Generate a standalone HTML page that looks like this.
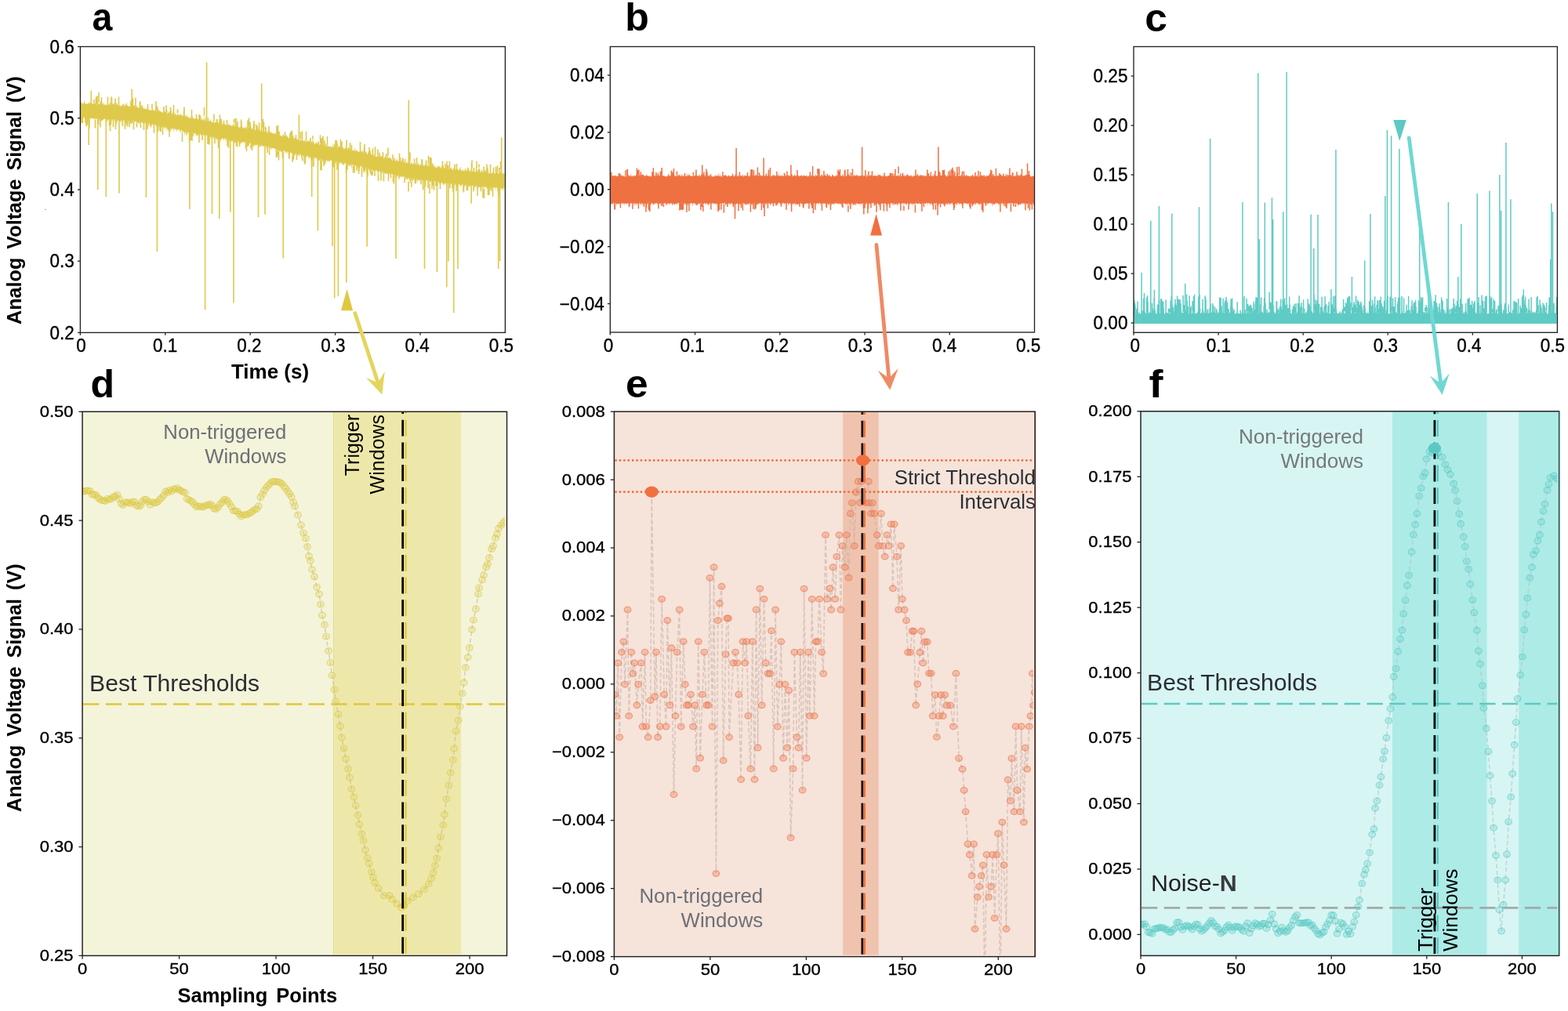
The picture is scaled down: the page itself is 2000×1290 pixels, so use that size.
<!DOCTYPE html><html><head><meta charset="utf-8"><title>Figure</title><style>html,body{margin:0;padding:0;background:#fff;overflow:hidden;}svg{display:block;}text{font-family:"Liberation Sans",Arial,Helvetica,sans-serif;fill:#000;}.tk{stroke:#000;stroke-width:0.35px;}</style></head><body>
<svg width="2000" height="1290" viewBox="0 0 2000 1290">
<rect x="0" y="0" width="2000" height="1290" fill="#ffffff"/>
<defs>
<clipPath id="cA"><rect x="102.4" y="59.5" width="542.0" height="364.9"/></clipPath>
<clipPath id="cB"><rect x="778.3" y="59.5" width="541.2" height="364.5"/></clipPath>
<clipPath id="cC"><rect x="1446.0" y="59.5" width="540.4" height="364.8"/></clipPath>
<clipPath id="cD"><rect x="105.1" y="525.3" width="541.4" height="694.1"/></clipPath>
<clipPath id="cE"><rect x="783.4" y="525.2" width="536.9" height="695.4"/></clipPath>
<clipPath id="cF"><rect x="1455.0" y="524.8" width="533.6" height="694.6"/></clipPath>
</defs>
<polygon points="103.0,132.9 103.5,129.3 104.0,129.7 104.5,131.7 105.0,132.3 105.5,131.7 106.0,131.6 106.5,133.1 107.0,131.2 107.5,128.1 108.0,128.9 108.5,133.1 109.0,131.5 109.5,133.0 110.0,132.4 110.5,132.2 111.0,131.2 111.5,133.0 112.0,133.1 112.5,131.7 113.0,131.2 113.5,129.4 114.0,132.6 114.5,131.8 115.0,128.4 115.5,131.5 116.0,132.5 116.5,130.5 117.0,129.7 117.5,133.8 118.0,131.4 118.5,133.3 119.0,131.9 119.5,132.9 120.0,132.0 120.5,133.2 121.0,132.6 121.5,131.2 122.0,133.6 122.5,131.9 123.0,133.2 123.5,133.6 124.0,131.2 124.5,130.7 125.0,132.5 125.5,132.0 126.0,129.5 126.5,134.1 127.0,133.0 127.5,132.4 128.0,130.6 128.5,132.2 129.0,132.8 129.5,133.5 130.0,132.0 130.5,130.9 131.0,133.0 131.5,133.0 132.0,129.8 132.5,133.8 133.0,134.1 133.5,132.7 134.0,133.6 134.5,134.8 135.0,134.0 135.5,132.5 136.0,133.3 136.5,134.7 137.0,133.7 137.5,133.6 138.0,132.1 138.5,133.4 139.0,134.7 139.5,133.4 140.0,131.7 140.5,130.2 141.0,130.9 141.5,132.8 142.0,134.0 142.5,135.1 143.0,132.6 143.5,131.9 144.0,131.9 144.5,133.9 145.0,131.9 145.5,131.1 146.0,134.7 146.5,131.9 147.0,135.0 147.5,131.4 148.0,130.0 148.5,130.7 149.0,134.1 149.5,133.8 150.0,131.4 150.5,134.7 151.0,133.8 151.5,135.1 152.0,135.9 152.5,135.4 153.0,133.9 153.5,134.9 154.0,135.2 154.5,135.8 155.0,135.5 155.5,132.5 156.0,134.8 156.5,132.8 157.0,135.7 157.5,132.2 158.0,132.6 158.5,134.8 159.0,130.4 159.5,136.2 160.0,135.1 160.5,132.4 161.0,132.8 161.5,129.3 162.0,134.2 162.5,134.7 163.0,134.9 163.5,134.3 164.0,135.9 164.5,135.7 165.0,136.2 165.5,133.7 166.0,136.7 166.5,134.2 167.0,135.6 167.5,135.9 168.0,130.9 168.5,132.9 169.0,134.7 169.5,135.3 170.0,135.4 170.5,135.6 171.0,133.5 171.5,135.0 172.0,134.5 172.5,137.2 173.0,135.6 173.5,135.6 174.0,136.4 174.5,134.7 175.0,136.5 175.5,137.8 176.0,137.5 176.5,137.3 177.0,133.0 177.5,138.3 178.0,137.9 178.5,135.6 179.0,137.2 179.5,137.1 180.0,136.9 180.5,133.4 181.0,137.0 181.5,134.1 182.0,133.4 182.5,137.2 183.0,138.5 183.5,138.4 184.0,138.2 184.5,138.3 185.0,139.4 185.5,139.6 186.0,135.9 186.5,139.8 187.0,138.2 187.5,140.1 188.0,139.2 188.5,138.9 189.0,138.4 189.5,140.0 190.0,140.0 190.5,140.8 191.0,139.9 191.5,140.8 192.0,139.9 192.5,140.3 193.0,141.5 193.5,140.0 194.0,138.0 194.5,139.3 195.0,139.8 195.5,140.0 196.0,141.6 196.5,140.6 197.0,141.5 197.5,140.8 198.0,139.5 198.5,140.2 199.0,139.0 199.5,142.7 200.0,139.6 200.5,143.0 201.0,138.7 201.5,138.2 202.0,139.0 202.5,142.1 203.0,142.0 203.5,139.5 204.0,142.8 204.5,141.0 205.0,142.6 205.5,143.3 206.0,141.4 206.5,143.7 207.0,143.3 207.5,144.0 208.0,142.7 208.5,141.9 209.0,142.5 209.5,143.4 210.0,141.8 210.5,143.9 211.0,140.3 211.5,142.5 212.0,143.8 212.5,143.4 213.0,144.2 213.5,145.2 214.0,145.4 214.5,139.3 215.0,145.3 215.5,143.1 216.0,144.1 216.5,142.0 217.0,142.0 217.5,143.7 218.0,144.1 218.5,141.9 219.0,146.6 219.5,143.7 220.0,146.1 220.5,141.6 221.0,146.6 221.5,145.9 222.0,146.0 222.5,146.5 223.0,145.8 223.5,145.1 224.0,143.5 224.5,147.1 225.0,147.2 225.5,146.9 226.0,145.2 226.5,143.3 227.0,147.0 227.5,146.4 228.0,145.8 228.5,146.5 229.0,145.7 229.5,147.6 230.0,146.7 230.5,143.2 231.0,146.7 231.5,147.4 232.0,147.5 232.5,145.8 233.0,148.4 233.5,147.9 234.0,145.3 234.5,146.2 235.0,148.4 235.5,149.8 236.0,146.6 236.5,146.7 237.0,149.2 237.5,147.0 238.0,148.7 238.5,149.3 239.0,145.3 239.5,148.8 240.0,150.0 240.5,149.1 241.0,150.5 241.5,151.0 242.0,149.9 242.5,150.7 243.0,148.1 243.5,151.1 244.0,150.8 244.5,150.2 245.0,148.8 245.5,149.9 246.0,147.7 246.5,151.1 247.0,151.4 247.5,151.3 248.0,151.0 248.5,151.7 249.0,150.7 249.5,151.9 250.0,148.3 250.5,149.1 251.0,151.5 251.5,148.6 252.0,152.5 252.5,152.2 253.0,152.9 253.5,150.3 254.0,152.4 254.5,143.5 255.0,150.2 255.5,152.9 256.0,153.1 256.5,153.5 257.0,149.1 257.5,151.0 258.0,153.1 258.5,154.3 259.0,150.0 259.5,152.7 260.0,154.3 260.5,146.7 261.0,152.8 261.5,152.5 262.0,155.0 262.5,155.1 263.0,153.0 263.5,155.1 264.0,153.4 264.5,155.0 265.0,148.3 265.5,152.3 266.0,148.1 266.5,155.6 267.0,153.7 267.5,154.5 268.0,155.8 268.5,151.0 269.0,153.9 269.5,154.1 270.0,156.2 270.5,156.7 271.0,156.0 271.5,153.4 272.0,155.6 272.5,156.2 273.0,153.8 273.5,156.9 274.0,157.3 274.5,155.4 275.0,156.1 275.5,156.0 276.0,150.1 276.5,155.2 277.0,156.5 277.5,157.6 278.0,155.4 278.5,157.2 279.0,157.5 279.5,151.7 280.0,158.1 280.5,157.3 281.0,154.4 281.5,153.9 282.0,155.1 282.5,156.0 283.0,153.2 283.5,157.8 284.0,159.4 284.5,156.9 285.0,159.3 285.5,159.2 286.0,155.7 286.5,158.7 287.0,158.8 287.5,159.2 288.0,159.0 288.5,160.0 289.0,159.5 289.5,160.5 290.0,158.5 290.5,159.3 291.0,159.3 291.5,159.2 292.0,156.1 292.5,160.8 293.0,158.4 293.5,160.1 294.0,159.8 294.5,159.3 295.0,161.2 295.5,160.9 296.0,160.0 296.5,158.2 297.0,160.2 297.5,161.7 298.0,157.6 298.5,155.5 299.0,161.0 299.5,160.8 300.0,161.2 300.5,161.1 301.0,161.6 301.5,158.3 302.0,161.8 302.5,161.7 303.0,161.9 303.5,161.0 304.0,161.6 304.5,162.7 305.0,161.1 305.5,163.3 306.0,162.9 306.5,161.5 307.0,163.6 307.5,162.3 308.0,159.8 308.5,161.2 309.0,160.5 309.5,162.5 310.0,163.9 310.5,163.2 311.0,163.6 311.5,161.9 312.0,164.3 312.5,160.5 313.0,164.7 313.5,160.9 314.0,164.5 314.5,161.7 315.0,161.6 315.5,164.9 316.0,165.1 316.5,160.8 317.0,163.4 317.5,159.6 318.0,161.6 318.5,160.7 319.0,164.0 319.5,164.6 320.0,165.6 320.5,162.1 321.0,162.6 321.5,165.0 322.0,164.3 322.5,165.7 323.0,162.4 323.5,165.7 324.0,164.2 324.5,162.1 325.0,165.8 325.5,166.7 326.0,164.2 326.5,163.5 327.0,166.1 327.5,165.4 328.0,166.3 328.5,166.6 329.0,166.8 329.5,164.8 330.0,163.2 330.5,167.2 331.0,167.5 331.5,166.6 332.0,163.0 332.5,168.3 333.0,165.5 333.5,161.8 334.0,166.6 334.5,168.3 335.0,168.2 335.5,161.8 336.0,167.0 336.5,164.5 337.0,167.1 337.5,167.3 338.0,167.3 338.5,165.1 339.0,166.9 339.5,165.8 340.0,169.1 340.5,169.6 341.0,167.7 341.5,165.8 342.0,169.9 342.5,167.4 343.0,167.0 343.5,167.8 344.0,169.5 344.5,165.0 345.0,170.6 345.5,168.3 346.0,170.3 346.5,168.0 347.0,168.5 347.5,169.5 348.0,170.7 348.5,170.2 349.0,171.0 349.5,168.7 350.0,171.6 350.5,171.2 351.0,168.9 351.5,169.3 352.0,170.6 352.5,171.9 353.0,172.3 353.5,170.2 354.0,170.3 354.5,171.0 355.0,172.4 355.5,172.7 356.0,171.6 356.5,171.7 357.0,171.7 357.5,173.6 358.0,171.3 358.5,173.5 359.0,174.1 359.5,173.2 360.0,174.6 360.5,172.6 361.0,171.4 361.5,171.1 362.0,173.0 362.5,174.8 363.0,171.6 363.5,173.9 364.0,172.1 364.5,172.8 365.0,173.6 365.5,171.7 366.0,174.0 366.5,175.0 367.0,173.8 367.5,173.4 368.0,176.2 368.5,176.7 369.0,175.6 369.5,174.4 370.0,174.6 370.5,174.8 371.0,176.0 371.5,176.6 372.0,176.1 372.5,174.8 373.0,174.1 373.5,176.5 374.0,177.8 374.5,174.5 375.0,176.9 375.5,175.7 376.0,175.6 376.5,175.8 377.0,178.8 377.5,178.4 378.0,176.1 378.5,178.2 379.0,178.5 379.5,175.8 380.0,178.6 380.5,178.1 381.0,179.9 381.5,178.4 382.0,178.8 382.5,179.8 383.0,178.9 383.5,176.1 384.0,178.3 384.5,180.3 385.0,178.3 385.5,177.3 386.0,177.8 386.5,178.7 387.0,180.9 387.5,178.7 388.0,181.0 388.5,177.0 389.0,181.5 389.5,178.5 390.0,181.3 390.5,179.1 391.0,181.7 391.5,179.8 392.0,180.5 392.5,179.5 393.0,179.2 393.5,181.4 394.0,177.5 394.5,181.1 395.0,179.1 395.5,181.3 396.0,180.8 396.5,178.6 397.0,183.0 397.5,179.2 398.0,182.6 398.5,179.0 399.0,176.7 399.5,183.1 400.0,177.9 400.5,182.7 401.0,182.1 401.5,184.2 402.0,183.7 402.5,183.0 403.0,180.2 403.5,181.4 404.0,183.4 404.5,184.1 405.0,181.2 405.5,180.7 406.0,179.9 406.5,182.7 407.0,180.6 407.5,185.4 408.0,185.2 408.5,181.5 409.0,185.2 409.5,185.0 410.0,181.8 410.5,182.5 411.0,183.7 411.5,182.4 412.0,182.0 412.5,183.3 413.0,183.9 413.5,186.2 414.0,183.7 414.5,186.3 415.0,183.3 415.5,182.4 416.0,184.2 416.5,186.8 417.0,186.7 417.5,184.0 418.0,183.4 418.5,187.4 419.0,187.0 419.5,186.2 420.0,186.4 420.5,186.6 421.0,187.3 421.5,187.0 422.0,186.8 422.5,187.9 423.0,186.5 423.5,188.3 424.0,187.4 424.5,182.2 425.0,187.3 425.5,187.9 426.0,184.7 426.5,183.1 427.0,184.1 427.5,185.7 428.0,188.8 428.5,182.4 429.0,188.2 429.5,186.0 430.0,188.9 430.5,182.7 431.0,183.2 431.5,186.9 432.0,189.3 432.5,186.3 433.0,186.9 433.5,185.8 434.0,187.0 434.5,186.2 435.0,188.2 435.5,187.4 436.0,188.2 436.5,187.6 437.0,188.3 437.5,187.5 438.0,188.6 438.5,190.7 439.0,189.9 439.5,188.7 440.0,190.6 440.5,186.0 441.0,190.7 441.5,190.4 442.0,189.7 442.5,188.2 443.0,187.0 443.5,191.0 444.0,188.8 444.5,188.2 445.0,187.5 445.5,191.7 446.0,189.8 446.5,192.3 447.0,190.5 447.5,191.7 448.0,188.3 448.5,191.6 449.0,192.4 449.5,191.9 450.0,192.8 450.5,190.8 451.0,190.8 451.5,192.3 452.0,193.2 452.5,186.9 453.0,192.6 453.5,193.4 454.0,188.3 454.5,194.1 455.0,191.2 455.5,192.5 456.0,192.0 456.5,193.2 457.0,193.8 457.5,194.5 458.0,192.9 458.5,193.6 459.0,193.6 459.5,192.1 460.0,193.5 460.5,194.0 461.0,190.0 461.5,194.3 462.0,191.8 462.5,192.4 463.0,195.8 463.5,192.4 464.0,195.2 464.5,194.7 465.0,194.0 465.5,196.7 466.0,193.6 466.5,193.2 467.0,194.3 467.5,193.4 468.0,197.0 468.5,196.0 469.0,196.9 469.5,192.6 470.0,195.2 470.5,193.1 471.0,198.0 471.5,198.0 472.0,198.0 472.5,197.2 473.0,194.7 473.5,196.5 474.0,196.4 474.5,198.1 475.0,197.6 475.5,197.3 476.0,197.4 476.5,198.6 477.0,197.9 477.5,197.2 478.0,198.7 478.5,197.4 479.0,199.9 479.5,199.7 480.0,199.6 480.5,199.9 481.0,200.1 481.5,195.7 482.0,196.5 482.5,198.9 483.0,199.7 483.5,197.6 484.0,200.9 484.5,201.5 485.0,200.1 485.5,197.5 486.0,201.5 486.5,198.8 487.0,199.7 487.5,198.6 488.0,199.3 488.5,200.6 489.0,201.3 489.5,202.9 490.0,201.1 490.5,201.0 491.0,200.4 491.5,198.1 492.0,200.1 492.5,200.6 493.0,199.8 493.5,203.0 494.0,202.1 494.5,198.6 495.0,197.3 495.5,202.0 496.0,201.0 496.5,201.2 497.0,201.5 497.5,201.7 498.0,200.9 498.5,202.3 499.0,202.1 499.5,204.5 500.0,203.2 500.5,205.5 501.0,202.4 501.5,202.0 502.0,204.9 502.5,202.3 503.0,200.2 503.5,201.3 504.0,203.8 504.5,206.3 505.0,204.9 505.5,201.0 506.0,206.2 506.5,203.4 507.0,203.5 507.5,205.4 508.0,206.5 508.5,206.0 509.0,205.8 509.5,207.1 510.0,205.4 510.5,206.2 511.0,207.8 511.5,204.9 512.0,205.7 512.5,200.6 513.0,207.1 513.5,202.5 514.0,207.3 514.5,208.1 515.0,206.2 515.5,207.4 516.0,207.6 516.5,207.5 517.0,208.8 517.5,208.5 518.0,207.3 518.5,206.1 519.0,208.9 519.5,206.6 520.0,207.6 520.5,208.1 521.0,208.2 521.5,202.4 522.0,209.0 522.5,206.9 523.0,204.4 523.5,209.8 524.0,209.3 524.5,207.1 525.0,205.4 525.5,209.3 526.0,209.3 526.5,210.1 527.0,207.1 527.5,207.4 528.0,209.9 528.5,205.8 529.0,210.3 529.5,206.0 530.0,208.0 530.5,210.9 531.0,208.4 531.5,208.1 532.0,207.0 532.5,210.5 533.0,209.7 533.5,207.2 534.0,208.8 534.5,210.8 535.0,211.3 535.5,211.5 536.0,208.5 536.5,210.0 537.0,210.4 537.5,211.7 538.0,211.3 538.5,211.4 539.0,206.1 539.5,210.4 540.0,211.5 540.5,211.6 541.0,210.7 541.5,211.2 542.0,211.4 542.5,209.9 543.0,208.5 543.5,212.7 544.0,209.4 544.5,212.2 545.0,209.7 545.5,210.4 546.0,213.0 546.5,209.3 547.0,211.6 547.5,212.5 548.0,209.5 548.5,210.9 549.0,207.8 549.5,212.5 550.0,213.0 550.5,210.3 551.0,207.8 551.5,210.2 552.0,207.0 552.5,209.7 553.0,211.8 553.5,213.1 554.0,207.5 554.5,214.1 555.0,213.1 555.5,214.1 556.0,210.8 556.5,213.3 557.0,214.4 557.5,213.8 558.0,213.8 558.5,212.0 559.0,211.3 559.5,212.3 560.0,212.6 560.5,210.8 561.0,214.2 561.5,213.1 562.0,215.3 562.5,213.7 563.0,209.5 563.5,212.6 564.0,215.5 564.5,214.0 565.0,211.8 565.5,210.0 566.0,213.6 566.5,215.5 567.0,214.4 567.5,214.0 568.0,213.9 568.5,213.6 569.0,214.3 569.5,213.9 570.0,216.3 570.5,216.1 571.0,212.8 571.5,214.3 572.0,216.6 572.5,215.6 573.0,213.0 573.5,214.9 574.0,214.7 574.5,213.8 575.0,215.2 575.5,213.9 576.0,216.4 576.5,214.6 577.0,215.5 577.5,217.5 578.0,216.6 578.5,213.7 579.0,214.2 579.5,215.4 580.0,217.5 580.5,215.4 581.0,216.6 581.5,217.7 582.0,214.3 582.5,216.8 583.0,216.2 583.5,214.7 584.0,217.7 584.5,216.7 585.0,214.2 585.5,218.4 586.0,215.9 586.5,215.9 587.0,213.3 587.5,212.6 588.0,218.3 588.5,218.0 589.0,215.6 589.5,218.5 590.0,217.4 590.5,215.1 591.0,218.4 591.5,217.9 592.0,217.6 592.5,218.5 593.0,215.3 593.5,214.0 594.0,216.4 594.5,217.1 595.0,218.1 595.5,218.2 596.0,213.7 596.5,211.9 597.0,217.7 597.5,218.6 598.0,217.9 598.5,218.6 599.0,219.2 599.5,216.4 600.0,217.3 600.5,219.3 601.0,219.6 601.5,219.6 602.0,213.5 602.5,219.2 603.0,219.6 603.5,217.2 604.0,219.1 604.5,218.6 605.0,218.5 605.5,219.7 606.0,219.1 606.5,220.1 607.0,215.0 607.5,211.2 608.0,213.9 608.5,218.1 609.0,220.3 609.5,215.7 610.0,217.0 610.5,216.8 611.0,212.8 611.5,219.8 612.0,218.3 612.5,220.4 613.0,218.7 613.5,220.5 614.0,214.2 614.5,218.1 615.0,217.2 615.5,220.3 616.0,217.1 616.5,221.0 617.0,218.2 617.5,219.7 618.0,217.9 618.5,217.4 619.0,216.9 619.5,217.1 620.0,220.2 620.5,218.2 621.0,218.2 621.5,220.9 622.0,220.0 622.5,220.2 623.0,217.7 623.5,221.2 624.0,221.7 624.5,221.5 625.0,221.8 625.5,221.3 626.0,220.3 626.5,221.6 627.0,221.4 627.5,220.1 628.0,221.0 628.5,221.8 629.0,216.3 629.5,220.9 630.0,221.5 630.5,219.7 631.0,221.9 631.5,222.1 632.0,221.8 632.5,222.5 633.0,221.3 633.5,217.5 634.0,217.5 634.5,218.2 635.0,221.7 635.5,220.9 636.0,221.7 636.5,221.2 637.0,220.7 637.5,219.4 638.0,222.1 638.5,214.9 639.0,220.2 639.5,222.4 640.0,222.1 640.5,221.6 641.0,222.4 641.5,219.2 642.0,221.3 642.5,221.3 643.0,221.4 643.5,221.9 643.5,240.6 643.0,239.5 642.5,240.2 642.0,246.1 641.5,239.4 641.0,240.3 640.5,243.3 640.0,241.3 639.5,239.7 639.0,242.9 638.5,240.0 638.0,239.7 637.5,240.3 637.0,240.8 636.5,243.7 636.0,239.4 635.5,239.3 635.0,245.5 634.5,243.8 634.0,239.7 633.5,239.2 633.0,239.3 632.5,239.6 632.0,244.5 631.5,239.0 631.0,239.7 630.5,238.8 630.0,239.2 629.5,239.5 629.0,240.7 628.5,239.4 628.0,239.1 627.5,238.8 627.0,238.6 626.5,238.5 626.0,241.2 625.5,242.1 625.0,239.3 624.5,239.3 624.0,239.2 623.5,239.6 623.0,241.6 622.5,239.8 622.0,240.0 621.5,242.4 621.0,238.1 620.5,240.6 620.0,238.7 619.5,239.7 619.0,237.5 618.5,238.8 618.0,238.2 617.5,241.7 617.0,237.4 616.5,237.8 616.0,242.6 615.5,241.3 615.0,240.1 614.5,237.4 614.0,237.7 613.5,237.6 613.0,240.3 612.5,238.3 612.0,239.3 611.5,237.8 611.0,238.8 610.5,239.4 610.0,240.8 609.5,237.1 609.0,238.5 608.5,238.0 608.0,240.4 607.5,236.9 607.0,236.4 606.5,239.0 606.0,238.8 605.5,237.5 605.0,241.1 604.5,240.4 604.0,239.1 603.5,236.3 603.0,238.6 602.5,236.8 602.0,236.4 601.5,237.2 601.0,237.0 600.5,237.6 600.0,238.2 599.5,236.2 599.0,238.2 598.5,238.8 598.0,239.5 597.5,236.1 597.0,239.3 596.5,235.7 596.0,237.4 595.5,239.2 595.0,243.0 594.5,235.4 594.0,237.3 593.5,235.7 593.0,237.9 592.5,237.2 592.0,239.6 591.5,236.5 591.0,235.1 590.5,236.0 590.0,235.1 589.5,235.2 589.0,235.7 588.5,237.8 588.0,237.4 587.5,238.2 587.0,236.8 586.5,235.3 586.0,235.2 585.5,235.6 585.0,235.7 584.5,235.7 584.0,237.4 583.5,234.9 583.0,235.2 582.5,239.3 582.0,236.5 581.5,235.0 581.0,236.0 580.5,235.4 580.0,234.2 579.5,241.4 579.0,236.8 578.5,241.7 578.0,238.5 577.5,234.1 577.0,234.0 576.5,236.8 576.0,234.7 575.5,233.4 575.0,235.3 574.5,233.7 574.0,235.2 573.5,235.2 573.0,234.5 572.5,233.8 572.0,234.0 571.5,233.6 571.0,235.7 570.5,234.2 570.0,233.5 569.5,236.2 569.0,232.7 568.5,236.0 568.0,232.6 567.5,235.4 567.0,236.4 566.5,233.2 566.0,237.0 565.5,235.8 565.0,234.8 564.5,233.7 564.0,233.5 563.5,232.1 563.0,235.3 562.5,234.3 562.0,232.3 561.5,233.3 561.0,235.7 560.5,234.4 560.0,233.0 559.5,232.7 559.0,231.6 558.5,231.4 558.0,233.1 557.5,235.6 557.0,233.2 556.5,231.7 556.0,230.9 555.5,231.0 555.0,231.9 554.5,230.8 554.0,232.1 553.5,233.4 553.0,231.2 552.5,230.1 552.0,237.9 551.5,232.1 551.0,232.2 550.5,230.7 550.0,230.0 549.5,233.0 549.0,234.0 548.5,230.2 548.0,235.6 547.5,233.9 547.0,229.4 546.5,229.9 546.0,230.0 545.5,229.5 545.0,231.2 544.5,229.9 544.0,231.5 543.5,229.2 543.0,230.4 542.5,230.4 542.0,236.5 541.5,231.5 541.0,232.9 540.5,231.1 540.0,229.7 539.5,231.4 539.0,232.2 538.5,229.4 538.0,229.3 537.5,230.0 537.0,229.4 536.5,230.5 536.0,228.4 535.5,230.9 535.0,228.2 534.5,232.9 534.0,229.0 533.5,230.1 533.0,230.0 532.5,232.9 532.0,229.4 531.5,227.4 531.0,230.1 530.5,228.5 530.0,227.2 529.5,227.0 529.0,227.9 528.5,228.0 528.0,231.0 527.5,229.6 527.0,226.9 526.5,232.8 526.0,230.4 525.5,230.3 525.0,233.5 524.5,229.4 524.0,226.7 523.5,229.5 523.0,231.6 522.5,230.1 522.0,227.5 521.5,227.3 521.0,233.0 520.5,225.9 520.0,227.4 519.5,228.9 519.0,229.0 518.5,228.2 518.0,229.9 517.5,225.1 517.0,229.6 516.5,228.2 516.0,228.7 515.5,225.1 515.0,226.1 514.5,225.2 514.0,225.7 513.5,224.7 513.0,227.4 512.5,224.6 512.0,227.5 511.5,224.7 511.0,225.0 510.5,226.7 510.0,224.4 509.5,228.2 509.0,228.9 508.5,229.6 508.0,223.6 507.5,223.6 507.0,228.2 506.5,224.1 506.0,226.7 505.5,224.9 505.0,223.0 504.5,225.7 504.0,229.8 503.5,222.6 503.0,223.5 502.5,223.1 502.0,223.9 501.5,225.2 501.0,223.0 500.5,222.6 500.0,221.8 499.5,221.5 499.0,222.9 498.5,221.5 498.0,223.9 497.5,221.8 497.0,222.5 496.5,220.8 496.0,224.0 495.5,223.6 495.0,220.8 494.5,223.9 494.0,221.2 493.5,221.8 493.0,221.9 492.5,221.9 492.0,220.8 491.5,222.3 491.0,220.2 490.5,221.8 490.0,219.8 489.5,220.5 489.0,219.8 488.5,219.3 488.0,221.4 487.5,218.4 487.0,221.9 486.5,219.1 486.0,218.7 485.5,221.7 485.0,217.8 484.5,219.3 484.0,221.4 483.5,217.5 483.0,219.5 482.5,222.4 482.0,220.8 481.5,217.0 481.0,222.3 480.5,216.8 480.0,218.2 479.5,217.5 479.0,216.8 478.5,219.8 478.0,216.3 477.5,217.3 477.0,216.7 476.5,219.0 476.0,217.7 475.5,218.3 475.0,219.5 474.5,216.0 474.0,216.6 473.5,218.9 473.0,215.7 472.5,215.6 472.0,215.2 471.5,220.7 471.0,217.7 470.5,214.4 470.0,217.7 469.5,214.6 469.0,214.4 468.5,218.0 468.0,217.0 467.5,221.4 467.0,215.6 466.5,213.3 466.0,215.9 465.5,214.2 465.0,214.9 464.5,212.9 464.0,214.4 463.5,217.0 463.0,213.1 462.5,213.5 462.0,215.3 461.5,214.8 461.0,212.6 460.5,211.8 460.0,211.6 459.5,214.0 459.0,213.1 458.5,215.5 458.0,212.2 457.5,213.0 457.0,212.9 456.5,213.5 456.0,214.8 455.5,214.6 455.0,211.6 454.5,210.3 454.0,211.4 453.5,211.8 453.0,210.7 452.5,211.5 452.0,211.3 451.5,209.7 451.0,210.1 450.5,213.5 450.0,210.6 449.5,209.1 449.0,215.8 448.5,214.4 448.0,211.1 447.5,209.1 447.0,211.4 446.5,213.6 446.0,211.4 445.5,211.8 445.0,210.4 444.5,210.4 444.0,210.2 443.5,210.5 443.0,208.2 442.5,211.1 442.0,212.1 441.5,213.2 441.0,209.6 440.5,208.2 440.0,207.8 439.5,207.9 439.0,212.2 438.5,209.8 438.0,210.2 437.5,211.0 437.0,208.2 436.5,207.4 436.0,210.9 435.5,208.6 435.0,207.6 434.5,207.0 434.0,209.4 433.5,207.0 433.0,207.6 432.5,209.8 432.0,209.1 431.5,206.9 431.0,206.5 430.5,206.9 430.0,208.4 429.5,206.5 429.0,205.8 428.5,211.1 428.0,208.4 427.5,205.5 427.0,207.6 426.5,205.5 426.0,207.6 425.5,205.4 425.0,205.3 424.5,208.1 424.0,213.0 423.5,207.2 423.0,204.5 422.5,205.3 422.0,204.5 421.5,204.0 421.0,205.7 420.5,206.1 420.0,206.5 419.5,204.6 419.0,205.9 418.5,206.3 418.0,204.9 417.5,204.5 417.0,206.7 416.5,203.7 416.0,208.9 415.5,206.1 415.0,203.6 414.5,203.1 414.0,203.8 413.5,205.3 413.0,206.0 412.5,203.7 412.0,206.2 411.5,204.9 411.0,207.0 410.5,202.9 410.0,206.5 409.5,202.2 409.0,205.3 408.5,205.2 408.0,203.2 407.5,204.5 407.0,206.2 406.5,204.5 406.0,204.0 405.5,203.3 405.0,201.4 404.5,201.4 404.0,205.7 403.5,201.5 403.0,201.5 402.5,200.9 402.0,202.4 401.5,202.5 401.0,200.8 400.5,201.2 400.0,201.5 399.5,201.8 399.0,204.4 398.5,201.3 398.0,202.3 397.5,203.6 397.0,203.5 396.5,205.5 396.0,201.1 395.5,200.1 395.0,200.0 394.5,201.8 394.0,203.5 393.5,201.7 393.0,199.1 392.5,199.3 392.0,198.9 391.5,200.1 391.0,199.6 390.5,200.3 390.0,201.8 389.5,198.3 389.0,202.8 388.5,199.3 388.0,199.1 387.5,197.7 387.0,201.5 386.5,198.6 386.0,201.3 385.5,198.4 385.0,199.8 384.5,204.8 384.0,199.6 383.5,196.8 383.0,197.0 382.5,196.5 382.0,197.6 381.5,200.6 381.0,199.5 380.5,197.5 380.0,196.9 379.5,198.9 379.0,198.3 378.5,195.7 378.0,195.7 377.5,195.6 377.0,196.9 376.5,196.5 376.0,197.5 375.5,195.4 375.0,196.4 374.5,195.3 374.0,198.0 373.5,196.8 373.0,199.7 372.5,198.1 372.0,193.9 371.5,195.9 371.0,195.0 370.5,193.8 370.0,195.9 369.5,196.0 369.0,194.5 368.5,196.3 368.0,193.3 367.5,193.7 367.0,197.0 366.5,193.4 366.0,193.1 365.5,195.3 365.0,195.9 364.5,194.6 364.0,193.4 363.5,193.2 363.0,192.5 362.5,192.1 362.0,191.4 361.5,196.0 361.0,192.9 360.5,193.8 360.0,194.1 359.5,192.2 359.0,195.2 358.5,193.3 358.0,194.1 357.5,190.9 357.0,195.1 356.5,191.9 356.0,192.9 355.5,194.4 355.0,194.7 354.5,192.6 354.0,190.4 353.5,192.8 353.0,190.5 352.5,192.3 352.0,189.9 351.5,190.3 351.0,192.5 350.5,189.6 350.0,189.5 349.5,189.0 349.0,189.2 348.5,189.3 348.0,188.5 347.5,189.5 347.0,188.5 346.5,191.6 346.0,187.4 345.5,192.2 345.0,187.7 344.5,189.4 344.0,186.7 343.5,186.6 343.0,186.5 342.5,187.0 342.0,188.0 341.5,189.4 341.0,186.7 340.5,186.9 340.0,186.8 339.5,186.8 339.0,189.9 338.5,185.8 338.0,185.8 337.5,186.2 337.0,186.5 336.5,186.0 336.0,186.4 335.5,187.0 335.0,187.7 334.5,185.0 334.0,185.9 333.5,185.1 333.0,187.4 332.5,186.2 332.0,187.0 331.5,189.0 331.0,184.3 330.5,188.0 330.0,187.3 329.5,184.3 329.0,184.7 328.5,184.2 328.0,184.7 327.5,185.7 327.0,184.5 326.5,185.6 326.0,186.4 325.5,185.5 325.0,183.6 324.5,185.7 324.0,185.1 323.5,190.1 323.0,183.0 322.5,184.2 322.0,184.8 321.5,183.1 321.0,185.4 320.5,182.5 320.0,185.5 319.5,183.2 319.0,183.6 318.5,181.8 318.0,184.0 317.5,182.9 317.0,182.8 316.5,181.6 316.0,183.6 315.5,181.4 315.0,186.1 314.5,181.5 314.0,181.1 313.5,183.0 313.0,181.8 312.5,181.6 312.0,181.8 311.5,182.0 311.0,180.8 310.5,181.7 310.0,181.6 309.5,181.3 309.0,183.0 308.5,180.6 308.0,183.2 307.5,181.7 307.0,183.4 306.5,184.8 306.0,180.1 305.5,179.5 305.0,184.1 304.5,181.1 304.0,180.8 303.5,180.0 303.0,179.5 302.5,179.9 302.0,180.7 301.5,181.1 301.0,181.2 300.5,181.7 300.0,181.8 299.5,183.3 299.0,181.3 298.5,180.3 298.0,180.3 297.5,182.3 297.0,179.5 296.5,179.8 296.0,181.0 295.5,181.0 295.0,178.5 294.5,180.3 294.0,179.7 293.5,178.8 293.0,180.2 292.5,178.4 292.0,180.8 291.5,177.9 291.0,177.4 290.5,179.9 290.0,179.1 289.5,177.5 289.0,177.5 288.5,177.0 288.0,181.6 287.5,177.6 287.0,178.1 286.5,176.0 286.0,177.0 285.5,179.7 285.0,178.3 284.5,176.2 284.0,177.3 283.5,176.1 283.0,176.6 282.5,177.4 282.0,177.6 281.5,178.9 281.0,183.5 280.5,176.4 280.0,179.6 279.5,175.4 279.0,175.1 278.5,177.3 278.0,179.0 277.5,176.4 277.0,178.1 276.5,180.6 276.0,175.6 275.5,176.2 275.0,178.4 274.5,174.8 274.0,176.8 273.5,177.3 273.0,174.3 272.5,177.3 272.0,174.9 271.5,174.0 271.0,176.2 270.5,174.3 270.0,178.0 269.5,176.1 269.0,173.8 268.5,175.3 268.0,176.5 267.5,173.6 267.0,173.4 266.5,173.4 266.0,173.7 265.5,175.2 265.0,174.3 264.5,174.5 264.0,172.8 263.5,172.3 263.0,174.2 262.5,172.5 262.0,171.6 261.5,171.4 261.0,171.9 260.5,173.8 260.0,172.4 259.5,171.5 259.0,174.3 258.5,170.9 258.0,171.2 257.5,172.1 257.0,171.9 256.5,172.3 256.0,173.2 255.5,169.9 255.0,172.9 254.5,174.1 254.0,172.6 253.5,169.8 253.0,170.3 252.5,172.7 252.0,173.7 251.5,172.5 251.0,173.0 250.5,172.4 250.0,173.4 249.5,170.5 249.0,169.4 248.5,171.2 248.0,169.5 247.5,171.3 247.0,171.6 246.5,168.3 246.0,170.9 245.5,171.3 245.0,169.3 244.5,172.4 244.0,169.3 243.5,170.2 243.0,173.6 242.5,172.0 242.0,167.2 241.5,171.5 241.0,168.8 240.5,171.3 240.0,168.6 239.5,168.6 239.0,171.7 238.5,167.3 238.0,166.7 237.5,167.8 237.0,169.4 236.5,169.7 236.0,166.9 235.5,174.7 235.0,168.1 234.5,169.2 234.0,167.7 233.5,167.3 233.0,168.7 232.5,169.9 232.0,165.9 231.5,166.0 231.0,166.0 230.5,169.1 230.0,166.9 229.5,170.4 229.0,166.1 228.5,164.9 228.0,165.2 227.5,165.5 227.0,164.6 226.5,165.8 226.0,166.1 225.5,168.9 225.0,166.0 224.5,164.9 224.0,163.8 223.5,165.5 223.0,166.5 222.5,163.7 222.0,163.6 221.5,169.0 221.0,165.5 220.5,163.4 220.0,163.7 219.5,165.7 219.0,165.6 218.5,163.0 218.0,165.5 217.5,167.4 217.0,163.3 216.5,162.9 216.0,164.5 215.5,164.7 215.0,162.0 214.5,162.5 214.0,166.9 213.5,162.9 213.0,164.7 212.5,161.7 212.0,168.6 211.5,163.7 211.0,161.6 210.5,162.4 210.0,165.3 209.5,160.9 209.0,164.7 208.5,163.6 208.0,160.6 207.5,160.8 207.0,162.5 206.5,160.7 206.0,162.8 205.5,165.2 205.0,161.0 204.5,160.5 204.0,160.0 203.5,165.6 203.0,162.0 202.5,159.7 202.0,163.5 201.5,161.7 201.0,160.1 200.5,159.0 200.0,161.2 199.5,161.1 199.0,160.6 198.5,159.8 198.0,159.6 197.5,158.6 197.0,159.2 196.5,160.6 196.0,164.1 195.5,159.4 195.0,158.3 194.5,158.3 194.0,160.1 193.5,159.2 193.0,159.7 192.5,159.4 192.0,158.2 191.5,161.2 191.0,161.1 190.5,157.2 190.0,157.1 189.5,162.3 189.0,160.6 188.5,158.3 188.0,160.3 187.5,156.8 187.0,157.8 186.5,158.4 186.0,157.6 185.5,156.1 185.0,156.7 184.5,156.9 184.0,159.5 183.5,157.3 183.0,157.6 182.5,158.6 182.0,155.4 181.5,157.7 181.0,156.6 180.5,155.3 180.0,156.6 179.5,159.9 179.0,160.5 178.5,156.7 178.0,160.9 177.5,155.0 177.0,156.7 176.5,157.4 176.0,156.7 175.5,157.2 175.0,155.7 174.5,157.5 174.0,154.7 173.5,155.6 173.0,154.5 172.5,154.8 172.0,155.8 171.5,155.3 171.0,154.4 170.5,154.4 170.0,154.0 169.5,153.1 169.0,156.3 168.5,152.9 168.0,157.1 167.5,153.7 167.0,153.6 166.5,159.7 166.0,155.8 165.5,154.3 165.0,154.6 164.5,153.9 164.0,159.5 163.5,155.7 163.0,153.2 162.5,155.8 162.0,155.5 161.5,153.5 161.0,154.2 160.5,152.9 160.0,156.5 159.5,154.4 159.0,157.3 158.5,153.4 158.0,153.1 157.5,154.1 157.0,153.2 156.5,152.5 156.0,153.2 155.5,154.3 155.0,153.2 154.5,159.6 154.0,155.6 153.5,153.0 153.0,156.8 152.5,155.9 152.0,154.5 151.5,154.2 151.0,153.1 150.5,153.4 150.0,157.2 149.5,153.3 149.0,156.5 148.5,154.2 148.0,155.4 147.5,153.9 147.0,152.2 146.5,157.0 146.0,152.6 145.5,151.8 145.0,154.9 144.5,153.5 144.0,152.0 143.5,153.8 143.0,151.9 142.5,152.7 142.0,155.6 141.5,153.8 141.0,154.4 140.5,155.6 140.0,151.4 139.5,151.5 139.0,151.2 138.5,152.6 138.0,152.5 137.5,155.8 137.0,151.8 136.5,156.4 136.0,152.5 135.5,152.1 135.0,151.6 134.5,151.6 134.0,151.2 133.5,152.1 133.0,152.0 132.5,152.4 132.0,152.2 131.5,152.4 131.0,153.1 130.5,154.5 130.0,153.3 129.5,154.4 129.0,154.6 128.5,157.5 128.0,152.5 127.5,154.1 127.0,151.4 126.5,151.1 126.0,159.1 125.5,150.5 125.0,153.2 124.5,151.0 124.0,151.2 123.5,153.2 123.0,151.1 122.5,151.3 122.0,151.0 121.5,154.1 121.0,153.8 120.5,150.5 120.0,152.4 119.5,151.4 119.0,150.3 118.5,151.7 118.0,152.5 117.5,150.0 117.0,151.8 116.5,150.3 116.0,153.1 115.5,150.3 115.0,151.6 114.5,150.9 114.0,152.4 113.5,150.5 113.0,152.3 112.5,150.1 112.0,150.5 111.5,150.2 111.0,150.3 110.5,152.3 110.0,151.2 109.5,152.0 109.0,151.3 108.5,154.1 108.0,150.5 107.5,150.0 107.0,149.8 106.5,149.3 106.0,153.0 105.5,149.7 105.0,149.8 104.5,150.0 104.0,149.7 103.5,151.9 103.0,154.5" fill="#dfc94b" clip-path="url(#cA)"/>
<path d="M549.0 208.8V204.4M539.5 230.4V242.3M399.0 177.7V173.3M360.5 192.8V202.0M336.0 168.0V161.6M192.5 158.4V162.6M254.0 153.4V146.2M238.0 165.7V172.5M199.0 140.0V129.3M523.5 228.5V233.7M551.0 231.2V240.8M608.0 214.9V205.7M128.0 151.5V162.6M413.0 205.0V212.1M410.5 183.5V176.2M525.0 232.5V238.8M411.0 184.7V178.8M553.5 232.4V242.8M363.5 174.9V168.2M324.5 163.1V158.1M498.5 220.5V227.1M274.0 175.8V183.2M528.5 206.8V202.5M405.5 202.3V211.9M611.5 220.8V215.2M436.0 189.2V180.6M409.5 186.0V176.8M152.0 153.5V159.1M104.0 148.7V157.3M628.5 238.4V251.1M129.5 134.5V124.3M621.0 219.2V209.6M305.5 178.5V186.7M591.0 234.1V244.1M637.0 221.7V213.9M289.5 161.5V153.1M558.0 232.1V237.4M165.0 153.6V162.1M301.0 162.6V151.0M478.5 198.4V187.2M217.5 144.7V136.7M142.5 136.1V124.5M301.5 180.1V186.0M221.0 147.6V142.5M461.5 213.8V225.8M111.5 149.2V158.7M429.5 187.0V178.9M450.5 212.5V220.4M582.5 217.8V209.1M285.5 160.2V154.1M183.5 156.3V165.9M196.5 159.6V169.7M626.5 237.5V243.7M188.0 159.3V164.5M179.0 138.2V131.1M602.0 214.5V204.3M250.5 150.1V145.8M521.0 232.0V244.4M314.5 180.5V193.1M609.0 237.5V249.8M110.0 150.2V161.2M551.5 231.1V236.1M564.5 215.0V205.4M354.5 172.0V160.1M356.0 172.6V167.4M472.0 199.0V191.9M246.0 169.9V174.0M486.0 217.7V230.4M316.0 166.1V153.6M595.5 238.2V243.4M320.0 184.5V189.5M510.5 207.2V201.0M319.5 165.6V160.3M273.0 154.8V145.6M383.5 177.1V168.4M159.5 153.4V165.1M212.0 144.8V134.2M147.5 152.9V165.1M390.5 180.1V167.8M205.0 160.0V168.3M204.0 159.0V166.7M258.0 170.2V179.0M105.5 148.7V156.9M277.0 157.5V152.1M327.0 167.1V158.8M369.0 193.5V202.8M622.0 221.0V214.2M216.0 163.5V174.7M144.5 152.5V162.3M475.5 198.3V189.2M338.5 166.1V161.5M321.5 182.1V191.9M398.0 201.3V212.0M611.0 213.8V209.6M484.0 201.9V194.8M577.0 233.0V240.4M493.0 200.8V196.1M538.0 212.3V203.0M516.5 208.5V202.9M632.5 223.5V212.8M582.0 235.5V243.9M601.5 220.6V208.2M414.5 202.1V208.8M323.5 166.7V158.3M377.5 179.4V172.0M514.0 208.3V201.5M455.0 210.6V218.1M263.5 156.1V146.9M141.5 152.8V158.9M201.5 160.7V168.1M537.0 228.4V235.2M509.5 208.1V195.5M452.0 210.3V220.6M502.5 222.1V234.5M448.5 192.6V184.7M386.0 200.3V205.5M622.5 238.8V249.0M409.0 204.3V217.0M266.5 172.4V184.6M442.0 190.7V178.4M389.5 197.3V208.3M167.0 136.6V128.4M529.5 226.0V234.6M596.5 234.7V242.8M214.5 161.5V166.5M370.0 175.6V170.0M371.0 177.0V167.8M573.5 215.9V205.8M617.5 240.7V253.0M328.0 167.3V161.0M571.5 215.3V211.1M501.5 224.2V232.3M316.5 161.8V156.4M173.0 136.6V124.7M472.5 214.6V221.7M167.5 152.7V157.8M218.0 145.1V140.5M469.0 213.4V225.3M465.0 195.0V183.7M109.0 150.3V156.4M162.5 154.8V161.8M561.5 232.3V241.2M372.5 175.8V166.4M629.5 221.9V213.4M495.0 198.3V188.6M170.5 153.4V165.4M291.5 176.9V188.8M226.5 144.3V139.3M317.0 181.8V186.2M290.0 178.1V186.5M128.5 133.2V129.0M241.5 170.5V182.0M324.0 165.2V154.2M147.0 136.0V125.7M584.0 236.4V246.1M471.0 199.0V187.9M397.5 202.6V214.1M120.0 133.0V126.7M121.5 153.1V163.4M279.0 174.1V182.1M243.5 169.2V179.0M624.0 238.2V248.7M501.0 203.4V197.3M244.5 151.2V140.0M216.5 161.9V168.8M341.0 185.7V194.9M375.5 194.4V198.6M636.0 238.4V250.3M578.0 237.5V245.3M546.5 210.3V198.7M574.0 234.2V240.3M583.5 233.9V239.0M282.0 156.1V151.8M597.5 219.6V214.7M617.0 219.2V212.6M546.0 229.0V240.2M568.0 214.9V209.1M430.0 207.4V216.8M303.0 162.9V155.1M495.5 222.6V231.0M148.0 154.4V158.6M396.0 181.8V176.1M505.0 222.0V231.3M267.0 172.4V184.4M161.5 152.5V159.5M280.5 158.3V146.4M179.5 158.9V163.1M308.0 160.8V155.2M408.5 182.5V172.2M638.5 215.9V205.9M475.0 218.5V224.1M221.5 146.9V134.1M353.5 191.8V200.3M302.5 178.9V187.8M489.5 219.5V231.4M156.5 151.5V161.2M604.0 238.1V244.2M473.5 217.9V223.7M482.0 197.5V190.4M388.5 198.3V209.7M412.0 183.0V173.5M634.5 219.2V211.2M139.5 150.5V160.3M330.5 168.2V156.5M278.5 176.3V189.0M353.0 173.3V160.6M125.5 149.5V159.1M151.5 136.1V123.4M441.5 212.2V220.9M178.5 136.6V129.1M604.5 219.6V214.0M124.0 132.2V122.2M343.5 185.6V197.8M188.5 139.9V133.1M336.5 165.5V155.9M343.0 168.0V161.1M417.5 185.0V174.0M468.0 216.0V221.2M385.5 178.3V167.2M313.5 182.0V189.2M137.5 134.6V123.7M552.5 229.1V236.7M111.0 149.3V159.7M374.5 194.3V203.6M625.5 222.3V209.7M368.5 195.3V200.7M443.0 207.2V216.4M122.5 132.9V123.6M354.0 171.3V164.2M317.5 160.6V150.4M323.0 182.0V186.3M464.5 195.7V188.3M428.0 189.8V178.8M140.5 154.6V167.2M187.0 156.8V165.2M378.5 194.7V204.1M355.0 193.7V198.1M523.0 205.4V194.2M464.0 213.4V220.2M319.0 165.0V155.8M160.5 151.9V156.4M413.5 204.3V210.3M531.5 209.1V201.1M260.5 147.7V137.0M522.0 210.0V201.5M245.0 168.3V179.7M168.5 151.9V157.1M548.0 234.6V247.0M459.5 193.1V180.9M478.0 215.3V224.7M414.0 184.7V179.2M232.5 168.9V180.8M580.0 218.5V209.5M400.0 200.5V212.8M488.5 201.6V194.2M255.5 153.9V147.1M516.0 227.7V233.3M446.5 193.3V181.9M114.0 151.4V163.7M263.0 154.0V149.3M200.5 144.0V135.5M465.5 213.2V218.2M174.5 156.5V162.5M542.5 229.4V238.4M570.0 217.3V205.8M307.5 163.3V152.4M207.5 159.8V171.7M550.0 214.0V201.2M209.0 143.5V136.1M235.0 149.4V136.5M194.0 139.0V132.4M339.0 167.9V163.2M355.5 193.4V204.4M613.5 236.6V244.3M234.5 147.2V141.7M434.5 187.2V177.7M530.5 227.5V233.7M591.5 235.5V245.4M212.5 144.4V140.1M126.0 130.5V117.9M298.5 156.5V152.0M315.5 180.4V186.8M352.5 191.3V201.3M457.5 212.0V221.9M373.0 198.7V206.8M335.5 162.8V151.8M373.5 177.5V172.9M556.0 229.9V237.4M458.0 211.2V218.8M616.0 241.6V252.6M169.5 136.3V125.4M543.5 213.7V204.6M142.0 135.0V123.4M300.5 162.1V150.7M425.5 204.4V213.6M410.0 205.5V217.4M538.5 212.4V204.3M265.0 173.3V184.1M482.5 221.4V230.9M548.5 211.9V200.8M113.2 141.6V185.0M124.8 142.3V242.0M135.3 142.9V251.0M152.0 143.9V246.5M186.4 148.2V252.0M200.4 151.0V321.0M241.9 159.2V266.7M254.0 161.6V182.0M261.6 163.1V395.3M270.5 164.8V273.0M279.8 166.7V279.0M293.8 169.3V270.5M298.0 170.1V386.4M329.5 175.8V277.0M338.0 177.3V273.6M361.2 183.0V329.5M397.7 191.9V251.0M405.4 193.2V294.6M424.0 196.5V314.0M426.7 196.9V380.6M431.4 197.8V378.0M441.9 199.6V360.5M468.2 205.6V314.7M505.0 214.8V330.0M541.5 220.5V343.0M557.4 222.8V347.0M569.8 224.5V366.3M572.0 224.9V333.3M578.7 225.8V399.2M584.0 226.3V343.0M601.2 227.8V259.7M635.7 230.8V343.0M637.6 230.9V333.3M116.3 141.8V115.5M168.2 144.9V113.6M263.6 163.5V79.5M333.7 176.6V106.6M381.4 188.0V146.5M521.3 217.6V128.0M639.7 231.1V175.6" fill="none" stroke="#dfc94b" stroke-width="1.60" clip-path="url(#cA)"/>
<polygon points="778.9,222.5 779.4,224.3 779.9,224.6 780.4,225.2 780.9,224.3 781.4,223.9 781.9,224.0 782.4,225.2 782.9,224.3 783.4,224.5 783.9,222.9 784.4,224.2 784.9,224.9 785.4,223.5 785.9,224.5 786.4,224.8 786.9,225.1 787.4,225.2 787.9,223.7 788.4,224.6 788.9,225.2 789.4,225.4 789.9,225.5 790.4,223.6 790.9,224.4 791.4,224.1 791.9,223.7 792.4,223.0 792.9,225.0 793.4,222.7 793.9,224.9 794.4,224.9 794.9,223.1 795.4,225.2 795.9,224.6 796.4,225.4 796.9,224.7 797.4,225.0 797.9,223.4 798.4,225.4 798.9,225.3 799.4,225.5 799.9,224.4 800.4,225.1 800.9,225.0 801.4,222.5 801.9,223.6 802.4,225.3 802.9,223.8 803.4,224.7 803.9,224.9 804.4,224.0 804.9,221.3 805.4,225.0 805.9,225.3 806.4,224.8 806.9,225.4 807.4,224.8 807.9,223.6 808.4,223.7 808.9,225.3 809.4,223.2 809.9,224.6 810.4,225.0 810.9,224.3 811.4,222.1 811.9,223.1 812.4,224.2 812.9,225.3 813.4,222.2 813.9,224.2 814.4,223.6 814.9,224.6 815.4,222.7 815.9,224.5 816.4,221.9 816.9,225.1 817.4,224.2 817.9,222.7 818.4,223.8 818.9,223.0 819.4,222.0 819.9,223.6 820.4,223.3 820.9,222.5 821.4,224.1 821.9,224.7 822.4,225.1 822.9,224.2 823.4,224.7 823.9,223.5 824.4,221.8 824.9,224.4 825.4,223.9 825.9,224.5 826.4,223.8 826.9,225.0 827.4,224.7 827.9,225.1 828.4,225.2 828.9,222.9 829.4,225.0 829.9,225.4 830.4,225.0 830.9,224.6 831.4,224.6 831.9,224.3 832.4,224.3 832.9,224.8 833.4,224.0 833.9,224.1 834.4,223.9 834.9,223.8 835.4,225.4 835.9,223.7 836.4,221.0 836.9,224.1 837.4,224.1 837.9,224.3 838.4,224.7 838.9,221.4 839.4,225.3 839.9,223.8 840.4,224.6 840.9,222.6 841.4,223.9 841.9,225.2 842.4,225.3 842.9,223.5 843.4,224.2 843.9,223.9 844.4,225.3 844.9,225.2 845.4,223.2 845.9,224.4 846.4,224.2 846.9,224.9 847.4,223.8 847.9,225.1 848.4,225.2 848.9,225.5 849.4,224.7 849.9,224.8 850.4,225.3 850.9,225.3 851.4,223.1 851.9,225.3 852.4,221.5 852.9,221.4 853.4,224.8 853.9,225.0 854.4,222.9 854.9,224.4 855.4,223.6 855.9,224.8 856.4,224.8 856.9,223.5 857.4,224.7 857.9,225.0 858.4,225.4 858.9,223.8 859.4,223.8 859.9,222.9 860.4,224.8 860.9,225.0 861.4,224.2 861.9,224.9 862.4,224.4 862.9,223.7 863.4,222.2 863.9,224.7 864.4,224.2 864.9,222.8 865.4,222.0 865.9,224.7 866.4,223.4 866.9,223.6 867.4,222.5 867.9,224.7 868.4,225.0 868.9,224.8 869.4,223.4 869.9,221.3 870.4,224.8 870.9,224.9 871.4,225.5 871.9,222.6 872.4,224.5 872.9,225.2 873.4,223.9 873.9,224.9 874.4,224.9 874.9,224.9 875.4,224.5 875.9,221.1 876.4,224.5 876.9,224.4 877.4,224.4 877.9,220.4 878.4,223.6 878.9,224.4 879.4,221.4 879.9,224.2 880.4,224.3 880.9,224.6 881.4,225.0 881.9,224.4 882.4,225.2 882.9,224.8 883.4,224.4 883.9,224.1 884.4,222.4 884.9,223.9 885.4,224.3 885.9,225.2 886.4,223.8 886.9,223.7 887.4,221.7 887.9,225.0 888.4,223.0 888.9,224.1 889.4,223.7 889.9,224.8 890.4,225.2 890.9,224.3 891.4,223.9 891.9,222.3 892.4,223.3 892.9,225.3 893.4,225.2 893.9,224.2 894.4,222.2 894.9,222.3 895.4,224.4 895.9,225.2 896.4,223.4 896.9,224.1 897.4,224.6 897.9,225.2 898.4,222.3 898.9,225.1 899.4,225.4 899.9,223.2 900.4,221.6 900.9,222.1 901.4,224.4 901.9,224.8 902.4,222.6 902.9,223.5 903.4,224.7 903.9,225.1 904.4,224.1 904.9,222.9 905.4,225.4 905.9,225.1 906.4,224.5 906.9,220.4 907.4,225.3 907.9,224.8 908.4,225.5 908.9,225.2 909.4,224.9 909.9,225.3 910.4,225.4 910.9,225.3 911.4,224.7 911.9,224.6 912.4,223.7 912.9,222.5 913.4,225.1 913.9,224.7 914.4,223.2 914.9,224.7 915.4,223.1 915.9,225.3 916.4,223.9 916.9,220.1 917.4,224.9 917.9,225.3 918.4,224.4 918.9,221.8 919.4,225.5 919.9,225.3 920.4,224.3 920.9,225.4 921.4,225.4 921.9,224.1 922.4,224.5 922.9,224.1 923.4,224.6 923.9,223.0 924.4,223.8 924.9,224.2 925.4,222.6 925.9,224.3 926.4,225.0 926.9,223.0 927.4,224.9 927.9,225.5 928.4,225.1 928.9,223.4 929.4,224.2 929.9,222.7 930.4,224.9 930.9,224.9 931.4,224.7 931.9,225.0 932.4,224.3 932.9,223.8 933.4,224.9 933.9,223.7 934.4,220.2 934.9,222.2 935.4,222.9 935.9,225.4 936.4,225.2 936.9,224.7 937.4,224.8 937.9,222.0 938.4,221.9 938.9,222.6 939.4,225.4 939.9,224.2 940.4,224.7 940.9,225.3 941.4,223.2 941.9,224.1 942.4,225.0 942.9,225.5 943.4,225.4 943.9,224.6 944.4,224.2 944.9,224.4 945.4,223.2 945.9,225.1 946.4,225.2 946.9,223.7 947.4,222.2 947.9,223.4 948.4,225.4 948.9,225.2 949.4,224.0 949.9,224.0 950.4,222.8 950.9,223.9 951.4,225.1 951.9,224.2 952.4,224.0 952.9,224.6 953.4,225.1 953.9,224.9 954.4,223.7 954.9,225.3 955.4,225.2 955.9,224.2 956.4,225.4 956.9,221.8 957.4,223.8 957.9,223.2 958.4,223.0 958.9,223.4 959.4,224.0 959.9,225.0 960.4,223.9 960.9,223.3 961.4,225.1 961.9,223.7 962.4,224.9 962.9,222.9 963.4,225.3 963.9,221.4 964.4,223.0 964.9,223.4 965.4,223.7 965.9,224.2 966.4,222.7 966.9,223.5 967.4,225.0 967.9,224.9 968.4,224.1 968.9,222.9 969.4,225.3 969.9,221.9 970.4,223.5 970.9,224.0 971.4,225.2 971.9,224.1 972.4,224.2 972.9,224.4 973.4,221.5 973.9,225.4 974.4,224.5 974.9,225.4 975.4,223.2 975.9,224.5 976.4,223.8 976.9,224.5 977.4,223.7 977.9,225.0 978.4,225.0 978.9,224.2 979.4,224.1 979.9,222.8 980.4,225.1 980.9,225.0 981.4,225.0 981.9,223.5 982.4,223.4 982.9,224.4 983.4,224.7 983.9,225.0 984.4,224.3 984.9,225.0 985.4,222.3 985.9,225.3 986.4,221.9 986.9,224.7 987.4,223.1 987.9,224.5 988.4,223.4 988.9,223.4 989.4,225.1 989.9,224.9 990.4,221.9 990.9,223.0 991.4,223.5 991.9,224.6 992.4,223.2 992.9,225.1 993.4,220.3 993.9,225.1 994.4,224.5 994.9,224.6 995.4,224.7 995.9,224.1 996.4,223.8 996.9,223.3 997.4,224.7 997.9,224.3 998.4,224.7 998.9,223.8 999.4,224.8 999.9,225.2 1000.4,223.3 1000.9,224.7 1001.4,223.4 1001.9,222.0 1002.4,223.9 1002.9,224.9 1003.4,224.7 1003.9,223.8 1004.4,224.2 1004.9,221.7 1005.4,224.5 1005.9,223.8 1006.4,223.2 1006.9,225.2 1007.4,225.1 1007.9,222.8 1008.4,225.5 1008.9,223.8 1009.4,225.4 1009.9,224.7 1010.4,222.9 1010.9,224.3 1011.4,224.9 1011.9,225.2 1012.4,224.0 1012.9,224.6 1013.4,223.8 1013.9,222.1 1014.4,223.4 1014.9,224.6 1015.4,224.4 1015.9,225.4 1016.4,222.5 1016.9,223.7 1017.4,223.4 1017.9,224.0 1018.4,224.7 1018.9,223.3 1019.4,225.4 1019.9,224.9 1020.4,224.8 1020.9,224.4 1021.4,223.0 1021.9,224.5 1022.4,223.2 1022.9,224.2 1023.4,225.4 1023.9,224.8 1024.4,222.4 1024.9,224.9 1025.4,223.4 1025.9,224.7 1026.4,223.9 1026.9,224.0 1027.4,225.2 1027.9,224.2 1028.4,222.9 1028.9,224.5 1029.4,225.0 1029.9,225.0 1030.4,224.5 1030.9,225.4 1031.4,225.1 1031.9,224.7 1032.4,224.0 1032.9,222.7 1033.4,224.9 1033.9,225.1 1034.4,225.3 1034.9,223.7 1035.4,223.1 1035.9,224.6 1036.4,222.3 1036.9,224.1 1037.4,224.5 1037.9,225.0 1038.4,224.4 1038.9,224.5 1039.4,224.8 1039.9,225.0 1040.4,222.1 1040.9,222.9 1041.4,224.7 1041.9,224.6 1042.4,223.7 1042.9,220.4 1043.4,225.3 1043.9,224.0 1044.4,225.2 1044.9,224.3 1045.4,225.3 1045.9,223.6 1046.4,225.3 1046.9,225.4 1047.4,222.9 1047.9,223.3 1048.4,223.4 1048.9,221.5 1049.4,225.2 1049.9,225.0 1050.4,223.1 1050.9,224.4 1051.4,223.9 1051.9,223.3 1052.4,224.5 1052.9,222.0 1053.4,222.6 1053.9,225.3 1054.4,224.1 1054.9,225.2 1055.4,223.9 1055.9,223.6 1056.4,224.8 1056.9,224.0 1057.4,223.6 1057.9,223.0 1058.4,223.7 1058.9,225.3 1059.4,225.4 1059.9,224.8 1060.4,225.3 1060.9,225.1 1061.4,222.2 1061.9,224.6 1062.4,222.1 1062.9,224.1 1063.4,225.4 1063.9,224.7 1064.4,224.8 1064.9,225.0 1065.4,225.3 1065.9,224.7 1066.4,222.3 1066.9,224.3 1067.4,224.2 1067.9,224.5 1068.4,224.2 1068.9,224.5 1069.4,224.4 1069.9,223.9 1070.4,222.9 1070.9,224.7 1071.4,222.4 1071.9,220.9 1072.4,225.1 1072.9,223.7 1073.4,225.2 1073.9,224.1 1074.4,223.9 1074.9,221.8 1075.4,223.1 1075.9,225.4 1076.4,224.5 1076.9,225.5 1077.4,225.2 1077.9,225.0 1078.4,222.5 1078.9,224.9 1079.4,224.9 1079.9,224.9 1080.4,223.9 1080.9,221.6 1081.4,224.4 1081.9,224.1 1082.4,221.3 1082.9,224.2 1083.4,222.6 1083.9,224.4 1084.4,224.8 1084.9,224.6 1085.4,223.4 1085.9,225.1 1086.4,225.3 1086.9,223.6 1087.4,223.3 1087.9,223.5 1088.4,224.7 1088.9,224.0 1089.4,222.6 1089.9,225.3 1090.4,223.1 1090.9,223.8 1091.4,224.3 1091.9,225.1 1092.4,222.9 1092.9,223.1 1093.4,225.1 1093.9,222.6 1094.4,223.5 1094.9,224.7 1095.4,225.3 1095.9,224.2 1096.4,224.0 1096.9,225.0 1097.4,224.6 1097.9,223.0 1098.4,223.9 1098.9,224.2 1099.4,225.4 1099.9,225.1 1100.4,223.5 1100.9,224.9 1101.4,223.0 1101.9,224.9 1102.4,223.9 1102.9,224.1 1103.4,222.9 1103.9,223.4 1104.4,225.2 1104.9,225.5 1105.4,225.1 1105.9,222.0 1106.4,223.2 1106.9,224.5 1107.4,224.5 1107.9,223.7 1108.4,225.0 1108.9,225.1 1109.4,223.6 1109.9,224.2 1110.4,222.8 1110.9,225.0 1111.4,222.9 1111.9,223.8 1112.4,223.8 1112.9,225.0 1113.4,224.9 1113.9,223.6 1114.4,223.1 1114.9,224.7 1115.4,224.3 1115.9,224.6 1116.4,223.7 1116.9,224.0 1117.4,224.7 1117.9,223.7 1118.4,225.0 1118.9,223.8 1119.4,225.4 1119.9,220.8 1120.4,223.3 1120.9,223.4 1121.4,222.9 1121.9,223.9 1122.4,222.5 1122.9,222.9 1123.4,224.8 1123.9,223.8 1124.4,225.3 1124.9,225.1 1125.4,225.1 1125.9,222.6 1126.4,224.9 1126.9,225.2 1127.4,223.3 1127.9,224.6 1128.4,225.4 1128.9,225.2 1129.4,223.7 1129.9,224.1 1130.4,225.4 1130.9,225.0 1131.4,225.3 1131.9,224.1 1132.4,224.2 1132.9,225.2 1133.4,224.0 1133.9,223.9 1134.4,223.8 1134.9,223.6 1135.4,224.7 1135.9,224.9 1136.4,221.6 1136.9,225.5 1137.4,223.7 1137.9,224.2 1138.4,224.3 1138.9,223.6 1139.4,223.6 1139.9,223.9 1140.4,225.0 1140.9,224.3 1141.4,224.3 1141.9,224.6 1142.4,225.0 1142.9,225.3 1143.4,224.8 1143.9,224.0 1144.4,223.6 1144.9,224.2 1145.4,225.1 1145.9,220.3 1146.4,224.3 1146.9,224.2 1147.4,225.5 1147.9,224.8 1148.4,224.7 1148.9,224.7 1149.4,224.6 1149.9,225.3 1150.4,224.3 1150.9,221.5 1151.4,224.7 1151.9,224.9 1152.4,224.2 1152.9,223.2 1153.4,224.0 1153.9,223.3 1154.4,225.5 1154.9,225.1 1155.4,224.3 1155.9,224.3 1156.4,222.5 1156.9,222.7 1157.4,222.3 1157.9,224.1 1158.4,224.3 1158.9,221.8 1159.4,224.8 1159.9,225.2 1160.4,224.9 1160.9,223.2 1161.4,223.7 1161.9,225.1 1162.4,222.8 1162.9,225.3 1163.4,225.3 1163.9,225.2 1164.4,224.9 1164.9,225.4 1165.4,223.4 1165.9,223.7 1166.4,225.2 1166.9,223.8 1167.4,225.2 1167.9,224.6 1168.4,225.2 1168.9,222.3 1169.4,223.7 1169.9,224.8 1170.4,225.4 1170.9,224.9 1171.4,225.0 1171.9,223.4 1172.4,224.5 1172.9,225.1 1173.4,222.2 1173.9,223.3 1174.4,224.9 1174.9,222.8 1175.4,224.3 1175.9,222.7 1176.4,223.1 1176.9,224.7 1177.4,225.4 1177.9,223.4 1178.4,223.4 1178.9,224.2 1179.4,224.4 1179.9,224.3 1180.4,224.7 1180.9,225.1 1181.4,225.0 1181.9,223.3 1182.4,224.1 1182.9,223.6 1183.4,225.5 1183.9,223.4 1184.4,225.1 1184.9,225.1 1185.4,224.0 1185.9,225.3 1186.4,222.1 1186.9,223.7 1187.4,221.8 1187.9,225.1 1188.4,224.7 1188.9,224.7 1189.4,221.7 1189.9,224.4 1190.4,225.5 1190.9,224.8 1191.4,220.5 1191.9,224.1 1192.4,224.2 1192.9,225.0 1193.4,224.0 1193.9,223.2 1194.4,224.4 1194.9,225.4 1195.4,223.9 1195.9,224.2 1196.4,225.0 1196.9,224.0 1197.4,222.9 1197.9,223.2 1198.4,223.4 1198.9,225.4 1199.4,224.8 1199.9,223.7 1200.4,223.8 1200.9,223.9 1201.4,223.2 1201.9,224.7 1202.4,224.0 1202.9,222.5 1203.4,222.5 1203.9,224.1 1204.4,224.6 1204.9,224.6 1205.4,222.4 1205.9,223.0 1206.4,223.9 1206.9,225.3 1207.4,224.9 1207.9,225.4 1208.4,223.1 1208.9,223.8 1209.4,225.3 1209.9,222.5 1210.4,223.9 1210.9,222.3 1211.4,224.7 1211.9,224.7 1212.4,223.0 1212.9,224.3 1213.4,224.8 1213.9,224.6 1214.4,222.9 1214.9,222.8 1215.4,224.8 1215.9,224.2 1216.4,223.9 1216.9,224.0 1217.4,223.2 1217.9,224.6 1218.4,225.5 1218.9,224.9 1219.4,224.5 1219.9,223.7 1220.4,225.4 1220.9,224.8 1221.4,225.4 1221.9,224.4 1222.4,224.7 1222.9,224.8 1223.4,222.1 1223.9,224.3 1224.4,224.3 1224.9,224.3 1225.4,225.1 1225.9,222.6 1226.4,222.6 1226.9,224.4 1227.4,224.4 1227.9,225.2 1228.4,225.4 1228.9,222.8 1229.4,222.3 1229.9,225.1 1230.4,222.8 1230.9,222.8 1231.4,224.9 1231.9,224.6 1232.4,224.1 1232.9,223.0 1233.4,223.2 1233.9,224.2 1234.4,225.0 1234.9,224.9 1235.4,223.8 1235.9,224.8 1236.4,225.0 1236.9,224.9 1237.4,225.4 1237.9,224.9 1238.4,224.3 1238.9,223.8 1239.4,224.8 1239.9,223.5 1240.4,222.2 1240.9,223.2 1241.4,224.5 1241.9,225.5 1242.4,225.1 1242.9,223.0 1243.4,225.4 1243.9,224.9 1244.4,225.2 1244.9,224.6 1245.4,224.2 1245.9,225.1 1246.4,222.8 1246.9,225.5 1247.4,224.5 1247.9,223.2 1248.4,224.9 1248.9,225.4 1249.4,224.5 1249.9,223.8 1250.4,224.3 1250.9,223.8 1251.4,224.1 1251.9,224.5 1252.4,222.9 1252.9,223.2 1253.4,224.5 1253.9,225.3 1254.4,224.1 1254.9,222.8 1255.4,223.5 1255.9,224.1 1256.4,225.4 1256.9,225.3 1257.4,225.4 1257.9,225.1 1258.4,224.3 1258.9,223.1 1259.4,224.8 1259.9,224.5 1260.4,223.7 1260.9,224.6 1261.4,223.6 1261.9,223.1 1262.4,224.1 1262.9,223.6 1263.4,225.0 1263.9,223.8 1264.4,223.8 1264.9,224.6 1265.4,223.0 1265.9,224.3 1266.4,224.4 1266.9,225.2 1267.4,224.9 1267.9,224.9 1268.4,224.4 1268.9,223.4 1269.4,225.4 1269.9,224.9 1270.4,224.5 1270.9,224.9 1271.4,223.7 1271.9,224.2 1272.4,224.3 1272.9,225.0 1273.4,224.1 1273.9,223.6 1274.4,224.5 1274.9,224.4 1275.4,223.7 1275.9,220.5 1276.4,223.1 1276.9,223.2 1277.4,223.6 1277.9,223.4 1278.4,224.8 1278.9,224.7 1279.4,221.4 1279.9,224.7 1280.4,225.2 1280.9,224.8 1281.4,224.8 1281.9,225.0 1282.4,220.5 1282.9,225.2 1283.4,224.3 1283.9,225.4 1284.4,224.6 1284.9,225.5 1285.4,225.0 1285.9,222.4 1286.4,224.1 1286.9,222.5 1287.4,225.1 1287.9,223.9 1288.4,223.0 1288.9,224.0 1289.4,222.8 1289.9,223.9 1290.4,224.9 1290.9,224.5 1291.4,224.3 1291.9,224.6 1292.4,225.2 1292.9,224.2 1293.4,225.5 1293.9,224.6 1294.4,224.5 1294.9,223.4 1295.4,224.0 1295.9,225.4 1296.4,223.5 1296.9,223.7 1297.4,224.9 1297.9,222.3 1298.4,223.0 1298.9,223.8 1299.4,223.6 1299.9,225.3 1300.4,222.5 1300.9,224.8 1301.4,223.7 1301.9,221.7 1302.4,222.6 1302.9,223.4 1303.4,224.9 1303.9,223.2 1304.4,224.2 1304.9,224.9 1305.4,224.3 1305.9,224.6 1306.4,224.7 1306.9,222.5 1307.4,223.8 1307.9,224.8 1308.4,223.1 1308.9,222.8 1309.4,223.8 1309.9,221.8 1310.4,223.5 1310.9,222.9 1311.4,222.3 1311.9,222.9 1312.4,224.3 1312.9,223.5 1313.4,222.3 1313.9,224.0 1314.4,224.7 1314.9,225.4 1315.4,225.2 1315.9,225.3 1316.4,225.0 1316.9,223.6 1317.4,224.5 1317.9,225.5 1318.4,225.1 1318.9,224.5 1318.9,258.8 1318.4,263.3 1317.9,260.3 1317.4,258.7 1316.9,261.8 1316.4,259.0 1315.9,261.4 1315.4,260.9 1314.9,259.4 1314.4,261.6 1313.9,260.2 1313.4,259.6 1312.9,259.0 1312.4,260.8 1311.9,259.2 1311.4,260.9 1310.9,260.2 1310.4,259.6 1309.9,260.9 1309.4,259.2 1308.9,260.9 1308.4,259.5 1307.9,261.3 1307.4,259.0 1306.9,259.7 1306.4,261.0 1305.9,259.2 1305.4,260.0 1304.9,259.2 1304.4,259.3 1303.9,261.1 1303.4,258.9 1302.9,258.9 1302.4,261.0 1301.9,260.8 1301.4,261.2 1300.9,260.0 1300.4,260.7 1299.9,260.8 1299.4,261.4 1298.9,261.9 1298.4,263.1 1297.9,259.1 1297.4,260.9 1296.9,258.9 1296.4,260.5 1295.9,259.3 1295.4,261.4 1294.9,260.0 1294.4,258.9 1293.9,259.5 1293.4,259.8 1292.9,260.0 1292.4,259.9 1291.9,259.4 1291.4,259.4 1290.9,259.4 1290.4,258.9 1289.9,258.7 1289.4,260.7 1288.9,259.7 1288.4,259.2 1287.9,258.8 1287.4,259.9 1286.9,259.9 1286.4,258.9 1285.9,260.1 1285.4,258.7 1284.9,262.8 1284.4,259.3 1283.9,259.6 1283.4,262.0 1282.9,260.3 1282.4,260.6 1281.9,259.1 1281.4,259.0 1280.9,258.6 1280.4,263.8 1279.9,260.5 1279.4,259.8 1278.9,259.2 1278.4,258.8 1277.9,261.6 1277.4,259.3 1276.9,259.8 1276.4,259.4 1275.9,260.6 1275.4,260.3 1274.9,261.9 1274.4,259.2 1273.9,261.2 1273.4,261.1 1272.9,259.2 1272.4,259.0 1271.9,260.2 1271.4,259.0 1270.9,259.1 1270.4,259.8 1269.9,258.6 1269.4,260.5 1268.9,260.5 1268.4,260.9 1267.9,259.9 1267.4,260.7 1266.9,261.2 1266.4,258.9 1265.9,264.5 1265.4,259.9 1264.9,258.9 1264.4,259.4 1263.9,260.1 1263.4,259.3 1262.9,259.2 1262.4,259.6 1261.9,258.8 1261.4,259.5 1260.9,259.0 1260.4,261.2 1259.9,258.8 1259.4,261.3 1258.9,258.6 1258.4,260.4 1257.9,260.3 1257.4,259.3 1256.9,258.9 1256.4,260.6 1255.9,259.3 1255.4,258.8 1254.9,258.9 1254.4,258.8 1253.9,258.8 1253.4,260.1 1252.9,258.9 1252.4,260.1 1251.9,258.7 1251.4,260.6 1250.9,260.1 1250.4,259.8 1249.9,260.9 1249.4,260.9 1248.9,261.5 1248.4,258.7 1247.9,260.2 1247.4,261.0 1246.9,259.1 1246.4,259.0 1245.9,259.0 1245.4,259.1 1244.9,262.0 1244.4,260.8 1243.9,259.1 1243.4,259.1 1242.9,261.7 1242.4,259.9 1241.9,260.0 1241.4,260.7 1240.9,261.7 1240.4,258.8 1239.9,260.2 1239.4,260.6 1238.9,260.0 1238.4,259.6 1237.9,260.8 1237.4,259.1 1236.9,260.1 1236.4,259.3 1235.9,259.1 1235.4,261.1 1234.9,259.2 1234.4,260.7 1233.9,259.2 1233.4,260.1 1232.9,261.5 1232.4,259.6 1231.9,258.9 1231.4,259.6 1230.9,259.4 1230.4,259.4 1229.9,258.7 1229.4,259.5 1228.9,260.1 1228.4,261.3 1227.9,259.3 1227.4,260.0 1226.9,260.8 1226.4,260.9 1225.9,259.6 1225.4,259.9 1224.9,258.7 1224.4,261.0 1223.9,259.3 1223.4,261.2 1222.9,259.5 1222.4,258.8 1221.9,259.1 1221.4,259.0 1220.9,259.2 1220.4,259.0 1219.9,260.0 1219.4,258.7 1218.9,259.2 1218.4,261.1 1217.9,260.7 1217.4,260.2 1216.9,260.6 1216.4,258.7 1215.9,260.7 1215.4,261.9 1214.9,259.1 1214.4,258.9 1213.9,259.0 1213.4,260.2 1212.9,258.7 1212.4,260.0 1211.9,261.4 1211.4,261.4 1210.9,259.6 1210.4,259.0 1209.9,259.7 1209.4,261.6 1208.9,259.3 1208.4,261.4 1207.9,259.7 1207.4,258.8 1206.9,261.4 1206.4,259.2 1205.9,261.1 1205.4,261.2 1204.9,260.7 1204.4,260.0 1203.9,260.2 1203.4,262.1 1202.9,259.4 1202.4,259.9 1201.9,260.7 1201.4,259.3 1200.9,261.3 1200.4,259.9 1199.9,260.0 1199.4,261.8 1198.9,259.9 1198.4,259.1 1197.9,261.0 1197.4,259.7 1196.9,260.8 1196.4,259.4 1195.9,263.0 1195.4,259.5 1194.9,261.7 1194.4,258.7 1193.9,258.9 1193.4,262.1 1192.9,259.1 1192.4,260.5 1191.9,258.7 1191.4,260.3 1190.9,260.6 1190.4,260.6 1189.9,258.7 1189.4,261.0 1188.9,259.4 1188.4,261.0 1187.9,258.7 1187.4,259.7 1186.9,260.6 1186.4,261.9 1185.9,259.5 1185.4,258.7 1184.9,260.5 1184.4,258.8 1183.9,259.2 1183.4,258.7 1182.9,263.3 1182.4,258.8 1181.9,258.9 1181.4,259.1 1180.9,259.6 1180.4,260.1 1179.9,260.8 1179.4,259.3 1178.9,259.1 1178.4,261.6 1177.9,262.1 1177.4,260.2 1176.9,259.3 1176.4,258.6 1175.9,259.9 1175.4,260.3 1174.9,259.8 1174.4,260.7 1173.9,260.0 1173.4,259.9 1172.9,260.4 1172.4,258.8 1171.9,259.6 1171.4,259.6 1170.9,261.1 1170.4,259.2 1169.9,261.1 1169.4,259.4 1168.9,259.5 1168.4,259.1 1167.9,258.7 1167.4,262.5 1166.9,258.6 1166.4,261.1 1165.9,260.9 1165.4,260.0 1164.9,260.4 1164.4,258.9 1163.9,262.7 1163.4,259.7 1162.9,260.5 1162.4,259.8 1161.9,259.2 1161.4,260.0 1160.9,259.5 1160.4,260.9 1159.9,260.7 1159.4,259.3 1158.9,261.0 1158.4,259.9 1157.9,258.7 1157.4,259.4 1156.9,260.1 1156.4,260.6 1155.9,262.5 1155.4,260.7 1154.9,259.6 1154.4,258.9 1153.9,260.2 1153.4,258.9 1152.9,263.7 1152.4,258.7 1151.9,259.2 1151.4,259.5 1150.9,259.4 1150.4,259.6 1149.9,259.8 1149.4,260.0 1148.9,259.9 1148.4,259.4 1147.9,261.4 1147.4,259.9 1146.9,258.7 1146.4,259.4 1145.9,259.1 1145.4,260.9 1144.9,261.4 1144.4,262.9 1143.9,259.8 1143.4,259.4 1142.9,261.1 1142.4,259.9 1141.9,261.7 1141.4,261.2 1140.9,258.9 1140.4,259.6 1139.9,262.0 1139.4,260.6 1138.9,263.0 1138.4,259.0 1137.9,259.2 1137.4,259.5 1136.9,258.8 1136.4,259.7 1135.9,260.2 1135.4,259.6 1134.9,259.8 1134.4,262.1 1133.9,259.6 1133.4,260.8 1132.9,259.1 1132.4,261.9 1131.9,260.0 1131.4,260.7 1130.9,259.5 1130.4,263.2 1129.9,260.2 1129.4,260.3 1128.9,259.4 1128.4,259.3 1127.9,260.0 1127.4,261.9 1126.9,260.2 1126.4,261.1 1125.9,259.5 1125.4,259.9 1124.9,260.4 1124.4,258.7 1123.9,259.9 1123.4,260.8 1122.9,258.7 1122.4,261.0 1121.9,261.3 1121.4,260.7 1120.9,261.6 1120.4,260.2 1119.9,260.4 1119.4,258.8 1118.9,259.2 1118.4,260.8 1117.9,260.3 1117.4,258.7 1116.9,261.7 1116.4,261.0 1115.9,258.9 1115.4,260.4 1114.9,259.3 1114.4,259.8 1113.9,258.7 1113.4,258.6 1112.9,260.5 1112.4,259.4 1111.9,258.8 1111.4,259.5 1110.9,258.8 1110.4,261.8 1109.9,259.3 1109.4,260.9 1108.9,260.2 1108.4,259.5 1107.9,259.2 1107.4,259.4 1106.9,259.9 1106.4,258.7 1105.9,260.5 1105.4,258.9 1104.9,258.6 1104.4,262.5 1103.9,260.5 1103.4,258.9 1102.9,259.6 1102.4,258.9 1101.9,260.0 1101.4,261.5 1100.9,258.8 1100.4,259.5 1099.9,260.9 1099.4,259.9 1098.9,259.7 1098.4,259.6 1097.9,262.4 1097.4,259.4 1096.9,259.7 1096.4,260.6 1095.9,260.2 1095.4,260.6 1094.9,259.4 1094.4,260.3 1093.9,260.4 1093.4,259.0 1092.9,260.9 1092.4,259.2 1091.9,259.0 1091.4,262.7 1090.9,261.2 1090.4,260.4 1089.9,259.1 1089.4,260.6 1088.9,259.1 1088.4,261.8 1087.9,262.4 1087.4,260.5 1086.9,258.6 1086.4,260.2 1085.9,258.7 1085.4,261.1 1084.9,259.9 1084.4,259.4 1083.9,261.3 1083.4,261.5 1082.9,260.0 1082.4,258.7 1081.9,263.2 1081.4,258.7 1080.9,260.3 1080.4,260.9 1079.9,262.0 1079.4,258.8 1078.9,261.7 1078.4,260.2 1077.9,259.5 1077.4,260.4 1076.9,259.7 1076.4,259.0 1075.9,259.6 1075.4,259.3 1074.9,261.3 1074.4,260.2 1073.9,262.7 1073.4,261.6 1072.9,259.6 1072.4,260.7 1071.9,259.7 1071.4,260.9 1070.9,258.6 1070.4,260.0 1069.9,261.1 1069.4,260.4 1068.9,259.1 1068.4,260.2 1067.9,259.7 1067.4,260.6 1066.9,259.2 1066.4,258.8 1065.9,258.6 1065.4,259.5 1064.9,259.9 1064.4,260.7 1063.9,261.0 1063.4,259.1 1062.9,260.0 1062.4,260.9 1061.9,260.1 1061.4,260.0 1060.9,260.5 1060.4,259.5 1059.9,258.7 1059.4,260.5 1058.9,258.8 1058.4,260.2 1057.9,260.1 1057.4,261.5 1056.9,261.4 1056.4,260.7 1055.9,260.3 1055.4,258.9 1054.9,261.1 1054.4,260.2 1053.9,259.0 1053.4,258.8 1052.9,261.0 1052.4,260.0 1051.9,259.0 1051.4,259.4 1050.9,260.2 1050.4,260.5 1049.9,258.9 1049.4,259.2 1048.9,260.2 1048.4,260.8 1047.9,260.1 1047.4,259.8 1046.9,259.4 1046.4,261.7 1045.9,259.0 1045.4,258.6 1044.9,259.2 1044.4,259.5 1043.9,260.2 1043.4,260.5 1042.9,258.8 1042.4,258.9 1041.9,259.8 1041.4,260.7 1040.9,259.0 1040.4,260.5 1039.9,258.6 1039.4,259.2 1038.9,259.8 1038.4,258.8 1037.9,259.4 1037.4,258.9 1036.9,259.0 1036.4,258.6 1035.9,258.8 1035.4,259.5 1034.9,261.9 1034.4,262.7 1033.9,259.2 1033.4,258.9 1032.9,259.3 1032.4,260.2 1031.9,259.0 1031.4,260.0 1030.9,258.8 1030.4,260.7 1029.9,258.9 1029.4,260.6 1028.9,259.2 1028.4,259.6 1027.9,259.9 1027.4,260.3 1026.9,259.8 1026.4,260.1 1025.9,260.6 1025.4,262.3 1024.9,261.5 1024.4,260.3 1023.9,258.7 1023.4,260.0 1022.9,259.2 1022.4,259.9 1021.9,259.7 1021.4,259.3 1020.9,258.9 1020.4,259.7 1019.9,259.6 1019.4,260.9 1018.9,259.4 1018.4,260.5 1017.9,261.0 1017.4,260.5 1016.9,262.1 1016.4,261.1 1015.9,260.4 1015.4,260.4 1014.9,258.6 1014.4,263.7 1013.9,258.7 1013.4,260.1 1012.9,260.5 1012.4,260.6 1011.9,259.3 1011.4,259.6 1010.9,262.0 1010.4,260.3 1009.9,260.2 1009.4,259.9 1008.9,259.9 1008.4,260.3 1007.9,259.1 1007.4,258.9 1006.9,259.5 1006.4,260.0 1005.9,259.9 1005.4,262.4 1004.9,259.4 1004.4,258.8 1003.9,258.9 1003.4,259.9 1002.9,259.1 1002.4,259.3 1001.9,259.4 1001.4,259.6 1000.9,259.4 1000.4,261.0 999.9,259.0 999.4,259.5 998.9,259.7 998.4,258.6 997.9,258.6 997.4,260.6 996.9,261.4 996.4,258.8 995.9,260.5 995.4,260.7 994.9,260.4 994.4,258.7 993.9,258.8 993.4,258.7 992.9,258.7 992.4,260.0 991.9,260.1 991.4,262.2 990.9,261.0 990.4,261.6 989.9,258.7 989.4,261.1 988.9,259.1 988.4,259.3 987.9,259.8 987.4,259.8 986.9,259.1 986.4,258.8 985.9,258.8 985.4,259.4 984.9,260.5 984.4,259.0 983.9,258.7 983.4,262.0 982.9,260.7 982.4,261.2 981.9,259.7 981.4,259.6 980.9,260.2 980.4,258.8 979.9,259.7 979.4,259.9 978.9,259.3 978.4,259.1 977.9,259.8 977.4,262.4 976.9,259.0 976.4,259.9 975.9,260.8 975.4,259.3 974.9,259.2 974.4,260.1 973.9,261.6 973.4,260.1 972.9,261.2 972.4,258.8 971.9,262.2 971.4,258.9 970.9,259.4 970.4,259.0 969.9,259.5 969.4,259.2 968.9,260.0 968.4,259.1 967.9,259.2 967.4,261.3 966.9,259.5 966.4,260.5 965.9,261.2 965.4,261.5 964.9,259.9 964.4,264.8 963.9,261.1 963.4,261.5 962.9,260.9 962.4,258.8 961.9,259.7 961.4,261.3 960.9,259.8 960.4,260.2 959.9,259.0 959.4,262.1 958.9,260.9 958.4,261.2 957.9,259.8 957.4,260.4 956.9,259.7 956.4,258.7 955.9,259.8 955.4,259.6 954.9,261.7 954.4,260.1 953.9,261.6 953.4,259.6 952.9,259.3 952.4,261.9 951.9,259.6 951.4,261.8 950.9,258.6 950.4,259.4 949.9,260.3 949.4,259.8 948.9,258.8 948.4,259.2 947.9,258.9 947.4,260.8 946.9,260.0 946.4,259.9 945.9,260.8 945.4,259.7 944.9,258.7 944.4,262.1 943.9,260.6 943.4,260.8 942.9,260.0 942.4,260.7 941.9,259.5 941.4,258.9 940.9,259.1 940.4,260.2 939.9,259.8 939.4,260.7 938.9,259.1 938.4,261.7 937.9,259.1 937.4,261.6 936.9,261.8 936.4,260.5 935.9,261.1 935.4,260.6 934.9,259.4 934.4,261.4 933.9,259.7 933.4,259.7 932.9,258.9 932.4,258.6 931.9,261.2 931.4,260.3 930.9,261.6 930.4,259.6 929.9,259.0 929.4,259.8 928.9,261.2 928.4,259.2 927.9,259.9 927.4,261.1 926.9,260.3 926.4,259.9 925.9,262.5 925.4,262.6 924.9,259.6 924.4,258.8 923.9,258.7 923.4,261.6 922.9,258.8 922.4,259.9 921.9,259.3 921.4,258.7 920.9,261.4 920.4,259.4 919.9,261.4 919.4,259.4 918.9,258.8 918.4,260.7 917.9,260.7 917.4,260.2 916.9,260.9 916.4,259.7 915.9,260.2 915.4,260.2 914.9,261.0 914.4,260.5 913.9,258.7 913.4,261.3 912.9,260.8 912.4,259.1 911.9,260.0 911.4,260.1 910.9,260.8 910.4,259.2 909.9,259.6 909.4,258.7 908.9,261.2 908.4,258.8 907.9,259.4 907.4,259.7 906.9,260.6 906.4,259.7 905.9,259.2 905.4,260.2 904.9,259.6 904.4,260.4 903.9,260.7 903.4,261.6 902.9,262.6 902.4,260.1 901.9,259.3 901.4,259.3 900.9,261.4 900.4,259.0 899.9,261.3 899.4,258.9 898.9,259.6 898.4,259.1 897.9,260.1 897.4,260.2 896.9,263.0 896.4,258.9 895.9,259.7 895.4,261.2 894.9,259.5 894.4,259.3 893.9,260.5 893.4,258.7 892.9,260.9 892.4,259.8 891.9,259.4 891.4,260.2 890.9,258.8 890.4,260.5 889.9,260.1 889.4,259.7 888.9,263.2 888.4,259.7 887.9,261.3 887.4,262.3 886.9,259.8 886.4,258.8 885.9,260.7 885.4,259.6 884.9,259.5 884.4,258.9 883.9,259.2 883.4,263.9 882.9,259.6 882.4,259.6 881.9,259.4 881.4,258.8 880.9,259.3 880.4,260.3 879.9,259.0 879.4,260.5 878.9,259.7 878.4,260.5 877.9,258.8 877.4,259.7 876.9,259.3 876.4,259.4 875.9,259.1 875.4,258.8 874.9,260.3 874.4,260.8 873.9,261.1 873.4,259.8 872.9,258.8 872.4,260.5 871.9,261.3 871.4,261.0 870.9,260.0 870.4,260.6 869.9,260.6 869.4,258.7 868.9,260.0 868.4,259.1 867.9,259.9 867.4,260.5 866.9,260.8 866.4,259.5 865.9,259.2 865.4,259.7 864.9,258.8 864.4,258.8 863.9,260.1 863.4,261.7 862.9,259.9 862.4,259.2 861.9,260.5 861.4,260.0 860.9,260.7 860.4,261.5 859.9,259.6 859.4,261.7 858.9,258.7 858.4,260.5 857.9,262.7 857.4,260.9 856.9,260.8 856.4,259.2 855.9,258.6 855.4,259.4 854.9,260.0 854.4,259.9 853.9,259.8 853.4,261.3 852.9,259.9 852.4,258.9 851.9,259.3 851.4,259.6 850.9,260.3 850.4,259.4 849.9,259.9 849.4,258.7 848.9,261.4 848.4,259.5 847.9,259.1 847.4,259.3 846.9,259.1 846.4,261.7 845.9,261.3 845.4,260.2 844.9,258.6 844.4,259.8 843.9,258.9 843.4,262.7 842.9,261.1 842.4,259.0 841.9,260.1 841.4,259.1 840.9,261.7 840.4,258.9 839.9,260.8 839.4,261.3 838.9,260.9 838.4,259.8 837.9,258.9 837.4,258.9 836.9,259.1 836.4,261.4 835.9,259.1 835.4,259.1 834.9,260.3 834.4,261.8 833.9,259.1 833.4,262.3 832.9,259.8 832.4,260.5 831.9,259.9 831.4,258.6 830.9,258.9 830.4,262.3 829.9,261.0 829.4,260.8 828.9,260.1 828.4,258.7 827.9,258.9 827.4,259.5 826.9,258.9 826.4,259.6 825.9,258.8 825.4,260.9 824.9,260.2 824.4,259.1 823.9,262.2 823.4,260.3 822.9,261.2 822.4,259.4 821.9,259.5 821.4,260.2 820.9,259.2 820.4,260.4 819.9,262.8 819.4,259.0 818.9,260.0 818.4,258.9 817.9,263.7 817.4,259.2 816.9,261.0 816.4,260.0 815.9,258.6 815.4,260.1 814.9,258.7 814.4,259.3 813.9,258.9 813.4,260.1 812.9,260.2 812.4,260.3 811.9,261.2 811.4,259.3 810.9,258.7 810.4,262.2 809.9,258.9 809.4,260.0 808.9,263.1 808.4,259.3 807.9,259.1 807.4,258.9 806.9,258.9 806.4,260.5 805.9,258.9 805.4,260.0 804.9,259.5 804.4,259.2 803.9,259.0 803.4,260.5 802.9,259.3 802.4,259.3 801.9,260.7 801.4,259.5 800.9,258.9 800.4,259.3 799.9,259.7 799.4,261.0 798.9,259.5 798.4,260.5 797.9,258.9 797.4,260.0 796.9,258.8 796.4,262.6 795.9,259.1 795.4,259.6 794.9,262.1 794.4,258.7 793.9,259.7 793.4,259.2 792.9,259.7 792.4,259.7 791.9,259.8 791.4,259.1 790.9,259.0 790.4,260.3 789.9,258.9 789.4,261.2 788.9,260.1 788.4,259.7 787.9,260.9 787.4,259.4 786.9,260.3 786.4,260.2 785.9,263.5 785.4,259.2 784.9,258.6 784.4,262.5 783.9,258.6 783.4,259.4 782.9,260.0 782.4,258.6 781.9,259.4 781.4,260.3 780.9,260.9 780.4,260.4 779.9,259.1 779.4,261.3 778.9,259.1" fill="#ef7141" clip-path="url(#cB)"/>
<path d="M1127.4 260.9V269.4M957.9 224.2V216.2M1016.9 224.7V216.9M1182.9 224.6V216.6M900.9 223.1V215.6M821.4 259.2V264.0M1085.4 224.4V220.3M1122.9 257.7V268.3M1199.4 260.8V264.5M784.4 261.5V267.2M799.9 225.4V216.4M1283.9 258.6V265.8M878.9 258.7V269.2M1043.9 225.0V215.2M1167.4 261.5V271.2M1039.9 257.6V267.8M921.9 225.1V219.2M1187.4 222.8V219.4M843.9 224.9V217.8M1178.4 260.6V264.2M1292.9 259.0V263.2M1227.4 225.4V218.6M979.4 258.9V265.8M917.4 259.2V268.3M1313.4 258.6V268.5M842.4 226.3V218.7M950.9 257.6V261.3M833.4 225.0V214.2M1223.4 223.1V212.8M1151.4 225.7V220.8M1284.4 225.6V222.6M989.9 257.7V262.6M1122.4 260.0V263.8M919.9 260.4V267.4M1081.4 225.4V216.1M1087.4 224.3V215.6M1024.4 259.3V264.2M1215.9 225.2V217.3M906.4 225.5V222.4M1059.4 259.5V268.1M1071.4 223.4V215.9M797.9 224.4V217.3M1220.4 258.0V261.3M884.4 223.4V219.7M1148.9 258.9V268.8M1115.4 259.4V262.6M802.9 258.3V262.2M1198.9 226.4V221.0M1031.9 258.0V266.5M824.4 258.1V264.9M1221.4 226.4V220.5M1003.9 224.8V218.6M1081.9 262.2V270.5M1217.4 259.2V265.2M1213.9 225.6V215.7M1198.4 224.4V218.8M1145.9 221.3V212.6M973.9 260.6V265.3M846.4 260.7V263.9M844.4 258.8V263.0M1312.4 225.3V217.9M1167.9 225.6V216.4M1229.4 223.3V218.6M1250.4 225.3V219.2M941.9 258.5V269.2M1257.4 258.3V262.8M990.9 224.0V218.7M1002.9 258.1V267.8M1023.9 257.7V261.0M960.9 258.8V266.8M1103.9 224.4V217.1M1296.9 224.7V219.3M1311.4 259.9V265.8M1170.4 226.4V222.2M791.4 258.1V265.2M1190.4 259.6V267.3M1009.9 225.7V222.4M1202.9 223.5V217.5M1243.9 225.9V220.1M850.4 258.4V261.5M1077.4 226.2V217.5M1236.9 259.1V264.2M856.9 224.5V218.8M1019.9 258.6V263.8M1134.9 258.8V265.3M1035.9 257.8V265.7M1247.9 224.2V218.1M887.9 226.0V216.6M1279.9 225.7V221.7M856.4 225.8V217.5M889.4 258.7V261.7M806.9 257.9V266.8M1282.9 259.3V264.0M817.4 225.2V219.2M1270.4 225.5V214.8M1101.4 260.5V266.0M896.9 262.0V269.8M968.4 225.1V220.3M800.4 226.1V215.7M1196.4 258.4V262.9M1054.4 259.2V265.3M871.4 260.0V267.4M1107.9 224.7V218.5M945.4 258.7V265.2M895.4 260.2V264.0M873.4 224.9V221.1M1074.9 260.3V265.1M823.9 261.2V270.6M897.4 225.6V222.1M893.9 259.5V268.1M1053.9 258.0V263.8M961.4 226.1V217.0M915.9 259.2V269.9M1055.4 224.9V221.8M966.4 223.7V213.6M1000.4 224.3V220.7M1202.4 225.0V216.9M1068.9 225.5V216.6M895.9 258.7V263.5M1152.9 262.7V268.8M1280.9 257.6V262.6M1274.9 225.4V221.0M1217.9 225.6V219.3M962.9 259.9V267.6M813.4 223.2V217.1M1209.9 223.5V218.8M802.4 258.3V264.0M1263.9 224.8V216.4M1136.9 226.5V220.7M1009.4 258.9V262.9M906.9 259.6V267.4M790.9 225.4V221.5M1184.4 226.1V221.2M1148.4 225.7V221.6M1287.9 224.9V214.6M1264.9 225.6V218.0M1141.9 225.6V215.8M1193.4 261.1V267.7M982.4 224.4V213.9M971.4 257.9V268.0M1042.9 221.4V215.3M858.4 226.4V221.0M839.4 226.3V220.7M812.4 225.2V214.5M814.4 258.3V266.2M957.4 259.4V270.4M959.4 225.0V215.9M857.4 225.7V219.3M1141.4 225.3V221.7M1252.4 259.1V268.0M1266.9 226.2V222.2M996.4 257.8V263.7M1102.4 257.9V265.8M1084.9 258.9V266.7M1059.9 257.7V262.6M1307.9 260.3V268.3M1275.9 259.6V270.5M1070.4 223.9V218.8M1316.4 258.0V267.3M901.9 225.8V219.0M1175.9 258.9V269.7M935.4 259.6V264.3M1112.4 224.8V218.3M1044.9 225.3V215.4M836.9 225.1V219.8M868.4 258.1V267.4M1289.4 259.7V270.1M1048.4 259.8V268.8M1295.4 260.4V264.1M1088.9 258.1V261.2M1192.9 226.0V217.9M1252.9 257.9V267.5M927.9 258.9V264.1M1204.4 225.6V216.4M1214.9 223.8V213.7M831.9 225.3V219.3M789.4 226.4V221.1M828.9 259.1V270.0M1135.4 225.7V220.8M980.4 226.1V216.4M814.9 225.6V216.5M1291.4 225.3V220.3M1074.4 259.2V263.9M1237.9 259.8V266.4M947.4 259.8V268.6M1110.9 257.8V265.2M866.9 259.8V268.5M1203.4 223.5V220.1M859.4 224.8V214.9M876.9 258.3V261.5M1033.4 225.9V219.3M1138.9 224.6V221.3M1131.4 259.7V269.4M986.4 257.8V263.2M923.4 260.6V271.4M963.9 260.1V265.9M943.4 226.4V219.4M1102.9 258.6V265.6M977.4 224.7V221.2M863.4 223.2V218.5M897.9 226.2V219.4M1262.9 224.6V220.9M1024.9 260.5V265.4M1227.9 258.3V265.8M1240.4 257.8V262.9M783.9 257.6V267.4M953.4 226.1V220.3M1050.9 225.4V217.9M779.9 225.6V219.8M1211.9 225.7V217.3M869.9 259.6V268.1M1158.9 260.0V267.4M1127.9 225.6V220.6M839.9 259.8V266.3M1291.9 225.6V220.5M1077.9 226.0V216.6M1107.4 258.4V266.7M1189.9 257.7V262.1M1303.4 225.9V215.4M1204.9 259.7V263.3M939.1 241.8V189.0M974.1 241.8V201.6M1099.6 241.8V187.6M1196.8 241.8V187.6M895.7 241.8V210.6M1008.9 241.8V210.6M1036.6 241.8V212.0M844.2 241.8V214.0M1310.5 241.8V208.4M1220.8 241.8V212.8M937.5 241.8V279.2M975.0 241.8V275.9M1101.8 241.8V273.6M1106.9 241.8V272.2M1196.0 241.8V274.5M827.4 241.8V268.0M876.0 241.8V270.8M1037.4 241.8V272.2M1009.6 241.8V270.0M1253.9 241.8V270.8M1216.6 241.8V268.0M1118.0 241.8V270.8" fill="none" stroke="#ef7141" stroke-width="1.50" clip-path="url(#cB)"/>
<polygon points="1446.6,400.3 1447.1,399.0 1447.6,398.2 1448.1,395.9 1448.6,399.8 1449.1,397.0 1449.6,399.0 1450.1,400.5 1450.6,400.3 1451.1,400.1 1451.6,399.1 1452.1,398.7 1452.6,400.4 1453.1,396.6 1453.6,398.7 1454.1,400.5 1454.6,400.6 1455.1,399.7 1455.6,400.4 1456.1,400.8 1456.6,396.5 1457.1,400.4 1457.6,399.9 1458.1,400.5 1458.6,399.4 1459.1,399.2 1459.6,396.6 1460.1,398.3 1460.6,397.3 1461.1,400.0 1461.6,400.6 1462.1,399.6 1462.6,399.6 1463.1,398.2 1463.6,395.5 1464.1,398.5 1464.6,400.5 1465.1,399.3 1465.6,399.0 1466.1,398.2 1466.6,398.9 1467.1,397.9 1467.6,398.6 1468.1,397.9 1468.6,399.4 1469.1,399.0 1469.6,398.5 1470.1,400.7 1470.6,400.3 1471.1,400.6 1471.6,398.0 1472.1,400.5 1472.6,399.1 1473.1,400.7 1473.6,394.7 1474.1,400.7 1474.6,399.9 1475.1,398.8 1475.6,400.4 1476.1,399.5 1476.6,399.9 1477.1,400.1 1477.6,398.7 1478.1,400.1 1478.6,400.2 1479.1,400.5 1479.6,399.5 1480.1,400.5 1480.6,399.8 1481.1,396.7 1481.6,400.2 1482.1,399.0 1482.6,399.4 1483.1,398.6 1483.6,398.9 1484.1,400.0 1484.6,400.1 1485.1,399.8 1485.6,400.7 1486.1,400.6 1486.6,398.6 1487.1,398.7 1487.6,397.7 1488.1,398.6 1488.6,399.0 1489.1,399.4 1489.6,399.2 1490.1,398.3 1490.6,397.5 1491.1,400.6 1491.6,397.6 1492.1,400.2 1492.6,400.3 1493.1,400.2 1493.6,400.5 1494.1,398.2 1494.6,400.1 1495.1,399.9 1495.6,399.5 1496.1,400.7 1496.6,398.9 1497.1,396.3 1497.6,397.7 1498.1,398.2 1498.6,399.7 1499.1,400.7 1499.6,399.9 1500.1,400.6 1500.6,398.9 1501.1,400.6 1501.6,396.3 1502.1,395.4 1502.6,400.2 1503.1,399.5 1503.6,396.8 1504.1,400.4 1504.6,399.3 1505.1,400.0 1505.6,396.9 1506.1,399.0 1506.6,399.5 1507.1,394.9 1507.6,399.4 1508.1,399.3 1508.6,399.6 1509.1,396.8 1509.6,399.4 1510.1,397.5 1510.6,399.4 1511.1,399.0 1511.6,400.5 1512.1,397.3 1512.6,394.5 1513.1,398.1 1513.6,396.6 1514.1,398.5 1514.6,400.3 1515.1,400.0 1515.6,396.7 1516.1,399.8 1516.6,400.4 1517.1,398.7 1517.6,397.8 1518.1,398.6 1518.6,400.1 1519.1,398.9 1519.6,400.6 1520.1,400.3 1520.6,399.7 1521.1,395.4 1521.6,397.4 1522.1,400.4 1522.6,398.6 1523.1,398.6 1523.6,397.2 1524.1,398.7 1524.6,400.5 1525.1,399.0 1525.6,399.3 1526.1,400.2 1526.6,400.4 1527.1,398.4 1527.6,397.0 1528.1,398.5 1528.6,400.2 1529.1,399.6 1529.6,400.0 1530.1,395.7 1530.6,396.8 1531.1,398.2 1531.6,399.8 1532.1,400.2 1532.6,397.7 1533.1,400.3 1533.6,398.8 1534.1,397.6 1534.6,399.4 1535.1,396.4 1535.6,398.0 1536.1,400.3 1536.6,400.3 1537.1,399.2 1537.6,400.2 1538.1,398.9 1538.6,398.6 1539.1,400.3 1539.6,399.6 1540.1,399.4 1540.6,398.7 1541.1,400.2 1541.6,399.5 1542.1,399.5 1542.6,399.3 1543.1,398.4 1543.6,399.6 1544.1,400.2 1544.6,397.2 1545.1,398.4 1545.6,398.5 1546.1,400.8 1546.6,400.0 1547.1,400.7 1547.6,398.7 1548.1,398.6 1548.6,397.8 1549.1,398.6 1549.6,400.3 1550.1,400.3 1550.6,399.6 1551.1,397.1 1551.6,399.0 1552.1,400.7 1552.6,399.3 1553.1,398.1 1553.6,400.1 1554.1,398.3 1554.6,398.4 1555.1,398.6 1555.6,399.3 1556.1,399.8 1556.6,397.8 1557.1,399.3 1557.6,397.3 1558.1,400.0 1558.6,399.6 1559.1,397.4 1559.6,398.7 1560.1,400.8 1560.6,399.5 1561.1,398.5 1561.6,400.4 1562.1,397.9 1562.6,399.7 1563.1,400.0 1563.6,399.1 1564.1,398.5 1564.6,400.0 1565.1,397.2 1565.6,399.9 1566.1,398.4 1566.6,400.6 1567.1,400.4 1567.6,399.4 1568.1,399.3 1568.6,399.5 1569.1,397.7 1569.6,399.2 1570.1,398.3 1570.6,399.4 1571.1,398.0 1571.6,400.6 1572.1,399.8 1572.6,398.8 1573.1,400.6 1573.6,398.7 1574.1,399.3 1574.6,399.3 1575.1,400.8 1575.6,400.2 1576.1,399.4 1576.6,400.0 1577.1,397.9 1577.6,400.1 1578.1,398.6 1578.6,399.9 1579.1,400.1 1579.6,398.9 1580.1,399.7 1580.6,400.5 1581.1,400.2 1581.6,399.5 1582.1,398.9 1582.6,399.7 1583.1,399.8 1583.6,400.3 1584.1,396.6 1584.6,397.1 1585.1,393.8 1585.6,400.2 1586.1,400.3 1586.6,399.6 1587.1,399.6 1587.6,400.0 1588.1,399.3 1588.6,400.6 1589.1,400.6 1589.6,398.8 1590.1,397.8 1590.6,398.7 1591.1,399.8 1591.6,396.1 1592.1,395.5 1592.6,398.2 1593.1,398.2 1593.6,399.4 1594.1,400.0 1594.6,397.3 1595.1,399.8 1595.6,398.7 1596.1,399.8 1596.6,397.0 1597.1,397.3 1597.6,396.5 1598.1,397.5 1598.6,397.4 1599.1,399.0 1599.6,398.9 1600.1,400.4 1600.6,399.3 1601.1,397.5 1601.6,399.4 1602.1,400.0 1602.6,398.0 1603.1,400.8 1603.6,398.6 1604.1,399.7 1604.6,399.2 1605.1,400.7 1605.6,400.6 1606.1,400.2 1606.6,399.1 1607.1,397.8 1607.6,398.2 1608.1,397.2 1608.6,399.7 1609.1,399.3 1609.6,397.8 1610.1,399.1 1610.6,397.0 1611.1,399.7 1611.6,399.4 1612.1,398.6 1612.6,398.8 1613.1,399.2 1613.6,399.9 1614.1,400.2 1614.6,398.8 1615.1,399.9 1615.6,396.8 1616.1,398.5 1616.6,399.3 1617.1,399.7 1617.6,397.7 1618.1,399.5 1618.6,399.1 1619.1,393.8 1619.6,399.1 1620.1,397.2 1620.6,400.4 1621.1,400.6 1621.6,398.9 1622.1,395.5 1622.6,398.3 1623.1,400.6 1623.6,399.8 1624.1,399.3 1624.6,399.2 1625.1,397.3 1625.6,397.4 1626.1,399.4 1626.6,400.3 1627.1,398.9 1627.6,397.2 1628.1,398.8 1628.6,399.6 1629.1,398.9 1629.6,399.8 1630.1,400.4 1630.6,398.6 1631.1,400.4 1631.6,399.7 1632.1,398.8 1632.6,396.9 1633.1,400.5 1633.6,398.3 1634.1,395.5 1634.6,399.4 1635.1,399.6 1635.6,400.5 1636.1,400.4 1636.6,400.6 1637.1,400.2 1637.6,397.5 1638.1,399.2 1638.6,400.6 1639.1,400.5 1639.6,400.4 1640.1,399.8 1640.6,396.8 1641.1,398.7 1641.6,399.3 1642.1,400.5 1642.6,400.4 1643.1,396.4 1643.6,400.0 1644.1,400.3 1644.6,397.4 1645.1,396.8 1645.6,400.6 1646.1,400.6 1646.6,399.4 1647.1,400.6 1647.6,400.0 1648.1,398.1 1648.6,399.0 1649.1,399.9 1649.6,399.6 1650.1,399.5 1650.6,400.0 1651.1,398.6 1651.6,399.6 1652.1,399.5 1652.6,400.7 1653.1,398.8 1653.6,399.7 1654.1,400.0 1654.6,397.3 1655.1,399.8 1655.6,399.3 1656.1,396.8 1656.6,397.9 1657.1,397.6 1657.6,398.4 1658.1,399.5 1658.6,397.5 1659.1,397.1 1659.6,398.0 1660.1,396.3 1660.6,400.4 1661.1,400.5 1661.6,399.7 1662.1,399.3 1662.6,399.2 1663.1,399.3 1663.6,399.3 1664.1,399.0 1664.6,400.5 1665.1,400.0 1665.6,397.3 1666.1,398.7 1666.6,398.3 1667.1,399.7 1667.6,399.2 1668.1,399.1 1668.6,399.5 1669.1,399.3 1669.6,397.6 1670.1,399.3 1670.6,398.5 1671.1,397.4 1671.6,398.8 1672.1,398.3 1672.6,397.6 1673.1,397.4 1673.6,396.8 1674.1,397.7 1674.6,399.9 1675.1,400.2 1675.6,399.0 1676.1,394.3 1676.6,399.4 1677.1,400.0 1677.6,399.8 1678.1,398.9 1678.6,395.6 1679.1,400.7 1679.6,400.8 1680.1,399.5 1680.6,398.3 1681.1,399.1 1681.6,399.1 1682.1,399.2 1682.6,399.1 1683.1,399.1 1683.6,400.4 1684.1,400.4 1684.6,400.5 1685.1,397.3 1685.6,400.1 1686.1,398.2 1686.6,398.8 1687.1,398.0 1687.6,397.6 1688.1,395.8 1688.6,400.3 1689.1,399.5 1689.6,398.7 1690.1,395.8 1690.6,399.9 1691.1,398.5 1691.6,400.2 1692.1,400.2 1692.6,397.3 1693.1,400.1 1693.6,398.0 1694.1,399.7 1694.6,396.8 1695.1,397.0 1695.6,400.7 1696.1,398.2 1696.6,400.2 1697.1,400.3 1697.6,398.8 1698.1,400.5 1698.6,399.7 1699.1,400.3 1699.6,398.5 1700.1,400.4 1700.6,397.9 1701.1,400.5 1701.6,398.8 1702.1,400.1 1702.6,396.9 1703.1,398.0 1703.6,399.3 1704.1,398.6 1704.6,400.4 1705.1,394.3 1705.6,400.0 1706.1,400.4 1706.6,398.9 1707.1,400.4 1707.6,399.3 1708.1,396.8 1708.6,400.7 1709.1,397.4 1709.6,395.6 1710.1,400.5 1710.6,398.8 1711.1,398.3 1711.6,400.6 1712.1,399.4 1712.6,399.3 1713.1,400.5 1713.6,400.6 1714.1,399.4 1714.6,400.5 1715.1,396.3 1715.6,400.4 1716.1,399.7 1716.6,398.5 1717.1,398.7 1717.6,399.4 1718.1,397.3 1718.6,398.0 1719.1,399.9 1719.6,399.4 1720.1,400.0 1720.6,399.0 1721.1,397.9 1721.6,399.2 1722.1,395.1 1722.6,394.9 1723.1,399.1 1723.6,400.5 1724.1,400.2 1724.6,397.8 1725.1,400.7 1725.6,399.1 1726.1,400.7 1726.6,400.2 1727.1,396.2 1727.6,399.0 1728.1,400.0 1728.6,400.0 1729.1,397.2 1729.6,398.4 1730.1,397.5 1730.6,398.7 1731.1,400.1 1731.6,399.5 1732.1,399.7 1732.6,400.5 1733.1,398.5 1733.6,400.2 1734.1,399.7 1734.6,400.7 1735.1,400.4 1735.6,399.9 1736.1,400.6 1736.6,397.8 1737.1,398.1 1737.6,399.7 1738.1,399.7 1738.6,399.8 1739.1,398.9 1739.6,399.3 1740.1,399.2 1740.6,399.0 1741.1,399.5 1741.6,400.4 1742.1,399.1 1742.6,398.6 1743.1,398.8 1743.6,400.1 1744.1,400.1 1744.6,396.5 1745.1,399.1 1745.6,400.4 1746.1,398.5 1746.6,398.1 1747.1,400.4 1747.6,398.4 1748.1,399.7 1748.6,398.6 1749.1,399.1 1749.6,399.3 1750.1,398.5 1750.6,398.9 1751.1,398.5 1751.6,398.5 1752.1,400.1 1752.6,396.0 1753.1,397.1 1753.6,398.5 1754.1,399.3 1754.6,399.3 1755.1,399.8 1755.6,397.8 1756.1,398.0 1756.6,399.2 1757.1,398.0 1757.6,400.0 1758.1,397.8 1758.6,400.6 1759.1,399.4 1759.6,398.2 1760.1,396.5 1760.6,399.2 1761.1,398.4 1761.6,399.2 1762.1,399.2 1762.6,400.6 1763.1,400.7 1763.6,400.0 1764.1,399.1 1764.6,400.6 1765.1,397.0 1765.6,400.6 1766.1,398.3 1766.6,400.3 1767.1,400.3 1767.6,400.6 1768.1,398.5 1768.6,400.7 1769.1,399.7 1769.6,397.1 1770.1,399.2 1770.6,400.5 1771.1,400.8 1771.6,399.9 1772.1,400.6 1772.6,398.7 1773.1,396.9 1773.6,398.1 1774.1,395.8 1774.6,398.7 1775.1,400.7 1775.6,399.4 1776.1,396.1 1776.6,399.3 1777.1,398.2 1777.6,399.3 1778.1,399.8 1778.6,397.4 1779.1,398.8 1779.6,396.8 1780.1,398.1 1780.6,397.5 1781.1,398.4 1781.6,399.8 1782.1,398.4 1782.6,397.2 1783.1,399.0 1783.6,397.1 1784.1,395.1 1784.6,399.3 1785.1,398.9 1785.6,399.2 1786.1,400.5 1786.6,400.1 1787.1,399.7 1787.6,398.7 1788.1,399.5 1788.6,397.5 1789.1,395.5 1789.6,399.6 1790.1,399.5 1790.6,397.0 1791.1,398.9 1791.6,399.9 1792.1,399.2 1792.6,396.1 1793.1,399.9 1793.6,399.1 1794.1,399.7 1794.6,398.9 1795.1,396.4 1795.6,398.9 1796.1,399.5 1796.6,398.4 1797.1,397.1 1797.6,400.0 1798.1,400.2 1798.6,398.3 1799.1,399.3 1799.6,399.9 1800.1,398.5 1800.6,399.7 1801.1,398.7 1801.6,399.4 1802.1,400.6 1802.6,397.9 1803.1,397.7 1803.6,400.0 1804.1,398.0 1804.6,398.4 1805.1,397.3 1805.6,399.9 1806.1,399.3 1806.6,396.5 1807.1,399.2 1807.6,400.0 1808.1,400.1 1808.6,395.5 1809.1,400.1 1809.6,399.6 1810.1,398.6 1810.6,400.2 1811.1,397.5 1811.6,397.5 1812.1,400.6 1812.6,399.6 1813.1,397.3 1813.6,399.7 1814.1,397.9 1814.6,399.3 1815.1,398.3 1815.6,398.0 1816.1,399.3 1816.6,397.2 1817.1,399.3 1817.6,396.1 1818.1,400.8 1818.6,398.7 1819.1,396.4 1819.6,400.0 1820.1,399.4 1820.6,398.0 1821.1,400.7 1821.6,399.1 1822.1,399.4 1822.6,398.1 1823.1,400.8 1823.6,397.7 1824.1,400.7 1824.6,397.1 1825.1,400.3 1825.6,400.2 1826.1,400.2 1826.6,400.5 1827.1,399.5 1827.6,400.5 1828.1,399.2 1828.6,398.7 1829.1,397.2 1829.6,398.6 1830.1,400.4 1830.6,399.7 1831.1,397.5 1831.6,399.3 1832.1,399.5 1832.6,396.3 1833.1,397.2 1833.6,399.8 1834.1,397.9 1834.6,399.8 1835.1,396.0 1835.6,398.3 1836.1,398.3 1836.6,399.1 1837.1,398.3 1837.6,398.3 1838.1,400.2 1838.6,396.5 1839.1,399.8 1839.6,396.0 1840.1,399.8 1840.6,396.6 1841.1,399.7 1841.6,398.9 1842.1,399.7 1842.6,400.5 1843.1,395.0 1843.6,397.0 1844.1,400.4 1844.6,399.8 1845.1,396.9 1845.6,399.0 1846.1,399.8 1846.6,399.1 1847.1,396.4 1847.6,399.3 1848.1,399.9 1848.6,398.9 1849.1,398.0 1849.6,400.2 1850.1,400.5 1850.6,398.9 1851.1,400.4 1851.6,396.5 1852.1,399.3 1852.6,400.0 1853.1,399.6 1853.6,399.5 1854.1,400.1 1854.6,400.0 1855.1,398.9 1855.6,397.8 1856.1,397.2 1856.6,400.5 1857.1,397.9 1857.6,398.8 1858.1,399.2 1858.6,397.0 1859.1,399.9 1859.6,395.8 1860.1,397.7 1860.6,400.8 1861.1,399.2 1861.6,399.6 1862.1,400.3 1862.6,398.5 1863.1,399.0 1863.6,400.1 1864.1,399.1 1864.6,396.3 1865.1,397.9 1865.6,400.3 1866.1,399.9 1866.6,396.6 1867.1,398.7 1867.6,400.6 1868.1,398.5 1868.6,400.8 1869.1,398.9 1869.6,399.5 1870.1,397.3 1870.6,397.4 1871.1,400.7 1871.6,399.1 1872.1,398.3 1872.6,400.6 1873.1,400.6 1873.6,400.3 1874.1,400.4 1874.6,399.7 1875.1,399.7 1875.6,399.7 1876.1,400.3 1876.6,398.1 1877.1,400.3 1877.6,399.7 1878.1,399.2 1878.6,400.5 1879.1,399.3 1879.6,398.9 1880.1,399.1 1880.6,397.6 1881.1,398.3 1881.6,397.6 1882.1,398.1 1882.6,400.0 1883.1,400.3 1883.6,400.3 1884.1,399.5 1884.6,400.4 1885.1,398.6 1885.6,398.6 1886.1,398.8 1886.6,399.6 1887.1,400.7 1887.6,400.0 1888.1,400.6 1888.6,400.3 1889.1,398.2 1889.6,399.8 1890.1,398.5 1890.6,398.3 1891.1,397.8 1891.6,398.1 1892.1,398.8 1892.6,400.4 1893.1,398.7 1893.6,396.9 1894.1,399.2 1894.6,395.5 1895.1,400.3 1895.6,400.0 1896.1,398.0 1896.6,400.6 1897.1,400.6 1897.6,399.4 1898.1,400.6 1898.6,400.1 1899.1,399.6 1899.6,400.6 1900.1,398.1 1900.6,399.4 1901.1,399.4 1901.6,398.1 1902.1,396.3 1902.6,397.1 1903.1,399.7 1903.6,399.9 1904.1,400.2 1904.6,399.8 1905.1,398.9 1905.6,398.5 1906.1,400.6 1906.6,399.0 1907.1,398.1 1907.6,399.2 1908.1,400.1 1908.6,400.4 1909.1,400.4 1909.6,398.7 1910.1,400.7 1910.6,400.8 1911.1,396.7 1911.6,400.5 1912.1,400.2 1912.6,400.3 1913.1,398.0 1913.6,399.7 1914.1,399.7 1914.6,398.4 1915.1,398.3 1915.6,397.7 1916.1,398.9 1916.6,399.8 1917.1,399.5 1917.6,399.9 1918.1,397.3 1918.6,400.3 1919.1,398.4 1919.6,400.4 1920.1,395.5 1920.6,398.6 1921.1,400.0 1921.6,400.2 1922.1,400.8 1922.6,400.1 1923.1,398.3 1923.6,400.7 1924.1,397.3 1924.6,398.9 1925.1,397.2 1925.6,398.3 1926.1,399.0 1926.6,399.1 1927.1,399.6 1927.6,398.5 1928.1,400.6 1928.6,399.2 1929.1,398.3 1929.6,398.5 1930.1,399.8 1930.6,399.8 1931.1,398.1 1931.6,400.2 1932.1,398.9 1932.6,397.0 1933.1,400.4 1933.6,398.4 1934.1,400.7 1934.6,398.7 1935.1,399.8 1935.6,399.8 1936.1,398.9 1936.6,398.9 1937.1,400.7 1937.6,399.7 1938.1,399.7 1938.6,397.8 1939.1,399.0 1939.6,399.5 1940.1,400.0 1940.6,397.4 1941.1,398.7 1941.6,400.3 1942.1,396.1 1942.6,397.2 1943.1,396.8 1943.6,399.2 1944.1,398.8 1944.6,396.9 1945.1,399.6 1945.6,398.7 1946.1,397.6 1946.6,400.5 1947.1,397.4 1947.6,396.6 1948.1,396.1 1948.6,399.9 1949.1,398.6 1949.6,400.1 1950.1,400.3 1950.6,400.4 1951.1,398.8 1951.6,400.2 1952.1,398.4 1952.6,399.9 1953.1,398.3 1953.6,400.7 1954.1,399.3 1954.6,396.9 1955.1,397.9 1955.6,400.7 1956.1,397.0 1956.6,397.9 1957.1,397.9 1957.6,399.5 1958.1,397.6 1958.6,399.0 1959.1,400.3 1959.6,399.8 1960.1,400.3 1960.6,400.5 1961.1,397.6 1961.6,400.1 1962.1,399.8 1962.6,400.6 1963.1,400.2 1963.6,399.0 1964.1,400.8 1964.6,397.7 1965.1,398.9 1965.6,398.3 1966.1,400.0 1966.6,398.6 1967.1,399.3 1967.6,399.4 1968.1,398.1 1968.6,399.7 1969.1,398.7 1969.6,400.4 1970.1,399.8 1970.6,400.4 1971.1,399.2 1971.6,398.4 1972.1,395.6 1972.6,394.9 1973.1,399.9 1973.6,400.6 1974.1,400.3 1974.6,400.2 1975.1,397.5 1975.6,400.7 1976.1,400.0 1976.6,400.5 1977.1,400.7 1977.6,399.7 1978.1,395.7 1978.6,398.1 1979.1,400.0 1979.6,398.0 1980.1,400.5 1980.6,397.3 1981.1,400.7 1981.6,399.0 1982.1,397.9 1982.6,399.6 1983.1,399.3 1983.6,399.4 1984.1,399.3 1984.6,399.7 1985.1,400.7 1985.6,397.2 1985.6,412.9 1985.1,412.9 1984.6,412.9 1984.1,412.9 1983.6,412.9 1983.1,412.9 1982.6,412.9 1982.1,412.9 1981.6,412.9 1981.1,412.9 1980.6,412.9 1980.1,412.9 1979.6,412.9 1979.1,412.9 1978.6,412.9 1978.1,412.9 1977.6,412.9 1977.1,412.9 1976.6,412.9 1976.1,412.9 1975.6,412.9 1975.1,412.9 1974.6,412.9 1974.1,412.9 1973.6,412.9 1973.1,412.9 1972.6,412.9 1972.1,412.9 1971.6,412.9 1971.1,412.9 1970.6,412.9 1970.1,412.9 1969.6,412.9 1969.1,412.9 1968.6,412.9 1968.1,412.9 1967.6,412.9 1967.1,412.9 1966.6,412.9 1966.1,412.9 1965.6,412.9 1965.1,412.9 1964.6,412.9 1964.1,412.9 1963.6,412.9 1963.1,412.9 1962.6,412.9 1962.1,412.9 1961.6,412.9 1961.1,412.9 1960.6,412.9 1960.1,412.9 1959.6,412.9 1959.1,412.9 1958.6,412.9 1958.1,412.9 1957.6,412.9 1957.1,412.9 1956.6,412.9 1956.1,412.9 1955.6,412.9 1955.1,412.9 1954.6,412.9 1954.1,412.9 1953.6,412.9 1953.1,412.9 1952.6,412.9 1952.1,412.9 1951.6,412.9 1951.1,412.9 1950.6,412.9 1950.1,412.9 1949.6,412.9 1949.1,412.9 1948.6,412.9 1948.1,412.9 1947.6,412.9 1947.1,412.9 1946.6,412.9 1946.1,412.9 1945.6,412.9 1945.1,412.9 1944.6,412.9 1944.1,412.9 1943.6,412.9 1943.1,412.9 1942.6,412.9 1942.1,412.9 1941.6,412.9 1941.1,412.9 1940.6,412.9 1940.1,412.9 1939.6,412.9 1939.1,412.9 1938.6,412.9 1938.1,412.9 1937.6,412.9 1937.1,412.9 1936.6,412.9 1936.1,412.9 1935.6,412.9 1935.1,412.9 1934.6,412.9 1934.1,412.9 1933.6,412.9 1933.1,412.9 1932.6,412.9 1932.1,412.9 1931.6,412.9 1931.1,412.9 1930.6,412.9 1930.1,412.9 1929.6,412.9 1929.1,412.9 1928.6,412.9 1928.1,412.9 1927.6,412.9 1927.1,412.9 1926.6,412.9 1926.1,412.9 1925.6,412.9 1925.1,412.9 1924.6,412.9 1924.1,412.9 1923.6,412.9 1923.1,412.9 1922.6,412.9 1922.1,412.9 1921.6,412.9 1921.1,412.9 1920.6,412.9 1920.1,412.9 1919.6,412.9 1919.1,412.9 1918.6,412.9 1918.1,412.9 1917.6,412.9 1917.1,412.9 1916.6,412.9 1916.1,412.9 1915.6,412.9 1915.1,412.9 1914.6,412.9 1914.1,412.9 1913.6,412.9 1913.1,412.9 1912.6,412.9 1912.1,412.9 1911.6,412.9 1911.1,412.9 1910.6,412.9 1910.1,412.9 1909.6,412.9 1909.1,412.9 1908.6,412.9 1908.1,412.9 1907.6,412.9 1907.1,412.9 1906.6,412.9 1906.1,412.9 1905.6,412.9 1905.1,412.9 1904.6,412.9 1904.1,412.9 1903.6,412.9 1903.1,412.9 1902.6,412.9 1902.1,412.9 1901.6,412.9 1901.1,412.9 1900.6,412.9 1900.1,412.9 1899.6,412.9 1899.1,412.9 1898.6,412.9 1898.1,412.9 1897.6,412.9 1897.1,412.9 1896.6,412.9 1896.1,412.9 1895.6,412.9 1895.1,412.9 1894.6,412.9 1894.1,412.9 1893.6,412.9 1893.1,412.9 1892.6,412.9 1892.1,412.9 1891.6,412.9 1891.1,412.9 1890.6,412.9 1890.1,412.9 1889.6,412.9 1889.1,412.9 1888.6,412.9 1888.1,412.9 1887.6,412.9 1887.1,412.9 1886.6,412.9 1886.1,412.9 1885.6,412.9 1885.1,412.9 1884.6,412.9 1884.1,412.9 1883.6,412.9 1883.1,412.9 1882.6,412.9 1882.1,412.9 1881.6,412.9 1881.1,412.9 1880.6,412.9 1880.1,412.9 1879.6,412.9 1879.1,412.9 1878.6,412.9 1878.1,412.9 1877.6,412.9 1877.1,412.9 1876.6,412.9 1876.1,412.9 1875.6,412.9 1875.1,412.9 1874.6,412.9 1874.1,412.9 1873.6,412.9 1873.1,412.9 1872.6,412.9 1872.1,412.9 1871.6,412.9 1871.1,412.9 1870.6,412.9 1870.1,412.9 1869.6,412.9 1869.1,412.9 1868.6,412.9 1868.1,412.9 1867.6,412.9 1867.1,412.9 1866.6,412.9 1866.1,412.9 1865.6,412.9 1865.1,412.9 1864.6,412.9 1864.1,412.9 1863.6,412.9 1863.1,412.9 1862.6,412.9 1862.1,412.9 1861.6,412.9 1861.1,412.9 1860.6,412.9 1860.1,412.9 1859.6,412.9 1859.1,412.9 1858.6,412.9 1858.1,412.9 1857.6,412.9 1857.1,412.9 1856.6,412.9 1856.1,412.9 1855.6,412.9 1855.1,412.9 1854.6,412.9 1854.1,412.9 1853.6,412.9 1853.1,412.9 1852.6,412.9 1852.1,412.9 1851.6,412.9 1851.1,412.9 1850.6,412.9 1850.1,412.9 1849.6,412.9 1849.1,412.9 1848.6,412.9 1848.1,412.9 1847.6,412.9 1847.1,412.9 1846.6,412.9 1846.1,412.9 1845.6,412.9 1845.1,412.9 1844.6,412.9 1844.1,412.9 1843.6,412.9 1843.1,412.9 1842.6,412.9 1842.1,412.9 1841.6,412.9 1841.1,412.9 1840.6,412.9 1840.1,412.9 1839.6,412.9 1839.1,412.9 1838.6,412.9 1838.1,412.9 1837.6,412.9 1837.1,412.9 1836.6,412.9 1836.1,412.9 1835.6,412.9 1835.1,412.9 1834.6,412.9 1834.1,412.9 1833.6,412.9 1833.1,412.9 1832.6,412.9 1832.1,412.9 1831.6,412.9 1831.1,412.9 1830.6,412.9 1830.1,412.9 1829.6,412.9 1829.1,412.9 1828.6,412.9 1828.1,412.9 1827.6,412.9 1827.1,412.9 1826.6,412.9 1826.1,412.9 1825.6,412.9 1825.1,412.9 1824.6,412.9 1824.1,412.9 1823.6,412.9 1823.1,412.9 1822.6,412.9 1822.1,412.9 1821.6,412.9 1821.1,412.9 1820.6,412.9 1820.1,412.9 1819.6,412.9 1819.1,412.9 1818.6,412.9 1818.1,412.9 1817.6,412.9 1817.1,412.9 1816.6,412.9 1816.1,412.9 1815.6,412.9 1815.1,412.9 1814.6,412.9 1814.1,412.9 1813.6,412.9 1813.1,412.9 1812.6,412.9 1812.1,412.9 1811.6,412.9 1811.1,412.9 1810.6,412.9 1810.1,412.9 1809.6,412.9 1809.1,412.9 1808.6,412.9 1808.1,412.9 1807.6,412.9 1807.1,412.9 1806.6,412.9 1806.1,412.9 1805.6,412.9 1805.1,412.9 1804.6,412.9 1804.1,412.9 1803.6,412.9 1803.1,412.9 1802.6,412.9 1802.1,412.9 1801.6,412.9 1801.1,412.9 1800.6,412.9 1800.1,412.9 1799.6,412.9 1799.1,412.9 1798.6,412.9 1798.1,412.9 1797.6,412.9 1797.1,412.9 1796.6,412.9 1796.1,412.9 1795.6,412.9 1795.1,412.9 1794.6,412.9 1794.1,412.9 1793.6,412.9 1793.1,412.9 1792.6,412.9 1792.1,412.9 1791.6,412.9 1791.1,412.9 1790.6,412.9 1790.1,412.9 1789.6,412.9 1789.1,412.9 1788.6,412.9 1788.1,412.9 1787.6,412.9 1787.1,412.9 1786.6,412.9 1786.1,412.9 1785.6,412.9 1785.1,412.9 1784.6,412.9 1784.1,412.9 1783.6,412.9 1783.1,412.9 1782.6,412.9 1782.1,412.9 1781.6,412.9 1781.1,412.9 1780.6,412.9 1780.1,412.9 1779.6,412.9 1779.1,412.9 1778.6,412.9 1778.1,412.9 1777.6,412.9 1777.1,412.9 1776.6,412.9 1776.1,412.9 1775.6,412.9 1775.1,412.9 1774.6,412.9 1774.1,412.9 1773.6,412.9 1773.1,412.9 1772.6,412.9 1772.1,412.9 1771.6,412.9 1771.1,412.9 1770.6,412.9 1770.1,412.9 1769.6,412.9 1769.1,412.9 1768.6,412.9 1768.1,412.9 1767.6,412.9 1767.1,412.9 1766.6,412.9 1766.1,412.9 1765.6,412.9 1765.1,412.9 1764.6,412.9 1764.1,412.9 1763.6,412.9 1763.1,412.9 1762.6,412.9 1762.1,412.9 1761.6,412.9 1761.1,412.9 1760.6,412.9 1760.1,412.9 1759.6,412.9 1759.1,412.9 1758.6,412.9 1758.1,412.9 1757.6,412.9 1757.1,412.9 1756.6,412.9 1756.1,412.9 1755.6,412.9 1755.1,412.9 1754.6,412.9 1754.1,412.9 1753.6,412.9 1753.1,412.9 1752.6,412.9 1752.1,412.9 1751.6,412.9 1751.1,412.9 1750.6,412.9 1750.1,412.9 1749.6,412.9 1749.1,412.9 1748.6,412.9 1748.1,412.9 1747.6,412.9 1747.1,412.9 1746.6,412.9 1746.1,412.9 1745.6,412.9 1745.1,412.9 1744.6,412.9 1744.1,412.9 1743.6,412.9 1743.1,412.9 1742.6,412.9 1742.1,412.9 1741.6,412.9 1741.1,412.9 1740.6,412.9 1740.1,412.9 1739.6,412.9 1739.1,412.9 1738.6,412.9 1738.1,412.9 1737.6,412.9 1737.1,412.9 1736.6,412.9 1736.1,412.9 1735.6,412.9 1735.1,412.9 1734.6,412.9 1734.1,412.9 1733.6,412.9 1733.1,412.9 1732.6,412.9 1732.1,412.9 1731.6,412.9 1731.1,412.9 1730.6,412.9 1730.1,412.9 1729.6,412.9 1729.1,412.9 1728.6,412.9 1728.1,412.9 1727.6,412.9 1727.1,412.9 1726.6,412.9 1726.1,412.9 1725.6,412.9 1725.1,412.9 1724.6,412.9 1724.1,412.9 1723.6,412.9 1723.1,412.9 1722.6,412.9 1722.1,412.9 1721.6,412.9 1721.1,412.9 1720.6,412.9 1720.1,412.9 1719.6,412.9 1719.1,412.9 1718.6,412.9 1718.1,412.9 1717.6,412.9 1717.1,412.9 1716.6,412.9 1716.1,412.9 1715.6,412.9 1715.1,412.9 1714.6,412.9 1714.1,412.9 1713.6,412.9 1713.1,412.9 1712.6,412.9 1712.1,412.9 1711.6,412.9 1711.1,412.9 1710.6,412.9 1710.1,412.9 1709.6,412.9 1709.1,412.9 1708.6,412.9 1708.1,412.9 1707.6,412.9 1707.1,412.9 1706.6,412.9 1706.1,412.9 1705.6,412.9 1705.1,412.9 1704.6,412.9 1704.1,412.9 1703.6,412.9 1703.1,412.9 1702.6,412.9 1702.1,412.9 1701.6,412.9 1701.1,412.9 1700.6,412.9 1700.1,412.9 1699.6,412.9 1699.1,412.9 1698.6,412.9 1698.1,412.9 1697.6,412.9 1697.1,412.9 1696.6,412.9 1696.1,412.9 1695.6,412.9 1695.1,412.9 1694.6,412.9 1694.1,412.9 1693.6,412.9 1693.1,412.9 1692.6,412.9 1692.1,412.9 1691.6,412.9 1691.1,412.9 1690.6,412.9 1690.1,412.9 1689.6,412.9 1689.1,412.9 1688.6,412.9 1688.1,412.9 1687.6,412.9 1687.1,412.9 1686.6,412.9 1686.1,412.9 1685.6,412.9 1685.1,412.9 1684.6,412.9 1684.1,412.9 1683.6,412.9 1683.1,412.9 1682.6,412.9 1682.1,412.9 1681.6,412.9 1681.1,412.9 1680.6,412.9 1680.1,412.9 1679.6,412.9 1679.1,412.9 1678.6,412.9 1678.1,412.9 1677.6,412.9 1677.1,412.9 1676.6,412.9 1676.1,412.9 1675.6,412.9 1675.1,412.9 1674.6,412.9 1674.1,412.9 1673.6,412.9 1673.1,412.9 1672.6,412.9 1672.1,412.9 1671.6,412.9 1671.1,412.9 1670.6,412.9 1670.1,412.9 1669.6,412.9 1669.1,412.9 1668.6,412.9 1668.1,412.9 1667.6,412.9 1667.1,412.9 1666.6,412.9 1666.1,412.9 1665.6,412.9 1665.1,412.9 1664.6,412.9 1664.1,412.9 1663.6,412.9 1663.1,412.9 1662.6,412.9 1662.1,412.9 1661.6,412.9 1661.1,412.9 1660.6,412.9 1660.1,412.9 1659.6,412.9 1659.1,412.9 1658.6,412.9 1658.1,412.9 1657.6,412.9 1657.1,412.9 1656.6,412.9 1656.1,412.9 1655.6,412.9 1655.1,412.9 1654.6,412.9 1654.1,412.9 1653.6,412.9 1653.1,412.9 1652.6,412.9 1652.1,412.9 1651.6,412.9 1651.1,412.9 1650.6,412.9 1650.1,412.9 1649.6,412.9 1649.1,412.9 1648.6,412.9 1648.1,412.9 1647.6,412.9 1647.1,412.9 1646.6,412.9 1646.1,412.9 1645.6,412.9 1645.1,412.9 1644.6,412.9 1644.1,412.9 1643.6,412.9 1643.1,412.9 1642.6,412.9 1642.1,412.9 1641.6,412.9 1641.1,412.9 1640.6,412.9 1640.1,412.9 1639.6,412.9 1639.1,412.9 1638.6,412.9 1638.1,412.9 1637.6,412.9 1637.1,412.9 1636.6,412.9 1636.1,412.9 1635.6,412.9 1635.1,412.9 1634.6,412.9 1634.1,412.9 1633.6,412.9 1633.1,412.9 1632.6,412.9 1632.1,412.9 1631.6,412.9 1631.1,412.9 1630.6,412.9 1630.1,412.9 1629.6,412.9 1629.1,412.9 1628.6,412.9 1628.1,412.9 1627.6,412.9 1627.1,412.9 1626.6,412.9 1626.1,412.9 1625.6,412.9 1625.1,412.9 1624.6,412.9 1624.1,412.9 1623.6,412.9 1623.1,412.9 1622.6,412.9 1622.1,412.9 1621.6,412.9 1621.1,412.9 1620.6,412.9 1620.1,412.9 1619.6,412.9 1619.1,412.9 1618.6,412.9 1618.1,412.9 1617.6,412.9 1617.1,412.9 1616.6,412.9 1616.1,412.9 1615.6,412.9 1615.1,412.9 1614.6,412.9 1614.1,412.9 1613.6,412.9 1613.1,412.9 1612.6,412.9 1612.1,412.9 1611.6,412.9 1611.1,412.9 1610.6,412.9 1610.1,412.9 1609.6,412.9 1609.1,412.9 1608.6,412.9 1608.1,412.9 1607.6,412.9 1607.1,412.9 1606.6,412.9 1606.1,412.9 1605.6,412.9 1605.1,412.9 1604.6,412.9 1604.1,412.9 1603.6,412.9 1603.1,412.9 1602.6,412.9 1602.1,412.9 1601.6,412.9 1601.1,412.9 1600.6,412.9 1600.1,412.9 1599.6,412.9 1599.1,412.9 1598.6,412.9 1598.1,412.9 1597.6,412.9 1597.1,412.9 1596.6,412.9 1596.1,412.9 1595.6,412.9 1595.1,412.9 1594.6,412.9 1594.1,412.9 1593.6,412.9 1593.1,412.9 1592.6,412.9 1592.1,412.9 1591.6,412.9 1591.1,412.9 1590.6,412.9 1590.1,412.9 1589.6,412.9 1589.1,412.9 1588.6,412.9 1588.1,412.9 1587.6,412.9 1587.1,412.9 1586.6,412.9 1586.1,412.9 1585.6,412.9 1585.1,412.9 1584.6,412.9 1584.1,412.9 1583.6,412.9 1583.1,412.9 1582.6,412.9 1582.1,412.9 1581.6,412.9 1581.1,412.9 1580.6,412.9 1580.1,412.9 1579.6,412.9 1579.1,412.9 1578.6,412.9 1578.1,412.9 1577.6,412.9 1577.1,412.9 1576.6,412.9 1576.1,412.9 1575.6,412.9 1575.1,412.9 1574.6,412.9 1574.1,412.9 1573.6,412.9 1573.1,412.9 1572.6,412.9 1572.1,412.9 1571.6,412.9 1571.1,412.9 1570.6,412.9 1570.1,412.9 1569.6,412.9 1569.1,412.9 1568.6,412.9 1568.1,412.9 1567.6,412.9 1567.1,412.9 1566.6,412.9 1566.1,412.9 1565.6,412.9 1565.1,412.9 1564.6,412.9 1564.1,412.9 1563.6,412.9 1563.1,412.9 1562.6,412.9 1562.1,412.9 1561.6,412.9 1561.1,412.9 1560.6,412.9 1560.1,412.9 1559.6,412.9 1559.1,412.9 1558.6,412.9 1558.1,412.9 1557.6,412.9 1557.1,412.9 1556.6,412.9 1556.1,412.9 1555.6,412.9 1555.1,412.9 1554.6,412.9 1554.1,412.9 1553.6,412.9 1553.1,412.9 1552.6,412.9 1552.1,412.9 1551.6,412.9 1551.1,412.9 1550.6,412.9 1550.1,412.9 1549.6,412.9 1549.1,412.9 1548.6,412.9 1548.1,412.9 1547.6,412.9 1547.1,412.9 1546.6,412.9 1546.1,412.9 1545.6,412.9 1545.1,412.9 1544.6,412.9 1544.1,412.9 1543.6,412.9 1543.1,412.9 1542.6,412.9 1542.1,412.9 1541.6,412.9 1541.1,412.9 1540.6,412.9 1540.1,412.9 1539.6,412.9 1539.1,412.9 1538.6,412.9 1538.1,412.9 1537.6,412.9 1537.1,412.9 1536.6,412.9 1536.1,412.9 1535.6,412.9 1535.1,412.9 1534.6,412.9 1534.1,412.9 1533.6,412.9 1533.1,412.9 1532.6,412.9 1532.1,412.9 1531.6,412.9 1531.1,412.9 1530.6,412.9 1530.1,412.9 1529.6,412.9 1529.1,412.9 1528.6,412.9 1528.1,412.9 1527.6,412.9 1527.1,412.9 1526.6,412.9 1526.1,412.9 1525.6,412.9 1525.1,412.9 1524.6,412.9 1524.1,412.9 1523.6,412.9 1523.1,412.9 1522.6,412.9 1522.1,412.9 1521.6,412.9 1521.1,412.9 1520.6,412.9 1520.1,412.9 1519.6,412.9 1519.1,412.9 1518.6,412.9 1518.1,412.9 1517.6,412.9 1517.1,412.9 1516.6,412.9 1516.1,412.9 1515.6,412.9 1515.1,412.9 1514.6,412.9 1514.1,412.9 1513.6,412.9 1513.1,412.9 1512.6,412.9 1512.1,412.9 1511.6,412.9 1511.1,412.9 1510.6,412.9 1510.1,412.9 1509.6,412.9 1509.1,412.9 1508.6,412.9 1508.1,412.9 1507.6,412.9 1507.1,412.9 1506.6,412.9 1506.1,412.9 1505.6,412.9 1505.1,412.9 1504.6,412.9 1504.1,412.9 1503.6,412.9 1503.1,412.9 1502.6,412.9 1502.1,412.9 1501.6,412.9 1501.1,412.9 1500.6,412.9 1500.1,412.9 1499.6,412.9 1499.1,412.9 1498.6,412.9 1498.1,412.9 1497.6,412.9 1497.1,412.9 1496.6,412.9 1496.1,412.9 1495.6,412.9 1495.1,412.9 1494.6,412.9 1494.1,412.9 1493.6,412.9 1493.1,412.9 1492.6,412.9 1492.1,412.9 1491.6,412.9 1491.1,412.9 1490.6,412.9 1490.1,412.9 1489.6,412.9 1489.1,412.9 1488.6,412.9 1488.1,412.9 1487.6,412.9 1487.1,412.9 1486.6,412.9 1486.1,412.9 1485.6,412.9 1485.1,412.9 1484.6,412.9 1484.1,412.9 1483.6,412.9 1483.1,412.9 1482.6,412.9 1482.1,412.9 1481.6,412.9 1481.1,412.9 1480.6,412.9 1480.1,412.9 1479.6,412.9 1479.1,412.9 1478.6,412.9 1478.1,412.9 1477.6,412.9 1477.1,412.9 1476.6,412.9 1476.1,412.9 1475.6,412.9 1475.1,412.9 1474.6,412.9 1474.1,412.9 1473.6,412.9 1473.1,412.9 1472.6,412.9 1472.1,412.9 1471.6,412.9 1471.1,412.9 1470.6,412.9 1470.1,412.9 1469.6,412.9 1469.1,412.9 1468.6,412.9 1468.1,412.9 1467.6,412.9 1467.1,412.9 1466.6,412.9 1466.1,412.9 1465.6,412.9 1465.1,412.9 1464.6,412.9 1464.1,412.9 1463.6,412.9 1463.1,412.9 1462.6,412.9 1462.1,412.9 1461.6,412.9 1461.1,412.9 1460.6,412.9 1460.1,412.9 1459.6,412.9 1459.1,412.9 1458.6,412.9 1458.1,412.9 1457.6,412.9 1457.1,412.9 1456.6,412.9 1456.1,412.9 1455.6,412.9 1455.1,412.9 1454.6,412.9 1454.1,412.9 1453.6,412.9 1453.1,412.9 1452.6,412.9 1452.1,412.9 1451.6,412.9 1451.1,412.9 1450.6,412.9 1450.1,412.9 1449.6,412.9 1449.1,412.9 1448.6,412.9 1448.1,412.9 1447.6,412.9 1447.1,412.9 1446.6,412.9" fill="#5ecbc4" clip-path="url(#cC)"/>
<path d="M1462.6 400.6V379.8M1528.6 401.2V378.6M1981.6 400.0V392.0M1942.1 397.1V376.8M1749.1 400.1V390.2M1481.6 401.2V381.2M1840.1 400.8V384.0M1939.6 400.5V392.8M1649.6 400.6V390.5M1776.1 397.1V391.3M1478.1 401.1V382.9M1936.6 399.9V381.1M1735.6 400.9V384.8M1620.6 401.4V385.4M1601.6 400.4V383.7M1694.1 400.7V390.1M1830.6 400.7V383.8M1976.1 401.0V379.2M1603.1 401.8V384.0M1483.6 399.9V384.6M1495.1 400.9V389.2M1560.1 401.8V380.7M1502.6 401.2V394.7M1729.6 399.4V377.5M1853.6 400.5V396.4M1763.1 401.7V392.8M1686.6 399.8V392.9M1748.1 400.7V380.4M1602.1 401.0V379.1M1667.6 400.2V396.0M1671.6 399.8V395.3M1447.6 399.2V386.7M1832.6 397.3V386.4M1473.1 401.7V395.1M1700.1 401.4V388.7M1951.1 399.8V395.4M1570.1 399.3V381.5M1895.6 401.0V378.4M1695.1 398.0V385.1M1565.1 398.2V391.5M1540.6 399.7V394.3M1689.1 400.5V390.2M1900.6 400.4V377.9M1753.6 399.5V378.2M1902.6 398.1V379.3M1817.6 397.1V392.4M1909.1 401.4V394.4M1504.1 401.4V385.0M1881.1 399.3V384.2M1801.1 399.7V383.3M1503.1 400.5V381.5M1717.6 400.4V388.0M1682.6 400.1V387.8M1812.6 400.6V379.0M1573.1 401.6V396.8M1487.1 399.7V382.6M1732.1 400.7V389.4M1660.1 397.3V386.3M1839.1 400.8V382.8M1628.1 399.8V384.4M1612.6 399.8V379.7M1823.6 398.7V387.2M1730.1 398.5V392.5M1774.6 399.7V383.1M1680.6 399.3V389.6M1763.6 401.0V390.7M1968.1 399.1V386.4M1978.6 399.1V391.1M1668.1 400.1V381.5M1945.6 399.7V378.5M1608.6 400.7V379.6M1874.1 401.4V379.7M1501.6 397.3V377.6M1962.1 400.8V388.9M1969.6 401.4V388.8M1769.1 400.7V382.1M1853.1 400.6V393.0M1865.1 398.9V387.7M1886.1 399.8V379.1M1779.1 399.8V395.1M1777.6 400.3V391.1M1537.1 400.2V377.3M1713.1 401.5V395.2M1762.1 400.2V387.0M1552.1 401.7V396.1M1978.1 396.7V392.1M1841.6 399.9V395.0M1690.1 396.8V378.3M1518.6 401.1V393.0M1827.1 400.5V395.3M1493.1 401.2V383.4M1599.6 399.9V388.2M1482.6 400.4V393.9M1521.6 398.4V389.9M1720.1 401.0V378.3M1761.1 399.4V378.4M1504.6 400.3V392.6M1463.6 396.5V377.1M1725.1 401.7V391.9M1939.1 400.0V389.7M1616.1 399.5V394.6M1757.1 399.0V383.1M1747.1 401.4V388.5M1509.1 397.8V376.7M1764.1 400.1V393.6M1612.1 399.6V390.4M1860.1 398.7V387.4M1662.6 400.2V382.2M1741.1 400.5V392.7M1819.6 401.0V396.3M1985.6 398.2V378.9M1719.1 400.9V389.8M1519.1 399.9V390.5M1901.6 399.1V380.9M1961.1 398.6V377.7M1953.6 401.7V397.6M1950.1 401.3V381.5M1702.6 397.9V377.4M1727.6 400.0V389.1M1716.6 399.5V385.8M1644.6 398.4V378.5M1630.6 399.6V393.7M1472.6 400.1V387.9M1788.1 400.5V377.7M1591.6 397.1V388.0M1753.1 398.1V387.3M1894.1 400.2V384.5M1631.1 401.4V396.3M1459.6 397.6V379.8M1660.6 401.4V391.7M1555.6 400.3V379.4M1879.6 399.9V387.2M1551.6 400.0V394.0M1765.6 401.6V383.7M1564.6 401.0V382.2M1734.1 400.7V388.8M1597.1 398.3V393.3M1756.1 399.0V388.8M1614.1 401.2V387.1M1637.6 398.5V384.4M1684.6 401.5V391.6M1904.1 401.2V394.3M1449.6 400.0V395.9M1805.1 398.3V385.3M1770.1 400.2V377.9M1945.1 400.6V383.5M1757.6 401.0V384.1M1783.1 400.0V384.5M1681.1 400.1V384.0M1596.1 400.8V391.5M1546.6 401.0V387.1M1451.1 401.1V384.4M1921.1 401.0V391.7M1634.1 396.5V391.5M1544.1 401.2V388.1M1569.6 400.2V390.7M1499.1 401.7V382.1M1868.6 401.8V397.4M1476.6 400.9V388.6M1794.1 400.7V388.8M1908.6 401.4V395.3M1655.6 400.3V386.7M1906.6 400.0V384.1M1985.1 401.7V391.0M1873.6 401.3V381.7M1825.1 401.3V386.8M1621.6 399.9V386.7M1653.1 399.8V387.0M1814.1 398.9V381.4M1874.6 400.7V390.7M1736.1 401.6V386.3M1677.6 400.8V388.5M1651.6 400.6V392.2M1480.6 400.8V381.2M1464.1 399.5V385.0M1737.6 400.7V395.3M1822.1 400.4V377.4M1876.1 401.3V396.7M1934.6 399.7V386.2M1859.1 400.9V395.0M1949.6 401.1V395.5M1857.1 398.9V390.0M1633.1 401.5V394.6M1976.6 401.5V382.5M1754.1 400.3V392.4M1588.1 400.3V395.0M1676.1 395.3V376.1M1831.1 398.5V376.2M1970.1 400.8V390.7M1890.1 399.5V376.6M1846.1 400.8V392.5M1811.6 398.5V385.3M1686.1 399.2V378.7M1679.6 401.8V387.4M1585.1 394.8V379.8M1562.1 398.9V386.4M1733.1 399.5V384.8M1849.1 399.0V394.7M1490.6 398.5V393.2M1960.1 401.3V379.2M1944.1 399.8V388.0M1852.6 401.0V392.7M1814.6 400.3V379.2M1806.1 400.3V391.5M1851.1 401.4V394.0M1739.6 400.3V389.5M1632.6 397.9V391.1M1905.1 399.9V382.0M1450.1 401.5V393.5M1820.1 400.4V392.0M1587.1 400.6V377.7M1678.1 399.9V382.3M1641.6 400.3V388.2M1446.6 401.3V383.0M1599.1 400.0V385.1M1538.1 399.9V382.6M1663.6 400.3V393.7M1773.1 397.9V378.7M1747.6 399.4V395.4M1829.6 399.6V391.8M1934.1 401.7V395.7M1701.1 401.5V392.2M1919.6 401.4V387.1M1877.1 401.3V388.7M1917.6 400.9V395.4M1855.1 399.9V387.5M1785.6 400.2V379.6M1700.6 398.9V378.0M1642.1 401.5V393.1M1893.1 399.7V393.6M1915.1 399.3V388.4M1737.1 399.1V391.2M1940.6 398.4V393.7M1505.1 401.0V381.9M1804.1 399.0V389.1M1534.1 398.6V381.7M1540.1 400.4V395.2M1712.1 400.4V396.3M1604.1 400.7V387.5M1645.6 401.6V395.3M1862.6 399.5V381.6M1691.1 399.5V393.8M1530.6 397.8V393.5M1565.6 400.9V386.1M1729.1 398.2V388.4M1798.1 401.2V395.6M1494.1 399.2V377.4M1595.1 400.8V396.7M1896.1 399.0V377.4M1856.1 398.2V393.7M1727.1 397.2V385.0M1835.6 399.3V391.5M1965.6 399.3V390.5M1511.6 401.5V384.0M1537.6 401.2V379.0M1924.1 398.3V388.5M1567.1 401.4V394.1M1570.6 400.4V390.3M1506.1 400.0V387.2M1680.1 400.5V383.1M1624.1 400.3V390.0M1726.6 401.2V387.6M1800.1 399.5V390.4M1778.6 398.4V392.0M1790.6 398.0V380.3M1658.6 398.5V391.5M1691.6 401.2V388.2M1796.6 399.4V377.7M1819.1 397.4V389.0M1595.6 399.7V389.2M1670.1 400.3V388.7M1828.6 399.7V395.3M1901.1 400.4V394.6M1782.6 398.2V387.4M1718.6 399.0V380.3M1515.1 401.0V390.7M1704.1 399.6V392.2M1885.1 399.6V386.4M1833.1 398.2V391.3M1931.1 399.1V383.8M1564.1 399.5V378.7M1578.1 399.6V385.3M1906.1 401.6V385.0M1982.1 398.9V386.7M1594.6 398.3V389.1M1557.1 400.3V379.7M1491.6 398.6V394.3M1946.1 398.6V389.9M1547.6 399.7V389.5M1919.1 399.4V389.8M1530.1 396.7V375.5M1878.6 401.5V392.9M1582.1 399.9V395.4M1838.6 397.5V379.5M1510.6 400.4V389.2M1803.1 398.7V388.2M1514.1 399.5V383.6M1884.6 401.4V389.6M1633.6 399.3V381.4M1496.6 399.9V391.8M1809.6 400.6V383.2M1522.6 399.6V378.1M1593.1 399.2V390.9M1911.6 401.5V390.5M1638.6 401.6V380.6M1758.1 398.8V394.7M1941.6 401.3V379.1M1717.1 399.7V390.1M1558.1 401.0V390.5M1829.1 398.2V384.2M1746.6 399.1V384.2M1698.1 401.5V388.2M1496.1 401.7V395.2M1872.1 399.3V381.1M1824.1 401.7V391.4M1858.6 398.0V383.4M1574.1 400.3V394.8M1980.6 398.3V392.1M1964.6 398.7V388.3M1590.1 398.8V380.8M1635.1 400.6V394.8M1933.6 399.4V385.0M1645.1 397.8V388.8M1657.1 398.6V377.3M1471.1 401.6V396.5M1805.6 400.9V382.9M1875.6 400.7V389.0M1863.6 401.1V385.2M1699.1 401.3V388.4M1877.6 400.7V383.7M1498.6 400.7V388.5M1470.1 401.7V393.3M1966.1 401.0V393.6M1523.6 398.2V375.8M1503.6 397.8V382.9M1521.1 396.4V384.1M1750.6 399.9V382.8M1543.1 399.4V393.4M1638.1 400.2V388.6M1517.6 398.8V393.9M1953.1 399.3V379.1M1845.6 400.0V380.9M1894.6 396.5V378.2M1547.1 401.7V390.9M1484.1 401.0V393.0M1482.1 400.0V384.1M1913.6 400.7V386.8M1802.1 401.6V395.6M1608.1 398.2V388.4M1628.6 400.6V384.3M1970.6 401.4V392.5M1619.1 394.8V372.4M1964.1 401.8V382.4M1929.6 399.5V395.3M1517.1 399.7V377.3M1640.1 400.8V388.9M1651.1 399.6V388.1M1648.6 400.0V394.3M1448.1 396.9V389.9M1803.6 401.0V385.9M1833.6 400.8V392.0M1947.6 397.6V393.1M1501.1 401.6V389.9M1972.6 395.9V385.7M1671.1 398.4V391.1M1911.1 397.7V389.9M1712.6 400.3V394.2M1873.1 401.6V395.3M1751.1 399.5V388.8M1838.1 401.2V395.1M1776.6 400.3V380.4M1977.6 400.7V394.4M1697.6 399.8V380.7M1483.1 399.6V390.0M1600.6 400.3V395.1M1759.6 399.2V383.1M1469.6 399.5V386.8M1458.6 400.4V380.7M1513.6 397.6V375.4M1713.6 401.6V382.1M1715.1 397.3V391.5M1932.1 399.9V385.5M1722.6 395.9V386.3M1891.6 399.1V383.8M1779.6 397.8V378.9M1731.6 400.5V382.5M1533.6 399.8V394.1M1562.6 400.7V383.5M1571.6 401.6V380.4M1669.6 398.6V387.2M1880.6 398.6V385.5M1892.1 399.8V394.8M1592.1 396.5V389.5M1888.1 401.6V389.5M1836.1 399.3V387.2M1478.6 401.2V383.1M1499.6 400.9V387.3M1959.6 400.8V396.1M1457.6 400.9V396.5M1869.6 400.5V386.8M1831.6 400.3V390.6M1643.6 401.0V393.3M1500.6 399.9V392.3M1572.1 400.8V392.6M1629.1 399.9V395.2M1795.6 399.9V395.9M1783.6 398.1V379.8M1603.6 399.6V379.7M1861.6 400.6V391.7M1549.6 401.3V391.4M1975.6 401.7V389.5M1854.1 401.1V381.1M1472.1 401.5V380.3M1768.6 401.7V395.5M1721.6 400.2V378.0M1656.1 397.8V393.4M1636.1 401.4V382.3M1657.6 399.4V387.5M1931.6 401.2V390.8M1885.6 399.6V385.9M1456.1 412.3V347.7M1467.8 412.3V281.7M1478.4 412.3V263.1M1494.8 412.3V272.6M1511.7 412.3V361.8M1529.5 412.3V264.2M1543.6 412.3V176.8M1584.9 412.3V257.9M1604.7 412.3V93.3M1606.4 412.3V305.3M1613.3 412.3V258.5M1622.4 412.3V252.2M1623.6 412.3V280.0M1636.8 412.3V270.3M1641.1 412.3V91.8M1672.1 412.3V273.4M1675.8 412.3V317.0M1681.0 412.3V274.0M1703.9 412.3V191.1M1472.4 412.3V369.8M1459.5 412.3V374.0M1697.9 412.3V369.0M1740.7 412.3V332.5M1747.9 412.3V273.1M1766.8 412.3V249.9M1769.4 412.3V166.1M1774.6 412.3V173.3M1784.9 412.3V189.7M1810.7 412.3V268.0M1847.4 412.3V257.9M1863.8 412.3V286.0M1884.2 412.3V247.0M1899.9 412.3V243.6M1912.8 412.3V222.9M1914.6 412.3V268.8M1920.9 412.3V181.9M1926.9 412.3V254.2M1978.8 412.3V259.4M1980.5 412.3V270.3M1977.7 412.3V331.0M1724.4 412.3V353.2M1859.8 412.3V353.2M1943.3 412.3V369.2" fill="none" stroke="#5ecbc4" stroke-width="1.50" clip-path="url(#cC)"/>
<rect x="105.10" y="525.30" width="541.40" height="694.10" fill="#f4f4da"/>
<rect x="425.00" y="525.30" width="163.10" height="694.10" fill="#ede8aa"/>
<line x1="425.4" y1="525.3" x2="425.4" y2="1219.4" stroke="#e6de8a" stroke-width="1"/>
<rect x="783.40" y="525.20" width="536.90" height="695.40" fill="#f6e3da"/>
<rect x="1075.10" y="525.20" width="45.60" height="695.40" fill="#f0c3ae"/>
<rect x="1455.00" y="524.80" width="533.60" height="694.60" fill="#d7f5f3"/>
<rect x="1776.00" y="524.80" width="120.60" height="694.60" fill="#adebe7"/>
<rect x="1937.20" y="524.80" width="51.40" height="694.60" fill="#adebe7"/>
<line x1="106.10" y1="898.50" x2="645.70" y2="898.50" stroke="#e0c63a" stroke-width="2.60" stroke-dasharray="20.3 8.45" stroke-dashoffset="0.00"/>
<g clip-path="url(#cD)">
<path d="M105.1 627.0L107.6 627.0L110.0 626.0L112.5 626.0L115.0 626.7L117.4 631.0L119.9 631.0L122.4 631.6L124.9 634.9L127.3 637.0L129.8 638.4L132.3 639.0L134.7 639.4L137.2 636.1L139.7 637.4L142.1 636.4L144.6 633.9L147.1 633.3L149.6 631.5L152.0 636.8L154.5 642.7L157.0 644.6L159.4 641.4L161.9 640.6L164.4 641.4L166.8 642.6L169.3 640.0L171.8 640.4L174.3 644.9L176.7 646.4L179.2 645.1L181.7 639.9L184.1 637.4L186.6 637.4L189.1 640.2L191.5 644.1L194.0 640.6L196.5 641.6L199.0 641.7L201.4 640.1L203.9 637.2L206.4 634.9L208.8 631.9L211.3 626.8L213.8 628.5L216.2 625.5L218.7 627.0L221.2 623.9L223.7 624.4L226.1 622.6L228.6 625.1L231.1 626.3L233.5 627.6L236.0 628.7L238.5 636.7L240.9 637.6L243.4 639.1L245.9 641.0L248.4 644.0L250.8 646.8L253.3 646.1L255.8 646.0L258.2 647.2L260.7 646.2L263.2 644.4L265.6 644.6L268.1 643.2L270.6 645.0L273.1 649.1L275.5 649.5L278.0 647.6L280.5 643.5L282.9 641.3L285.4 637.6L287.9 637.4L290.3 639.5L292.8 642.9L295.3 646.6L297.8 651.6L300.2 651.9L302.7 652.5L305.2 655.8L307.6 658.8L310.1 656.9L312.6 656.7L315.0 656.9L317.5 655.2L320.0 654.1L322.5 652.1L324.9 650.1L327.4 649.5L329.9 645.5L332.3 634.5L334.8 630.4L337.3 625.8L339.7 621.9L342.2 619.3L344.7 616.8L347.1 614.4L349.6 614.3L352.1 614.7L354.6 615.0L357.0 615.4L359.5 617.3L362.0 620.3L364.4 623.2L366.9 626.6L369.4 630.2L371.8 633.8L374.3 641.0L376.0 646.0L380.0 657.0L384.0 670.0L387.0 680.0L390.0 687.0L392.0 697.5L394.0 709.5L396.0 715.6L398.0 726.7L401.0 735.8L404.0 749.0L407.0 758.0L409.0 771.0L411.0 785.0L414.0 797.0L416.0 812.0L419.0 830.5L421.4 845.6L423.4 861.8L426.5 880.0L428.1 895.0L431.6 911.4L434.0 926.5L435.8 941.0L438.6 955.0L441.0 968.4L444.0 981.0L446.0 992.0L448.4 1006.7L451.4 1017.0L453.7 1027.7L456.5 1040.0L458.4 1051.6L461.4 1064.0L463.5 1072.6L466.0 1084.7L468.8 1095.0L470.7 1102.0L474.0 1112.6L475.8 1119.5L478.0 1126.5L482.8 1133.5L489.8 1142.8L496.7 1142.8L500.0 1147.4L506.0 1153.3L511.9 1158.0L515.3 1155.6L520.0 1149.8L527.0 1145.0L534.0 1140.5L541.0 1134.6L546.7 1127.7L550.2 1120.7L552.6 1113.7L555.0 1104.4L557.2 1095.0L559.5 1082.3L561.9 1068.0L565.3 1052.6L567.0 1039.3L569.3 1019.5L572.3 1002.0L574.7 985.8L577.7 969.5L579.3 955.0L581.6 933.0L584.7 919.0L587.0 901.4L589.8 884.7L591.8 871.0L593.8 851.7L596.8 838.6L598.8 826.5L601.9 803.3L603.9 791.2L606.9 777.0L610.0 758.0L611.0 750.0L615.0 740.0L617.0 733.8L620.0 723.7L622.0 719.6L624.0 711.6L627.0 700.5L629.0 696.5L632.0 686.4L634.0 681.3L636.0 674.3L639.0 670.2L642.0 667.0L645.0 664.0" fill="none" stroke="#b8b8a8" stroke-opacity="0.55" stroke-width="1.6" stroke-dasharray="5.5 3"/>
<g fill="#e2cf50" fill-opacity="0.26" stroke="#dcc640" stroke-opacity="0.55" stroke-width="1.3">
<ellipse cx="105.1" cy="627.0" rx="4.3" ry="3.8"/>
<ellipse cx="107.6" cy="627.0" rx="4.3" ry="3.8"/>
<ellipse cx="110.0" cy="626.0" rx="4.3" ry="3.8"/>
<ellipse cx="112.5" cy="626.0" rx="4.3" ry="3.8"/>
<ellipse cx="115.0" cy="626.7" rx="4.3" ry="3.8"/>
<ellipse cx="117.4" cy="631.0" rx="4.3" ry="3.8"/>
<ellipse cx="119.9" cy="631.0" rx="4.3" ry="3.8"/>
<ellipse cx="122.4" cy="631.6" rx="4.3" ry="3.8"/>
<ellipse cx="124.9" cy="634.9" rx="4.3" ry="3.8"/>
<ellipse cx="127.3" cy="637.0" rx="4.3" ry="3.8"/>
<ellipse cx="129.8" cy="638.4" rx="4.3" ry="3.8"/>
<ellipse cx="132.3" cy="639.0" rx="4.3" ry="3.8"/>
<ellipse cx="134.7" cy="639.4" rx="4.3" ry="3.8"/>
<ellipse cx="137.2" cy="636.1" rx="4.3" ry="3.8"/>
<ellipse cx="139.7" cy="637.4" rx="4.3" ry="3.8"/>
<ellipse cx="142.1" cy="636.4" rx="4.3" ry="3.8"/>
<ellipse cx="144.6" cy="633.9" rx="4.3" ry="3.8"/>
<ellipse cx="147.1" cy="633.3" rx="4.3" ry="3.8"/>
<ellipse cx="149.6" cy="631.5" rx="4.3" ry="3.8"/>
<ellipse cx="152.0" cy="636.8" rx="4.3" ry="3.8"/>
<ellipse cx="154.5" cy="642.7" rx="4.3" ry="3.8"/>
<ellipse cx="157.0" cy="644.6" rx="4.3" ry="3.8"/>
<ellipse cx="159.4" cy="641.4" rx="4.3" ry="3.8"/>
<ellipse cx="161.9" cy="640.6" rx="4.3" ry="3.8"/>
<ellipse cx="164.4" cy="641.4" rx="4.3" ry="3.8"/>
<ellipse cx="166.8" cy="642.6" rx="4.3" ry="3.8"/>
<ellipse cx="169.3" cy="640.0" rx="4.3" ry="3.8"/>
<ellipse cx="171.8" cy="640.4" rx="4.3" ry="3.8"/>
<ellipse cx="174.3" cy="644.9" rx="4.3" ry="3.8"/>
<ellipse cx="176.7" cy="646.4" rx="4.3" ry="3.8"/>
<ellipse cx="179.2" cy="645.1" rx="4.3" ry="3.8"/>
<ellipse cx="181.7" cy="639.9" rx="4.3" ry="3.8"/>
<ellipse cx="184.1" cy="637.4" rx="4.3" ry="3.8"/>
<ellipse cx="186.6" cy="637.4" rx="4.3" ry="3.8"/>
<ellipse cx="189.1" cy="640.2" rx="4.3" ry="3.8"/>
<ellipse cx="191.5" cy="644.1" rx="4.3" ry="3.8"/>
<ellipse cx="194.0" cy="640.6" rx="4.3" ry="3.8"/>
<ellipse cx="196.5" cy="641.6" rx="4.3" ry="3.8"/>
<ellipse cx="199.0" cy="641.7" rx="4.3" ry="3.8"/>
<ellipse cx="201.4" cy="640.1" rx="4.3" ry="3.8"/>
<ellipse cx="203.9" cy="637.2" rx="4.3" ry="3.8"/>
<ellipse cx="206.4" cy="634.9" rx="4.3" ry="3.8"/>
<ellipse cx="208.8" cy="631.9" rx="4.3" ry="3.8"/>
<ellipse cx="211.3" cy="626.8" rx="4.3" ry="3.8"/>
<ellipse cx="213.8" cy="628.5" rx="4.3" ry="3.8"/>
<ellipse cx="216.2" cy="625.5" rx="4.3" ry="3.8"/>
<ellipse cx="218.7" cy="627.0" rx="4.3" ry="3.8"/>
<ellipse cx="221.2" cy="623.9" rx="4.3" ry="3.8"/>
<ellipse cx="223.7" cy="624.4" rx="4.3" ry="3.8"/>
<ellipse cx="226.1" cy="622.6" rx="4.3" ry="3.8"/>
<ellipse cx="228.6" cy="625.1" rx="4.3" ry="3.8"/>
<ellipse cx="231.1" cy="626.3" rx="4.3" ry="3.8"/>
<ellipse cx="233.5" cy="627.6" rx="4.3" ry="3.8"/>
<ellipse cx="236.0" cy="628.7" rx="4.3" ry="3.8"/>
<ellipse cx="238.5" cy="636.7" rx="4.3" ry="3.8"/>
<ellipse cx="240.9" cy="637.6" rx="4.3" ry="3.8"/>
<ellipse cx="243.4" cy="639.1" rx="4.3" ry="3.8"/>
<ellipse cx="245.9" cy="641.0" rx="4.3" ry="3.8"/>
<ellipse cx="248.4" cy="644.0" rx="4.3" ry="3.8"/>
<ellipse cx="250.8" cy="646.8" rx="4.3" ry="3.8"/>
<ellipse cx="253.3" cy="646.1" rx="4.3" ry="3.8"/>
<ellipse cx="255.8" cy="646.0" rx="4.3" ry="3.8"/>
<ellipse cx="258.2" cy="647.2" rx="4.3" ry="3.8"/>
<ellipse cx="260.7" cy="646.2" rx="4.3" ry="3.8"/>
<ellipse cx="263.2" cy="644.4" rx="4.3" ry="3.8"/>
<ellipse cx="265.6" cy="644.6" rx="4.3" ry="3.8"/>
<ellipse cx="268.1" cy="643.2" rx="4.3" ry="3.8"/>
<ellipse cx="270.6" cy="645.0" rx="4.3" ry="3.8"/>
<ellipse cx="273.1" cy="649.1" rx="4.3" ry="3.8"/>
<ellipse cx="275.5" cy="649.5" rx="4.3" ry="3.8"/>
<ellipse cx="278.0" cy="647.6" rx="4.3" ry="3.8"/>
<ellipse cx="280.5" cy="643.5" rx="4.3" ry="3.8"/>
<ellipse cx="282.9" cy="641.3" rx="4.3" ry="3.8"/>
<ellipse cx="285.4" cy="637.6" rx="4.3" ry="3.8"/>
<ellipse cx="287.9" cy="637.4" rx="4.3" ry="3.8"/>
<ellipse cx="290.3" cy="639.5" rx="4.3" ry="3.8"/>
<ellipse cx="292.8" cy="642.9" rx="4.3" ry="3.8"/>
<ellipse cx="295.3" cy="646.6" rx="4.3" ry="3.8"/>
<ellipse cx="297.8" cy="651.6" rx="4.3" ry="3.8"/>
<ellipse cx="300.2" cy="651.9" rx="4.3" ry="3.8"/>
<ellipse cx="302.7" cy="652.5" rx="4.3" ry="3.8"/>
<ellipse cx="305.2" cy="655.8" rx="4.3" ry="3.8"/>
<ellipse cx="307.6" cy="658.8" rx="4.3" ry="3.8"/>
<ellipse cx="310.1" cy="656.9" rx="4.3" ry="3.8"/>
<ellipse cx="312.6" cy="656.7" rx="4.3" ry="3.8"/>
<ellipse cx="315.0" cy="656.9" rx="4.3" ry="3.8"/>
<ellipse cx="317.5" cy="655.2" rx="4.3" ry="3.8"/>
<ellipse cx="320.0" cy="654.1" rx="4.3" ry="3.8"/>
<ellipse cx="322.5" cy="652.1" rx="4.3" ry="3.8"/>
<ellipse cx="324.9" cy="650.1" rx="4.3" ry="3.8"/>
<ellipse cx="327.4" cy="649.5" rx="4.3" ry="3.8"/>
<ellipse cx="329.9" cy="645.5" rx="4.3" ry="3.8"/>
<ellipse cx="332.3" cy="634.5" rx="4.3" ry="3.8"/>
<ellipse cx="334.8" cy="630.4" rx="4.3" ry="3.8"/>
<ellipse cx="337.3" cy="625.8" rx="4.3" ry="3.8"/>
<ellipse cx="339.7" cy="621.9" rx="4.3" ry="3.8"/>
<ellipse cx="342.2" cy="619.3" rx="4.3" ry="3.8"/>
<ellipse cx="344.7" cy="616.8" rx="4.3" ry="3.8"/>
<ellipse cx="347.1" cy="614.4" rx="4.3" ry="3.8"/>
<ellipse cx="349.6" cy="614.3" rx="4.3" ry="3.8"/>
<ellipse cx="352.1" cy="614.7" rx="4.3" ry="3.8"/>
<ellipse cx="354.6" cy="615.0" rx="4.3" ry="3.8"/>
<ellipse cx="357.0" cy="615.4" rx="4.3" ry="3.8"/>
<ellipse cx="359.5" cy="617.3" rx="4.3" ry="3.8"/>
<ellipse cx="362.0" cy="620.3" rx="4.3" ry="3.8"/>
<ellipse cx="364.4" cy="623.2" rx="4.3" ry="3.8"/>
<ellipse cx="366.9" cy="626.6" rx="4.3" ry="3.8"/>
<ellipse cx="369.4" cy="630.2" rx="4.3" ry="3.8"/>
<ellipse cx="371.8" cy="633.8" rx="4.3" ry="3.8"/>
<ellipse cx="374.3" cy="641.0" rx="4.3" ry="3.8"/>
<ellipse cx="376.0" cy="646.0" rx="4.3" ry="3.8"/>
<ellipse cx="380.0" cy="657.0" rx="4.3" ry="3.8"/>
<ellipse cx="384.0" cy="670.0" rx="4.3" ry="3.8"/>
<ellipse cx="387.0" cy="680.0" rx="4.3" ry="3.8"/>
<ellipse cx="390.0" cy="687.0" rx="4.3" ry="3.8"/>
<ellipse cx="392.0" cy="697.5" rx="4.3" ry="3.8"/>
<ellipse cx="394.0" cy="709.5" rx="4.3" ry="3.8"/>
<ellipse cx="396.0" cy="715.6" rx="4.3" ry="3.8"/>
<ellipse cx="398.0" cy="726.7" rx="4.3" ry="3.8"/>
<ellipse cx="401.0" cy="735.8" rx="4.3" ry="3.8"/>
<ellipse cx="404.0" cy="749.0" rx="4.3" ry="3.8"/>
<ellipse cx="407.0" cy="758.0" rx="4.3" ry="3.8"/>
<ellipse cx="409.0" cy="771.0" rx="4.3" ry="3.8"/>
<ellipse cx="411.0" cy="785.0" rx="4.3" ry="3.8"/>
<ellipse cx="414.0" cy="797.0" rx="4.3" ry="3.8"/>
<ellipse cx="416.0" cy="812.0" rx="4.3" ry="3.8"/>
<ellipse cx="419.0" cy="830.5" rx="4.3" ry="3.8"/>
<ellipse cx="421.4" cy="845.6" rx="4.3" ry="3.8"/>
<ellipse cx="423.4" cy="861.8" rx="4.3" ry="3.8"/>
<ellipse cx="426.5" cy="880.0" rx="4.3" ry="3.8"/>
<ellipse cx="428.1" cy="895.0" rx="4.3" ry="3.8"/>
<ellipse cx="431.6" cy="911.4" rx="4.3" ry="3.8"/>
<ellipse cx="434.0" cy="926.5" rx="4.3" ry="3.8"/>
<ellipse cx="435.8" cy="941.0" rx="4.3" ry="3.8"/>
<ellipse cx="438.6" cy="955.0" rx="4.3" ry="3.8"/>
<ellipse cx="441.0" cy="968.4" rx="4.3" ry="3.8"/>
<ellipse cx="444.0" cy="981.0" rx="4.3" ry="3.8"/>
<ellipse cx="446.0" cy="992.0" rx="4.3" ry="3.8"/>
<ellipse cx="448.4" cy="1006.7" rx="4.3" ry="3.8"/>
<ellipse cx="451.4" cy="1017.0" rx="4.3" ry="3.8"/>
<ellipse cx="453.7" cy="1027.7" rx="4.3" ry="3.8"/>
<ellipse cx="456.5" cy="1040.0" rx="4.3" ry="3.8"/>
<ellipse cx="458.4" cy="1051.6" rx="4.3" ry="3.8"/>
<ellipse cx="461.4" cy="1064.0" rx="4.3" ry="3.8"/>
<ellipse cx="463.5" cy="1072.6" rx="4.3" ry="3.8"/>
<ellipse cx="466.0" cy="1084.7" rx="4.3" ry="3.8"/>
<ellipse cx="468.8" cy="1095.0" rx="4.3" ry="3.8"/>
<ellipse cx="470.7" cy="1102.0" rx="4.3" ry="3.8"/>
<ellipse cx="474.0" cy="1112.6" rx="4.3" ry="3.8"/>
<ellipse cx="475.8" cy="1119.5" rx="4.3" ry="3.8"/>
<ellipse cx="478.0" cy="1126.5" rx="4.3" ry="3.8"/>
<ellipse cx="482.8" cy="1133.5" rx="4.3" ry="3.8"/>
<ellipse cx="489.8" cy="1142.8" rx="4.3" ry="3.8"/>
<ellipse cx="496.7" cy="1142.8" rx="4.3" ry="3.8"/>
<ellipse cx="500.0" cy="1147.4" rx="4.3" ry="3.8"/>
<ellipse cx="506.0" cy="1153.3" rx="4.3" ry="3.8"/>
<ellipse cx="511.9" cy="1158.0" rx="4.3" ry="3.8"/>
<ellipse cx="515.3" cy="1155.6" rx="4.3" ry="3.8"/>
<ellipse cx="520.0" cy="1149.8" rx="4.3" ry="3.8"/>
<ellipse cx="527.0" cy="1145.0" rx="4.3" ry="3.8"/>
<ellipse cx="534.0" cy="1140.5" rx="4.3" ry="3.8"/>
<ellipse cx="541.0" cy="1134.6" rx="4.3" ry="3.8"/>
<ellipse cx="546.7" cy="1127.7" rx="4.3" ry="3.8"/>
<ellipse cx="550.2" cy="1120.7" rx="4.3" ry="3.8"/>
<ellipse cx="552.6" cy="1113.7" rx="4.3" ry="3.8"/>
<ellipse cx="555.0" cy="1104.4" rx="4.3" ry="3.8"/>
<ellipse cx="557.2" cy="1095.0" rx="4.3" ry="3.8"/>
<ellipse cx="559.5" cy="1082.3" rx="4.3" ry="3.8"/>
<ellipse cx="561.9" cy="1068.0" rx="4.3" ry="3.8"/>
<ellipse cx="565.3" cy="1052.6" rx="4.3" ry="3.8"/>
<ellipse cx="567.0" cy="1039.3" rx="4.3" ry="3.8"/>
<ellipse cx="569.3" cy="1019.5" rx="4.3" ry="3.8"/>
<ellipse cx="572.3" cy="1002.0" rx="4.3" ry="3.8"/>
<ellipse cx="574.7" cy="985.8" rx="4.3" ry="3.8"/>
<ellipse cx="577.7" cy="969.5" rx="4.3" ry="3.8"/>
<ellipse cx="579.3" cy="955.0" rx="4.3" ry="3.8"/>
<ellipse cx="581.6" cy="933.0" rx="4.3" ry="3.8"/>
<ellipse cx="584.7" cy="919.0" rx="4.3" ry="3.8"/>
<ellipse cx="587.0" cy="901.4" rx="4.3" ry="3.8"/>
<ellipse cx="589.8" cy="884.7" rx="4.3" ry="3.8"/>
<ellipse cx="591.8" cy="871.0" rx="4.3" ry="3.8"/>
<ellipse cx="593.8" cy="851.7" rx="4.3" ry="3.8"/>
<ellipse cx="596.8" cy="838.6" rx="4.3" ry="3.8"/>
<ellipse cx="598.8" cy="826.5" rx="4.3" ry="3.8"/>
<ellipse cx="601.9" cy="803.3" rx="4.3" ry="3.8"/>
<ellipse cx="603.9" cy="791.2" rx="4.3" ry="3.8"/>
<ellipse cx="606.9" cy="777.0" rx="4.3" ry="3.8"/>
<ellipse cx="610.0" cy="758.0" rx="4.3" ry="3.8"/>
<ellipse cx="611.0" cy="750.0" rx="4.3" ry="3.8"/>
<ellipse cx="615.0" cy="740.0" rx="4.3" ry="3.8"/>
<ellipse cx="617.0" cy="733.8" rx="4.3" ry="3.8"/>
<ellipse cx="620.0" cy="723.7" rx="4.3" ry="3.8"/>
<ellipse cx="622.0" cy="719.6" rx="4.3" ry="3.8"/>
<ellipse cx="624.0" cy="711.6" rx="4.3" ry="3.8"/>
<ellipse cx="627.0" cy="700.5" rx="4.3" ry="3.8"/>
<ellipse cx="629.0" cy="696.5" rx="4.3" ry="3.8"/>
<ellipse cx="632.0" cy="686.4" rx="4.3" ry="3.8"/>
<ellipse cx="634.0" cy="681.3" rx="4.3" ry="3.8"/>
<ellipse cx="636.0" cy="674.3" rx="4.3" ry="3.8"/>
<ellipse cx="639.0" cy="670.2" rx="4.3" ry="3.8"/>
<ellipse cx="642.0" cy="667.0" rx="4.3" ry="3.8"/>
<ellipse cx="645.0" cy="664.0" rx="4.3" ry="3.8"/>
</g></g>
<line x1="513.70" y1="525.30" x2="513.70" y2="1219.40" stroke="#000000" stroke-width="2.80" stroke-dasharray="20.9 7.8" stroke-dashoffset="18.30"/>
<line x1="517.60" y1="525.30" x2="517.60" y2="1219.40" stroke="#e2c535" stroke-width="2.00" stroke-dasharray="20.9 7.8" stroke-dashoffset="18.30"/>
<line x1="784.4" y1="587.4" x2="1319.3" y2="587.4" stroke="#f2581c" stroke-width="2.3" stroke-dasharray="2.3 3.1"/>
<line x1="784.4" y1="627.7" x2="1319.3" y2="627.7" stroke="#f2581c" stroke-width="2.3" stroke-dasharray="2.3 3.1"/>
<g clip-path="url(#cE)">
<path d="M784.8 886.1L786.1 913.4L788.2 845.9L790.2 940.7L793.0 832.2L795.3 818.6L797.1 873.2L800.5 778.0L802.2 913.4L805.2 832.2L807.3 859.5L809.3 845.9L812.4 899.8L814.1 873.2L817.9 845.9L819.6 927.0L822.6 832.2L824.3 927.0L826.7 940.7L829.8 893.6L831.2 627.6L835.3 888.8L837.0 832.2L839.0 940.7L841.7 927.0L844.1 764.4L847.2 886.1L849.6 927.0L851.3 791.6L854.4 899.8L856.4 826.8L859.5 1013.7L861.5 913.4L863.6 832.2L866.6 778.0L868.7 927.0L871.7 818.6L873.8 873.2L875.8 899.8L878.2 899.8L881.0 886.1L884.0 927.0L886.4 899.8L888.1 980.9L890.8 818.6L893.2 967.3L896.0 886.1L898.3 832.2L901.1 899.8L903.5 899.8L905.5 737.4L908.6 927.0L910.6 723.8L913.4 1114.6L915.7 791.6L917.8 769.8L920.5 748.3L922.6 970.4L925.6 835.0L927.3 788.9L929.0 788.9L930.1 940.7L935.2 845.9L938.0 832.2L940.3 845.9L942.1 886.1L945.1 994.6L947.5 818.6L950.2 845.9L952.3 818.6L954.3 913.4L957.4 980.9L959.8 818.6L962.5 994.6L964.6 778.0L966.6 954.0L969.3 751.1L971.7 899.8L974.5 764.4L976.8 845.9L979.6 859.5L982.0 859.5L984.0 804.9L986.7 980.9L989.1 778.0L991.8 927.0L994.2 873.2L996.3 818.6L999.0 967.3L1001.4 873.2L1004.1 954.0L1006.2 881.0L1008.6 1068.9L1011.6 980.9L1013.3 832.2L1016.4 940.7L1018.5 954.0L1020.8 832.2L1023.6 1008.2L1025.6 751.1L1028.7 967.3L1031.1 832.2L1032.8 913.4L1035.8 764.4L1038.6 913.4L1040.6 818.6L1043.0 818.6L1045.1 764.4L1048.1 832.2L1050.2 859.5L1053.0 682.6L1055.0 764.4L1058.4 750.8L1060.1 778.0L1062.5 723.8L1065.2 764.4L1067.3 710.2L1070.4 682.6L1072.4 778.0L1074.4 696.5L1077.5 723.8L1079.9 682.6L1082.6 737.1L1084.7 655.3L1086.7 641.6L1089.8 696.5L1091.8 628.0L1094.6 614.3L1097.0 641.6L1098.7 614.3L1100.7 587.1L1103.8 641.6L1107.9 614.3L1108.2 641.6L1110.9 655.3L1113.0 641.6L1115.0 655.3L1118.8 682.6L1120.8 696.5L1123.9 655.3L1125.9 696.5L1128.7 710.2L1131.4 682.6L1133.8 696.5L1136.5 668.9L1138.9 750.8L1140.6 668.9L1144.0 710.2L1146.1 778.0L1149.1 696.5L1150.8 764.4L1153.6 778.0L1156.0 791.7L1158.0 832.3L1161.1 832.3L1163.5 805.3L1165.5 805.3L1168.2 899.8L1170.3 872.9L1173.4 832.3L1175.4 805.3L1177.4 845.9L1179.8 819.0L1182.6 819.0L1185.0 859.2L1187.7 859.2L1189.7 913.5L1192.8 886.6L1194.8 940.4L1197.9 913.5L1200.0 886.6L1202.8 913.5L1205.2 886.6L1207.6 900.0L1212.1 900.0L1215.9 926.9L1219.3 859.3L1223.1 967.7L1227.6 981.4L1229.7 1008.4L1231.7 1035.6L1234.5 1077.0L1236.9 1090.5L1239.7 1117.4L1242.1 1077.0L1243.5 1185.3L1246.9 1144.6L1249.0 1131.2L1251.7 1117.4L1253.8 1103.9L1255.9 1262.9L1258.6 1090.5L1261.1 1144.6L1264.2 1131.2L1266.2 1090.5L1268.7 1171.5L1271.4 1090.5L1273.1 1063.5L1275.9 1262.9L1278.3 1049.1L1280.4 1103.9L1283.5 1185.3L1285.6 994.9L1288.7 1021.8L1290.4 967.7L1293.5 1035.6L1295.6 926.9L1297.6 1008.4L1301.1 1035.6L1302.8 926.9L1305.9 1049.1L1307.6 954.2L1310.0 981.4L1312.8 926.9L1314.5 913.5L1316.9 859.3L1318.0 900.0L1320.0 883.5" fill="none" stroke="#c8b0a8" stroke-opacity="0.60" stroke-width="1.6" stroke-dasharray="5.5 3"/>
<g fill="#ee7f58" fill-opacity="0.36" stroke="#ec7a50" stroke-opacity="0.62" stroke-width="1.3">
<ellipse cx="784.8" cy="886.1" rx="4.3" ry="3.8"/>
<ellipse cx="786.1" cy="913.4" rx="4.3" ry="3.8"/>
<ellipse cx="788.2" cy="845.9" rx="4.3" ry="3.8"/>
<ellipse cx="790.2" cy="940.7" rx="4.3" ry="3.8"/>
<ellipse cx="793.0" cy="832.2" rx="4.3" ry="3.8"/>
<ellipse cx="795.3" cy="818.6" rx="4.3" ry="3.8"/>
<ellipse cx="797.1" cy="873.2" rx="4.3" ry="3.8"/>
<ellipse cx="800.5" cy="778.0" rx="4.3" ry="3.8"/>
<ellipse cx="802.2" cy="913.4" rx="4.3" ry="3.8"/>
<ellipse cx="805.2" cy="832.2" rx="4.3" ry="3.8"/>
<ellipse cx="807.3" cy="859.5" rx="4.3" ry="3.8"/>
<ellipse cx="809.3" cy="845.9" rx="4.3" ry="3.8"/>
<ellipse cx="812.4" cy="899.8" rx="4.3" ry="3.8"/>
<ellipse cx="814.1" cy="873.2" rx="4.3" ry="3.8"/>
<ellipse cx="817.9" cy="845.9" rx="4.3" ry="3.8"/>
<ellipse cx="819.6" cy="927.0" rx="4.3" ry="3.8"/>
<ellipse cx="822.6" cy="832.2" rx="4.3" ry="3.8"/>
<ellipse cx="824.3" cy="927.0" rx="4.3" ry="3.8"/>
<ellipse cx="826.7" cy="940.7" rx="4.3" ry="3.8"/>
<ellipse cx="829.8" cy="893.6" rx="4.3" ry="3.8"/>
<ellipse cx="831.2" cy="627.6" rx="4.3" ry="3.8"/>
<ellipse cx="835.3" cy="888.8" rx="4.3" ry="3.8"/>
<ellipse cx="837.0" cy="832.2" rx="4.3" ry="3.8"/>
<ellipse cx="839.0" cy="940.7" rx="4.3" ry="3.8"/>
<ellipse cx="841.7" cy="927.0" rx="4.3" ry="3.8"/>
<ellipse cx="844.1" cy="764.4" rx="4.3" ry="3.8"/>
<ellipse cx="847.2" cy="886.1" rx="4.3" ry="3.8"/>
<ellipse cx="849.6" cy="927.0" rx="4.3" ry="3.8"/>
<ellipse cx="851.3" cy="791.6" rx="4.3" ry="3.8"/>
<ellipse cx="854.4" cy="899.8" rx="4.3" ry="3.8"/>
<ellipse cx="856.4" cy="826.8" rx="4.3" ry="3.8"/>
<ellipse cx="859.5" cy="1013.7" rx="4.3" ry="3.8"/>
<ellipse cx="861.5" cy="913.4" rx="4.3" ry="3.8"/>
<ellipse cx="863.6" cy="832.2" rx="4.3" ry="3.8"/>
<ellipse cx="866.6" cy="778.0" rx="4.3" ry="3.8"/>
<ellipse cx="868.7" cy="927.0" rx="4.3" ry="3.8"/>
<ellipse cx="871.7" cy="818.6" rx="4.3" ry="3.8"/>
<ellipse cx="873.8" cy="873.2" rx="4.3" ry="3.8"/>
<ellipse cx="875.8" cy="899.8" rx="4.3" ry="3.8"/>
<ellipse cx="878.2" cy="899.8" rx="4.3" ry="3.8"/>
<ellipse cx="881.0" cy="886.1" rx="4.3" ry="3.8"/>
<ellipse cx="884.0" cy="927.0" rx="4.3" ry="3.8"/>
<ellipse cx="886.4" cy="899.8" rx="4.3" ry="3.8"/>
<ellipse cx="888.1" cy="980.9" rx="4.3" ry="3.8"/>
<ellipse cx="890.8" cy="818.6" rx="4.3" ry="3.8"/>
<ellipse cx="893.2" cy="967.3" rx="4.3" ry="3.8"/>
<ellipse cx="896.0" cy="886.1" rx="4.3" ry="3.8"/>
<ellipse cx="898.3" cy="832.2" rx="4.3" ry="3.8"/>
<ellipse cx="901.1" cy="899.8" rx="4.3" ry="3.8"/>
<ellipse cx="903.5" cy="899.8" rx="4.3" ry="3.8"/>
<ellipse cx="905.5" cy="737.4" rx="4.3" ry="3.8"/>
<ellipse cx="908.6" cy="927.0" rx="4.3" ry="3.8"/>
<ellipse cx="910.6" cy="723.8" rx="4.3" ry="3.8"/>
<ellipse cx="913.4" cy="1114.6" rx="4.3" ry="3.8"/>
<ellipse cx="915.7" cy="791.6" rx="4.3" ry="3.8"/>
<ellipse cx="917.8" cy="769.8" rx="4.3" ry="3.8"/>
<ellipse cx="920.5" cy="748.3" rx="4.3" ry="3.8"/>
<ellipse cx="922.6" cy="970.4" rx="4.3" ry="3.8"/>
<ellipse cx="925.6" cy="835.0" rx="4.3" ry="3.8"/>
<ellipse cx="927.3" cy="788.9" rx="4.3" ry="3.8"/>
<ellipse cx="929.0" cy="788.9" rx="4.3" ry="3.8"/>
<ellipse cx="930.1" cy="940.7" rx="4.3" ry="3.8"/>
<ellipse cx="935.2" cy="845.9" rx="4.3" ry="3.8"/>
<ellipse cx="938.0" cy="832.2" rx="4.3" ry="3.8"/>
<ellipse cx="940.3" cy="845.9" rx="4.3" ry="3.8"/>
<ellipse cx="942.1" cy="886.1" rx="4.3" ry="3.8"/>
<ellipse cx="945.1" cy="994.6" rx="4.3" ry="3.8"/>
<ellipse cx="947.5" cy="818.6" rx="4.3" ry="3.8"/>
<ellipse cx="950.2" cy="845.9" rx="4.3" ry="3.8"/>
<ellipse cx="952.3" cy="818.6" rx="4.3" ry="3.8"/>
<ellipse cx="954.3" cy="913.4" rx="4.3" ry="3.8"/>
<ellipse cx="957.4" cy="980.9" rx="4.3" ry="3.8"/>
<ellipse cx="959.8" cy="818.6" rx="4.3" ry="3.8"/>
<ellipse cx="962.5" cy="994.6" rx="4.3" ry="3.8"/>
<ellipse cx="964.6" cy="778.0" rx="4.3" ry="3.8"/>
<ellipse cx="966.6" cy="954.0" rx="4.3" ry="3.8"/>
<ellipse cx="969.3" cy="751.1" rx="4.3" ry="3.8"/>
<ellipse cx="971.7" cy="899.8" rx="4.3" ry="3.8"/>
<ellipse cx="974.5" cy="764.4" rx="4.3" ry="3.8"/>
<ellipse cx="976.8" cy="845.9" rx="4.3" ry="3.8"/>
<ellipse cx="979.6" cy="859.5" rx="4.3" ry="3.8"/>
<ellipse cx="982.0" cy="859.5" rx="4.3" ry="3.8"/>
<ellipse cx="984.0" cy="804.9" rx="4.3" ry="3.8"/>
<ellipse cx="986.7" cy="980.9" rx="4.3" ry="3.8"/>
<ellipse cx="989.1" cy="778.0" rx="4.3" ry="3.8"/>
<ellipse cx="991.8" cy="927.0" rx="4.3" ry="3.8"/>
<ellipse cx="994.2" cy="873.2" rx="4.3" ry="3.8"/>
<ellipse cx="996.3" cy="818.6" rx="4.3" ry="3.8"/>
<ellipse cx="999.0" cy="967.3" rx="4.3" ry="3.8"/>
<ellipse cx="1001.4" cy="873.2" rx="4.3" ry="3.8"/>
<ellipse cx="1004.1" cy="954.0" rx="4.3" ry="3.8"/>
<ellipse cx="1006.2" cy="881.0" rx="4.3" ry="3.8"/>
<ellipse cx="1008.6" cy="1068.9" rx="4.3" ry="3.8"/>
<ellipse cx="1011.6" cy="980.9" rx="4.3" ry="3.8"/>
<ellipse cx="1013.3" cy="832.2" rx="4.3" ry="3.8"/>
<ellipse cx="1016.4" cy="940.7" rx="4.3" ry="3.8"/>
<ellipse cx="1018.5" cy="954.0" rx="4.3" ry="3.8"/>
<ellipse cx="1020.8" cy="832.2" rx="4.3" ry="3.8"/>
<ellipse cx="1023.6" cy="1008.2" rx="4.3" ry="3.8"/>
<ellipse cx="1025.6" cy="751.1" rx="4.3" ry="3.8"/>
<ellipse cx="1028.7" cy="967.3" rx="4.3" ry="3.8"/>
<ellipse cx="1031.1" cy="832.2" rx="4.3" ry="3.8"/>
<ellipse cx="1032.8" cy="913.4" rx="4.3" ry="3.8"/>
<ellipse cx="1035.8" cy="764.4" rx="4.3" ry="3.8"/>
<ellipse cx="1038.6" cy="913.4" rx="4.3" ry="3.8"/>
<ellipse cx="1040.6" cy="818.6" rx="4.3" ry="3.8"/>
<ellipse cx="1043.0" cy="818.6" rx="4.3" ry="3.8"/>
<ellipse cx="1045.1" cy="764.4" rx="4.3" ry="3.8"/>
<ellipse cx="1048.1" cy="832.2" rx="4.3" ry="3.8"/>
<ellipse cx="1050.2" cy="859.5" rx="4.3" ry="3.8"/>
<ellipse cx="1053.0" cy="682.6" rx="4.3" ry="3.8"/>
<ellipse cx="1055.0" cy="764.4" rx="4.3" ry="3.8"/>
<ellipse cx="1058.4" cy="750.8" rx="4.3" ry="3.8"/>
<ellipse cx="1060.1" cy="778.0" rx="4.3" ry="3.8"/>
<ellipse cx="1062.5" cy="723.8" rx="4.3" ry="3.8"/>
<ellipse cx="1065.2" cy="764.4" rx="4.3" ry="3.8"/>
<ellipse cx="1067.3" cy="710.2" rx="4.3" ry="3.8"/>
<ellipse cx="1070.4" cy="682.6" rx="4.3" ry="3.8"/>
<ellipse cx="1072.4" cy="778.0" rx="4.3" ry="3.8"/>
<ellipse cx="1074.4" cy="696.5" rx="4.3" ry="3.8"/>
<ellipse cx="1077.5" cy="723.8" rx="4.3" ry="3.8"/>
<ellipse cx="1079.9" cy="682.6" rx="4.3" ry="3.8"/>
<ellipse cx="1082.6" cy="737.1" rx="4.3" ry="3.8"/>
<ellipse cx="1084.7" cy="655.3" rx="4.3" ry="3.8"/>
<ellipse cx="1086.7" cy="641.6" rx="4.3" ry="3.8"/>
<ellipse cx="1089.8" cy="696.5" rx="4.3" ry="3.8"/>
<ellipse cx="1091.8" cy="628.0" rx="4.3" ry="3.8"/>
<ellipse cx="1094.6" cy="614.3" rx="4.3" ry="3.8"/>
<ellipse cx="1097.0" cy="641.6" rx="4.3" ry="3.8"/>
<ellipse cx="1098.7" cy="614.3" rx="4.3" ry="3.8"/>
<ellipse cx="1100.7" cy="587.1" rx="4.3" ry="3.8"/>
<ellipse cx="1103.8" cy="641.6" rx="4.3" ry="3.8"/>
<ellipse cx="1107.9" cy="614.3" rx="4.3" ry="3.8"/>
<ellipse cx="1108.2" cy="641.6" rx="4.3" ry="3.8"/>
<ellipse cx="1110.9" cy="655.3" rx="4.3" ry="3.8"/>
<ellipse cx="1113.0" cy="641.6" rx="4.3" ry="3.8"/>
<ellipse cx="1115.0" cy="655.3" rx="4.3" ry="3.8"/>
<ellipse cx="1118.8" cy="682.6" rx="4.3" ry="3.8"/>
<ellipse cx="1120.8" cy="696.5" rx="4.3" ry="3.8"/>
<ellipse cx="1123.9" cy="655.3" rx="4.3" ry="3.8"/>
<ellipse cx="1125.9" cy="696.5" rx="4.3" ry="3.8"/>
<ellipse cx="1128.7" cy="710.2" rx="4.3" ry="3.8"/>
<ellipse cx="1131.4" cy="682.6" rx="4.3" ry="3.8"/>
<ellipse cx="1133.8" cy="696.5" rx="4.3" ry="3.8"/>
<ellipse cx="1136.5" cy="668.9" rx="4.3" ry="3.8"/>
<ellipse cx="1138.9" cy="750.8" rx="4.3" ry="3.8"/>
<ellipse cx="1140.6" cy="668.9" rx="4.3" ry="3.8"/>
<ellipse cx="1144.0" cy="710.2" rx="4.3" ry="3.8"/>
<ellipse cx="1146.1" cy="778.0" rx="4.3" ry="3.8"/>
<ellipse cx="1149.1" cy="696.5" rx="4.3" ry="3.8"/>
<ellipse cx="1150.8" cy="764.4" rx="4.3" ry="3.8"/>
<ellipse cx="1153.6" cy="778.0" rx="4.3" ry="3.8"/>
<ellipse cx="1156.0" cy="791.7" rx="4.3" ry="3.8"/>
<ellipse cx="1158.0" cy="832.3" rx="4.3" ry="3.8"/>
<ellipse cx="1161.1" cy="832.3" rx="4.3" ry="3.8"/>
<ellipse cx="1163.5" cy="805.3" rx="4.3" ry="3.8"/>
<ellipse cx="1165.5" cy="805.3" rx="4.3" ry="3.8"/>
<ellipse cx="1168.2" cy="899.8" rx="4.3" ry="3.8"/>
<ellipse cx="1170.3" cy="872.9" rx="4.3" ry="3.8"/>
<ellipse cx="1173.4" cy="832.3" rx="4.3" ry="3.8"/>
<ellipse cx="1175.4" cy="805.3" rx="4.3" ry="3.8"/>
<ellipse cx="1177.4" cy="845.9" rx="4.3" ry="3.8"/>
<ellipse cx="1179.8" cy="819.0" rx="4.3" ry="3.8"/>
<ellipse cx="1182.6" cy="819.0" rx="4.3" ry="3.8"/>
<ellipse cx="1185.0" cy="859.2" rx="4.3" ry="3.8"/>
<ellipse cx="1187.7" cy="859.2" rx="4.3" ry="3.8"/>
<ellipse cx="1189.7" cy="913.5" rx="4.3" ry="3.8"/>
<ellipse cx="1192.8" cy="886.6" rx="4.3" ry="3.8"/>
<ellipse cx="1194.8" cy="940.4" rx="4.3" ry="3.8"/>
<ellipse cx="1197.9" cy="913.5" rx="4.3" ry="3.8"/>
<ellipse cx="1200.0" cy="886.6" rx="4.3" ry="3.8"/>
<ellipse cx="1202.8" cy="913.5" rx="4.3" ry="3.8"/>
<ellipse cx="1205.2" cy="886.6" rx="4.3" ry="3.8"/>
<ellipse cx="1207.6" cy="900.0" rx="4.3" ry="3.8"/>
<ellipse cx="1212.1" cy="900.0" rx="4.3" ry="3.8"/>
<ellipse cx="1215.9" cy="926.9" rx="4.3" ry="3.8"/>
<ellipse cx="1219.3" cy="859.3" rx="4.3" ry="3.8"/>
<ellipse cx="1223.1" cy="967.7" rx="4.3" ry="3.8"/>
<ellipse cx="1227.6" cy="981.4" rx="4.3" ry="3.8"/>
<ellipse cx="1229.7" cy="1008.4" rx="4.3" ry="3.8"/>
<ellipse cx="1231.7" cy="1035.6" rx="4.3" ry="3.8"/>
<ellipse cx="1234.5" cy="1077.0" rx="4.3" ry="3.8"/>
<ellipse cx="1236.9" cy="1090.5" rx="4.3" ry="3.8"/>
<ellipse cx="1239.7" cy="1117.4" rx="4.3" ry="3.8"/>
<ellipse cx="1242.1" cy="1077.0" rx="4.3" ry="3.8"/>
<ellipse cx="1243.5" cy="1185.3" rx="4.3" ry="3.8"/>
<ellipse cx="1246.9" cy="1144.6" rx="4.3" ry="3.8"/>
<ellipse cx="1249.0" cy="1131.2" rx="4.3" ry="3.8"/>
<ellipse cx="1251.7" cy="1117.4" rx="4.3" ry="3.8"/>
<ellipse cx="1253.8" cy="1103.9" rx="4.3" ry="3.8"/>
<ellipse cx="1255.9" cy="1262.9" rx="4.3" ry="3.8"/>
<ellipse cx="1258.6" cy="1090.5" rx="4.3" ry="3.8"/>
<ellipse cx="1261.1" cy="1144.6" rx="4.3" ry="3.8"/>
<ellipse cx="1264.2" cy="1131.2" rx="4.3" ry="3.8"/>
<ellipse cx="1266.2" cy="1090.5" rx="4.3" ry="3.8"/>
<ellipse cx="1268.7" cy="1171.5" rx="4.3" ry="3.8"/>
<ellipse cx="1271.4" cy="1090.5" rx="4.3" ry="3.8"/>
<ellipse cx="1273.1" cy="1063.5" rx="4.3" ry="3.8"/>
<ellipse cx="1275.9" cy="1262.9" rx="4.3" ry="3.8"/>
<ellipse cx="1278.3" cy="1049.1" rx="4.3" ry="3.8"/>
<ellipse cx="1280.4" cy="1103.9" rx="4.3" ry="3.8"/>
<ellipse cx="1283.5" cy="1185.3" rx="4.3" ry="3.8"/>
<ellipse cx="1285.6" cy="994.9" rx="4.3" ry="3.8"/>
<ellipse cx="1288.7" cy="1021.8" rx="4.3" ry="3.8"/>
<ellipse cx="1290.4" cy="967.7" rx="4.3" ry="3.8"/>
<ellipse cx="1293.5" cy="1035.6" rx="4.3" ry="3.8"/>
<ellipse cx="1295.6" cy="926.9" rx="4.3" ry="3.8"/>
<ellipse cx="1297.6" cy="1008.4" rx="4.3" ry="3.8"/>
<ellipse cx="1301.1" cy="1035.6" rx="4.3" ry="3.8"/>
<ellipse cx="1302.8" cy="926.9" rx="4.3" ry="3.8"/>
<ellipse cx="1305.9" cy="1049.1" rx="4.3" ry="3.8"/>
<ellipse cx="1307.6" cy="954.2" rx="4.3" ry="3.8"/>
<ellipse cx="1310.0" cy="981.4" rx="4.3" ry="3.8"/>
<ellipse cx="1312.8" cy="926.9" rx="4.3" ry="3.8"/>
<ellipse cx="1314.5" cy="913.5" rx="4.3" ry="3.8"/>
<ellipse cx="1316.9" cy="859.3" rx="4.3" ry="3.8"/>
<ellipse cx="1318.0" cy="900.0" rx="4.3" ry="3.8"/>
<ellipse cx="1320.0" cy="883.5" rx="4.3" ry="3.8"/>
</g></g>
<line x1="1099.90" y1="525.20" x2="1099.90" y2="1220.60" stroke="#000000" stroke-width="2.80" stroke-dasharray="20.9 7.8" stroke-dashoffset="17.10"/>
<line x1="1102.70" y1="525.20" x2="1102.70" y2="1220.60" stroke="#f07038" stroke-width="2.50" stroke-dasharray="20.9 7.8" stroke-dashoffset="17.10"/>
<ellipse cx="831.2" cy="627.6" rx="8.6" ry="7.2" fill="#f07040"/>
<ellipse cx="1100.6" cy="587.4" rx="8.6" ry="7.2" fill="#f07040"/>
<line x1="1456.00" y1="898.00" x2="1987.80" y2="898.00" stroke="#5cc9c3" stroke-width="2.60" stroke-dasharray="20.3 8.45" stroke-dashoffset="0.00"/>
<line x1="1456.00" y1="1158.40" x2="1987.80" y2="1158.40" stroke="#a3aaa9" stroke-width="2.60" stroke-dasharray="20.3 8.45" stroke-dashoffset="0.00"/>
<g clip-path="url(#cF)">
<path d="M1455.0 1179.1L1457.4 1179.7L1459.9 1178.7L1462.3 1182.7L1464.7 1189.7L1467.2 1190.0L1469.6 1191.3L1472.0 1185.3L1474.5 1184.8L1476.9 1184.5L1479.3 1183.1L1481.8 1183.9L1484.2 1183.9L1486.6 1186.2L1489.0 1186.0L1491.5 1189.4L1493.9 1189.5L1496.3 1186.3L1498.8 1184.3L1501.2 1176.9L1503.6 1176.8L1506.1 1183.1L1508.5 1186.4L1510.9 1182.2L1513.4 1180.6L1515.8 1181.5L1518.2 1183.1L1520.7 1186.1L1523.1 1182.0L1525.5 1179.2L1528.0 1179.8L1530.4 1185.3L1532.8 1188.0L1535.3 1186.4L1537.7 1183.6L1540.1 1181.2L1542.6 1177.6L1545.0 1174.6L1547.4 1177.5L1549.9 1182.0L1552.3 1182.2L1554.7 1185.7L1557.1 1190.9L1559.6 1189.2L1562.0 1187.1L1564.4 1182.6L1566.9 1180.3L1569.3 1183.3L1571.7 1187.4L1574.2 1183.2L1576.6 1181.7L1579.0 1182.8L1581.5 1183.0L1583.9 1186.1L1586.3 1188.2L1588.8 1182.0L1591.2 1177.8L1593.6 1190.6L1596.1 1185.0L1598.5 1181.2L1600.9 1177.6L1603.4 1179.4L1605.8 1182.4L1608.2 1180.9L1610.7 1178.3L1613.1 1178.4L1615.5 1184.6L1617.9 1179.8L1620.4 1174.3L1622.8 1166.4L1625.2 1178.9L1627.7 1185.3L1630.1 1190.8L1632.5 1188.3L1635.0 1183.3L1637.4 1187.6L1639.8 1189.4L1642.3 1187.8L1644.7 1183.6L1647.1 1180.8L1649.6 1174.6L1652.0 1169.9L1654.4 1167.4L1656.9 1177.6L1659.3 1178.0L1661.7 1177.9L1664.2 1177.5L1666.6 1177.0L1669.0 1176.9L1671.5 1181.2L1673.9 1180.3L1676.3 1184.6L1678.8 1187.6L1681.2 1191.7L1683.6 1192.8L1686.0 1190.4L1688.5 1189.0L1690.9 1182.9L1693.3 1178.9L1695.8 1174.4L1698.2 1167.4L1700.6 1167.8L1703.1 1175.3L1705.5 1191.3L1707.9 1185.6L1710.4 1177.2L1712.8 1178.7L1715.2 1182.6L1717.7 1192.3L1720.1 1188.2L1722.5 1191.7L1725.0 1182.7L1727.4 1176.1L1729.8 1167.5L1732.3 1156.9L1734.0 1148.4L1737.2 1127.4L1740.0 1115.8L1741.9 1109.8L1744.2 1101.9L1747.0 1087.9L1750.2 1064.7L1752.6 1057.7L1754.0 1031.2L1756.3 1021.9L1759.5 1001.9L1761.4 991.2L1764.2 968.4L1766.0 958.6L1768.4 941.4L1771.2 919.5L1773.5 904.2L1776.3 889.3L1777.7 863.3L1780.5 853.0L1783.3 831.2L1786.0 815.3L1788.4 804.2L1790.2 783.3L1792.6 766.0L1794.9 747.0L1797.2 734.0L1800.5 704.2L1802.8 682.3L1805.1 669.3L1807.4 655.3L1810.2 633.0L1812.6 622.8L1815.3 607.9L1817.7 603.3L1819.5 585.6L1823.3 576.3L1827.0 578.0L1829.8 572.5L1834.0 578.0L1839.5 583.3L1843.3 592.6L1846.5 599.3L1850.0 605.3L1854.1 616.9L1856.1 625.5L1858.6 639.6L1861.2 655.7L1863.2 668.3L1866.7 684.9L1868.7 697.5L1870.7 716.2L1873.2 726.2L1875.3 745.4L1878.3 765.5L1880.3 781.7L1883.8 804.3L1885.8 830.5L1887.9 847.2L1890.9 874.9L1892.4 903.6L1895.9 929.3L1898.4 959.0L1900.5 989.7L1903.0 1022.0L1905.0 1056.2L1908.0 1091.5L1910.1 1122.9L1912.4 1160.9L1915.0 1188.0L1917.5 1154.3L1920.2 1122.9L1922.1 1090.0L1924.1 1048.7L1927.2 1016.9L1929.2 987.2L1931.7 950.4L1933.7 921.7L1935.7 891.5L1939.2 861.3L1941.8 838.1L1944.3 803.8L1946.3 784.2L1948.3 763.0L1951.3 737.3L1953.9 723.7L1955.9 707.6L1958.9 702.6L1961.4 690.0L1963.9 682.4L1965.9 665.8L1968.5 652.2L1970.5 643.1L1973.5 625.5L1975.5 617.9L1977.5 609.4L1982.1 606.9L1985.6 610.4L1988.0 612.0" fill="none" stroke="#b0c4c2" stroke-opacity="0.60" stroke-width="1.6" stroke-dasharray="5.5 3"/>
<g fill="#5dd0c9" fill-opacity="0.26" stroke="#55c8c1" stroke-opacity="0.50" stroke-width="1.3">
<ellipse cx="1455.0" cy="1179.1" rx="4.3" ry="3.8"/>
<ellipse cx="1457.4" cy="1179.7" rx="4.3" ry="3.8"/>
<ellipse cx="1459.9" cy="1178.7" rx="4.3" ry="3.8"/>
<ellipse cx="1462.3" cy="1182.7" rx="4.3" ry="3.8"/>
<ellipse cx="1464.7" cy="1189.7" rx="4.3" ry="3.8"/>
<ellipse cx="1467.2" cy="1190.0" rx="4.3" ry="3.8"/>
<ellipse cx="1469.6" cy="1191.3" rx="4.3" ry="3.8"/>
<ellipse cx="1472.0" cy="1185.3" rx="4.3" ry="3.8"/>
<ellipse cx="1474.5" cy="1184.8" rx="4.3" ry="3.8"/>
<ellipse cx="1476.9" cy="1184.5" rx="4.3" ry="3.8"/>
<ellipse cx="1479.3" cy="1183.1" rx="4.3" ry="3.8"/>
<ellipse cx="1481.8" cy="1183.9" rx="4.3" ry="3.8"/>
<ellipse cx="1484.2" cy="1183.9" rx="4.3" ry="3.8"/>
<ellipse cx="1486.6" cy="1186.2" rx="4.3" ry="3.8"/>
<ellipse cx="1489.0" cy="1186.0" rx="4.3" ry="3.8"/>
<ellipse cx="1491.5" cy="1189.4" rx="4.3" ry="3.8"/>
<ellipse cx="1493.9" cy="1189.5" rx="4.3" ry="3.8"/>
<ellipse cx="1496.3" cy="1186.3" rx="4.3" ry="3.8"/>
<ellipse cx="1498.8" cy="1184.3" rx="4.3" ry="3.8"/>
<ellipse cx="1501.2" cy="1176.9" rx="4.3" ry="3.8"/>
<ellipse cx="1503.6" cy="1176.8" rx="4.3" ry="3.8"/>
<ellipse cx="1506.1" cy="1183.1" rx="4.3" ry="3.8"/>
<ellipse cx="1508.5" cy="1186.4" rx="4.3" ry="3.8"/>
<ellipse cx="1510.9" cy="1182.2" rx="4.3" ry="3.8"/>
<ellipse cx="1513.4" cy="1180.6" rx="4.3" ry="3.8"/>
<ellipse cx="1515.8" cy="1181.5" rx="4.3" ry="3.8"/>
<ellipse cx="1518.2" cy="1183.1" rx="4.3" ry="3.8"/>
<ellipse cx="1520.7" cy="1186.1" rx="4.3" ry="3.8"/>
<ellipse cx="1523.1" cy="1182.0" rx="4.3" ry="3.8"/>
<ellipse cx="1525.5" cy="1179.2" rx="4.3" ry="3.8"/>
<ellipse cx="1528.0" cy="1179.8" rx="4.3" ry="3.8"/>
<ellipse cx="1530.4" cy="1185.3" rx="4.3" ry="3.8"/>
<ellipse cx="1532.8" cy="1188.0" rx="4.3" ry="3.8"/>
<ellipse cx="1535.3" cy="1186.4" rx="4.3" ry="3.8"/>
<ellipse cx="1537.7" cy="1183.6" rx="4.3" ry="3.8"/>
<ellipse cx="1540.1" cy="1181.2" rx="4.3" ry="3.8"/>
<ellipse cx="1542.6" cy="1177.6" rx="4.3" ry="3.8"/>
<ellipse cx="1545.0" cy="1174.6" rx="4.3" ry="3.8"/>
<ellipse cx="1547.4" cy="1177.5" rx="4.3" ry="3.8"/>
<ellipse cx="1549.9" cy="1182.0" rx="4.3" ry="3.8"/>
<ellipse cx="1552.3" cy="1182.2" rx="4.3" ry="3.8"/>
<ellipse cx="1554.7" cy="1185.7" rx="4.3" ry="3.8"/>
<ellipse cx="1557.1" cy="1190.9" rx="4.3" ry="3.8"/>
<ellipse cx="1559.6" cy="1189.2" rx="4.3" ry="3.8"/>
<ellipse cx="1562.0" cy="1187.1" rx="4.3" ry="3.8"/>
<ellipse cx="1564.4" cy="1182.6" rx="4.3" ry="3.8"/>
<ellipse cx="1566.9" cy="1180.3" rx="4.3" ry="3.8"/>
<ellipse cx="1569.3" cy="1183.3" rx="4.3" ry="3.8"/>
<ellipse cx="1571.7" cy="1187.4" rx="4.3" ry="3.8"/>
<ellipse cx="1574.2" cy="1183.2" rx="4.3" ry="3.8"/>
<ellipse cx="1576.6" cy="1181.7" rx="4.3" ry="3.8"/>
<ellipse cx="1579.0" cy="1182.8" rx="4.3" ry="3.8"/>
<ellipse cx="1581.5" cy="1183.0" rx="4.3" ry="3.8"/>
<ellipse cx="1583.9" cy="1186.1" rx="4.3" ry="3.8"/>
<ellipse cx="1586.3" cy="1188.2" rx="4.3" ry="3.8"/>
<ellipse cx="1588.8" cy="1182.0" rx="4.3" ry="3.8"/>
<ellipse cx="1591.2" cy="1177.8" rx="4.3" ry="3.8"/>
<ellipse cx="1593.6" cy="1190.6" rx="4.3" ry="3.8"/>
<ellipse cx="1596.1" cy="1185.0" rx="4.3" ry="3.8"/>
<ellipse cx="1598.5" cy="1181.2" rx="4.3" ry="3.8"/>
<ellipse cx="1600.9" cy="1177.6" rx="4.3" ry="3.8"/>
<ellipse cx="1603.4" cy="1179.4" rx="4.3" ry="3.8"/>
<ellipse cx="1605.8" cy="1182.4" rx="4.3" ry="3.8"/>
<ellipse cx="1608.2" cy="1180.9" rx="4.3" ry="3.8"/>
<ellipse cx="1610.7" cy="1178.3" rx="4.3" ry="3.8"/>
<ellipse cx="1613.1" cy="1178.4" rx="4.3" ry="3.8"/>
<ellipse cx="1615.5" cy="1184.6" rx="4.3" ry="3.8"/>
<ellipse cx="1617.9" cy="1179.8" rx="4.3" ry="3.8"/>
<ellipse cx="1620.4" cy="1174.3" rx="4.3" ry="3.8"/>
<ellipse cx="1622.8" cy="1166.4" rx="4.3" ry="3.8"/>
<ellipse cx="1625.2" cy="1178.9" rx="4.3" ry="3.8"/>
<ellipse cx="1627.7" cy="1185.3" rx="4.3" ry="3.8"/>
<ellipse cx="1630.1" cy="1190.8" rx="4.3" ry="3.8"/>
<ellipse cx="1632.5" cy="1188.3" rx="4.3" ry="3.8"/>
<ellipse cx="1635.0" cy="1183.3" rx="4.3" ry="3.8"/>
<ellipse cx="1637.4" cy="1187.6" rx="4.3" ry="3.8"/>
<ellipse cx="1639.8" cy="1189.4" rx="4.3" ry="3.8"/>
<ellipse cx="1642.3" cy="1187.8" rx="4.3" ry="3.8"/>
<ellipse cx="1644.7" cy="1183.6" rx="4.3" ry="3.8"/>
<ellipse cx="1647.1" cy="1180.8" rx="4.3" ry="3.8"/>
<ellipse cx="1649.6" cy="1174.6" rx="4.3" ry="3.8"/>
<ellipse cx="1652.0" cy="1169.9" rx="4.3" ry="3.8"/>
<ellipse cx="1654.4" cy="1167.4" rx="4.3" ry="3.8"/>
<ellipse cx="1656.9" cy="1177.6" rx="4.3" ry="3.8"/>
<ellipse cx="1659.3" cy="1178.0" rx="4.3" ry="3.8"/>
<ellipse cx="1661.7" cy="1177.9" rx="4.3" ry="3.8"/>
<ellipse cx="1664.2" cy="1177.5" rx="4.3" ry="3.8"/>
<ellipse cx="1666.6" cy="1177.0" rx="4.3" ry="3.8"/>
<ellipse cx="1669.0" cy="1176.9" rx="4.3" ry="3.8"/>
<ellipse cx="1671.5" cy="1181.2" rx="4.3" ry="3.8"/>
<ellipse cx="1673.9" cy="1180.3" rx="4.3" ry="3.8"/>
<ellipse cx="1676.3" cy="1184.6" rx="4.3" ry="3.8"/>
<ellipse cx="1678.8" cy="1187.6" rx="4.3" ry="3.8"/>
<ellipse cx="1681.2" cy="1191.7" rx="4.3" ry="3.8"/>
<ellipse cx="1683.6" cy="1192.8" rx="4.3" ry="3.8"/>
<ellipse cx="1686.0" cy="1190.4" rx="4.3" ry="3.8"/>
<ellipse cx="1688.5" cy="1189.0" rx="4.3" ry="3.8"/>
<ellipse cx="1690.9" cy="1182.9" rx="4.3" ry="3.8"/>
<ellipse cx="1693.3" cy="1178.9" rx="4.3" ry="3.8"/>
<ellipse cx="1695.8" cy="1174.4" rx="4.3" ry="3.8"/>
<ellipse cx="1698.2" cy="1167.4" rx="4.3" ry="3.8"/>
<ellipse cx="1700.6" cy="1167.8" rx="4.3" ry="3.8"/>
<ellipse cx="1703.1" cy="1175.3" rx="4.3" ry="3.8"/>
<ellipse cx="1705.5" cy="1191.3" rx="4.3" ry="3.8"/>
<ellipse cx="1707.9" cy="1185.6" rx="4.3" ry="3.8"/>
<ellipse cx="1710.4" cy="1177.2" rx="4.3" ry="3.8"/>
<ellipse cx="1712.8" cy="1178.7" rx="4.3" ry="3.8"/>
<ellipse cx="1715.2" cy="1182.6" rx="4.3" ry="3.8"/>
<ellipse cx="1717.7" cy="1192.3" rx="4.3" ry="3.8"/>
<ellipse cx="1720.1" cy="1188.2" rx="4.3" ry="3.8"/>
<ellipse cx="1722.5" cy="1191.7" rx="4.3" ry="3.8"/>
<ellipse cx="1725.0" cy="1182.7" rx="4.3" ry="3.8"/>
<ellipse cx="1727.4" cy="1176.1" rx="4.3" ry="3.8"/>
<ellipse cx="1729.8" cy="1167.5" rx="4.3" ry="3.8"/>
<ellipse cx="1732.3" cy="1156.9" rx="4.3" ry="3.8"/>
<ellipse cx="1734.0" cy="1148.4" rx="4.3" ry="3.8"/>
<ellipse cx="1737.2" cy="1127.4" rx="4.3" ry="3.8"/>
<ellipse cx="1740.0" cy="1115.8" rx="4.3" ry="3.8"/>
<ellipse cx="1741.9" cy="1109.8" rx="4.3" ry="3.8"/>
<ellipse cx="1744.2" cy="1101.9" rx="4.3" ry="3.8"/>
<ellipse cx="1747.0" cy="1087.9" rx="4.3" ry="3.8"/>
<ellipse cx="1750.2" cy="1064.7" rx="4.3" ry="3.8"/>
<ellipse cx="1752.6" cy="1057.7" rx="4.3" ry="3.8"/>
<ellipse cx="1754.0" cy="1031.2" rx="4.3" ry="3.8"/>
<ellipse cx="1756.3" cy="1021.9" rx="4.3" ry="3.8"/>
<ellipse cx="1759.5" cy="1001.9" rx="4.3" ry="3.8"/>
<ellipse cx="1761.4" cy="991.2" rx="4.3" ry="3.8"/>
<ellipse cx="1764.2" cy="968.4" rx="4.3" ry="3.8"/>
<ellipse cx="1766.0" cy="958.6" rx="4.3" ry="3.8"/>
<ellipse cx="1768.4" cy="941.4" rx="4.3" ry="3.8"/>
<ellipse cx="1771.2" cy="919.5" rx="4.3" ry="3.8"/>
<ellipse cx="1773.5" cy="904.2" rx="4.3" ry="3.8"/>
<ellipse cx="1776.3" cy="889.3" rx="4.3" ry="3.8"/>
<ellipse cx="1777.7" cy="863.3" rx="4.3" ry="3.8"/>
<ellipse cx="1780.5" cy="853.0" rx="4.3" ry="3.8"/>
<ellipse cx="1783.3" cy="831.2" rx="4.3" ry="3.8"/>
<ellipse cx="1786.0" cy="815.3" rx="4.3" ry="3.8"/>
<ellipse cx="1788.4" cy="804.2" rx="4.3" ry="3.8"/>
<ellipse cx="1790.2" cy="783.3" rx="4.3" ry="3.8"/>
<ellipse cx="1792.6" cy="766.0" rx="4.3" ry="3.8"/>
<ellipse cx="1794.9" cy="747.0" rx="4.3" ry="3.8"/>
<ellipse cx="1797.2" cy="734.0" rx="4.3" ry="3.8"/>
<ellipse cx="1800.5" cy="704.2" rx="4.3" ry="3.8"/>
<ellipse cx="1802.8" cy="682.3" rx="4.3" ry="3.8"/>
<ellipse cx="1805.1" cy="669.3" rx="4.3" ry="3.8"/>
<ellipse cx="1807.4" cy="655.3" rx="4.3" ry="3.8"/>
<ellipse cx="1810.2" cy="633.0" rx="4.3" ry="3.8"/>
<ellipse cx="1812.6" cy="622.8" rx="4.3" ry="3.8"/>
<ellipse cx="1815.3" cy="607.9" rx="4.3" ry="3.8"/>
<ellipse cx="1817.7" cy="603.3" rx="4.3" ry="3.8"/>
<ellipse cx="1819.5" cy="585.6" rx="4.3" ry="3.8"/>
<ellipse cx="1823.3" cy="576.3" rx="4.3" ry="3.8"/>
<ellipse cx="1827.0" cy="578.0" rx="4.3" ry="3.8"/>
<ellipse cx="1829.8" cy="572.5" rx="4.3" ry="3.8"/>
<ellipse cx="1834.0" cy="578.0" rx="4.3" ry="3.8"/>
<ellipse cx="1839.5" cy="583.3" rx="4.3" ry="3.8"/>
<ellipse cx="1843.3" cy="592.6" rx="4.3" ry="3.8"/>
<ellipse cx="1846.5" cy="599.3" rx="4.3" ry="3.8"/>
<ellipse cx="1850.0" cy="605.3" rx="4.3" ry="3.8"/>
<ellipse cx="1854.1" cy="616.9" rx="4.3" ry="3.8"/>
<ellipse cx="1856.1" cy="625.5" rx="4.3" ry="3.8"/>
<ellipse cx="1858.6" cy="639.6" rx="4.3" ry="3.8"/>
<ellipse cx="1861.2" cy="655.7" rx="4.3" ry="3.8"/>
<ellipse cx="1863.2" cy="668.3" rx="4.3" ry="3.8"/>
<ellipse cx="1866.7" cy="684.9" rx="4.3" ry="3.8"/>
<ellipse cx="1868.7" cy="697.5" rx="4.3" ry="3.8"/>
<ellipse cx="1870.7" cy="716.2" rx="4.3" ry="3.8"/>
<ellipse cx="1873.2" cy="726.2" rx="4.3" ry="3.8"/>
<ellipse cx="1875.3" cy="745.4" rx="4.3" ry="3.8"/>
<ellipse cx="1878.3" cy="765.5" rx="4.3" ry="3.8"/>
<ellipse cx="1880.3" cy="781.7" rx="4.3" ry="3.8"/>
<ellipse cx="1883.8" cy="804.3" rx="4.3" ry="3.8"/>
<ellipse cx="1885.8" cy="830.5" rx="4.3" ry="3.8"/>
<ellipse cx="1887.9" cy="847.2" rx="4.3" ry="3.8"/>
<ellipse cx="1890.9" cy="874.9" rx="4.3" ry="3.8"/>
<ellipse cx="1892.4" cy="903.6" rx="4.3" ry="3.8"/>
<ellipse cx="1895.9" cy="929.3" rx="4.3" ry="3.8"/>
<ellipse cx="1898.4" cy="959.0" rx="4.3" ry="3.8"/>
<ellipse cx="1900.5" cy="989.7" rx="4.3" ry="3.8"/>
<ellipse cx="1903.0" cy="1022.0" rx="4.3" ry="3.8"/>
<ellipse cx="1905.0" cy="1056.2" rx="4.3" ry="3.8"/>
<ellipse cx="1908.0" cy="1091.5" rx="4.3" ry="3.8"/>
<ellipse cx="1910.1" cy="1122.9" rx="4.3" ry="3.8"/>
<ellipse cx="1912.4" cy="1160.9" rx="4.3" ry="3.8"/>
<ellipse cx="1915.0" cy="1188.0" rx="4.3" ry="3.8"/>
<ellipse cx="1917.5" cy="1154.3" rx="4.3" ry="3.8"/>
<ellipse cx="1920.2" cy="1122.9" rx="4.3" ry="3.8"/>
<ellipse cx="1922.1" cy="1090.0" rx="4.3" ry="3.8"/>
<ellipse cx="1924.1" cy="1048.7" rx="4.3" ry="3.8"/>
<ellipse cx="1927.2" cy="1016.9" rx="4.3" ry="3.8"/>
<ellipse cx="1929.2" cy="987.2" rx="4.3" ry="3.8"/>
<ellipse cx="1931.7" cy="950.4" rx="4.3" ry="3.8"/>
<ellipse cx="1933.7" cy="921.7" rx="4.3" ry="3.8"/>
<ellipse cx="1935.7" cy="891.5" rx="4.3" ry="3.8"/>
<ellipse cx="1939.2" cy="861.3" rx="4.3" ry="3.8"/>
<ellipse cx="1941.8" cy="838.1" rx="4.3" ry="3.8"/>
<ellipse cx="1944.3" cy="803.8" rx="4.3" ry="3.8"/>
<ellipse cx="1946.3" cy="784.2" rx="4.3" ry="3.8"/>
<ellipse cx="1948.3" cy="763.0" rx="4.3" ry="3.8"/>
<ellipse cx="1951.3" cy="737.3" rx="4.3" ry="3.8"/>
<ellipse cx="1953.9" cy="723.7" rx="4.3" ry="3.8"/>
<ellipse cx="1955.9" cy="707.6" rx="4.3" ry="3.8"/>
<ellipse cx="1958.9" cy="702.6" rx="4.3" ry="3.8"/>
<ellipse cx="1961.4" cy="690.0" rx="4.3" ry="3.8"/>
<ellipse cx="1963.9" cy="682.4" rx="4.3" ry="3.8"/>
<ellipse cx="1965.9" cy="665.8" rx="4.3" ry="3.8"/>
<ellipse cx="1968.5" cy="652.2" rx="4.3" ry="3.8"/>
<ellipse cx="1970.5" cy="643.1" rx="4.3" ry="3.8"/>
<ellipse cx="1973.5" cy="625.5" rx="4.3" ry="3.8"/>
<ellipse cx="1975.5" cy="617.9" rx="4.3" ry="3.8"/>
<ellipse cx="1977.5" cy="609.4" rx="4.3" ry="3.8"/>
<ellipse cx="1982.1" cy="606.9" rx="4.3" ry="3.8"/>
<ellipse cx="1985.6" cy="610.4" rx="4.3" ry="3.8"/>
<ellipse cx="1988.0" cy="612.0" rx="4.3" ry="3.8"/>
</g></g>
<line x1="1829.90" y1="524.80" x2="1829.90" y2="1219.40" stroke="#000000" stroke-width="2.80" stroke-dasharray="20.9 7.8" stroke-dashoffset="17.40"/>
<line x1="1833.80" y1="524.80" x2="1833.80" y2="1219.40" stroke="#4fc4be" stroke-width="2.00" stroke-dasharray="20.9 7.8" stroke-dashoffset="17.40"/>
<ellipse cx="1829.9" cy="572.1" rx="8.2" ry="7.0" fill="#5cc8c2"/>
<rect x="102.40" y="59.50" width="542.00" height="364.90" fill="none" stroke="#222222" stroke-width="1.35"/>
<rect x="778.30" y="59.50" width="541.20" height="364.50" fill="none" stroke="#222222" stroke-width="1.35"/>
<rect x="1446.00" y="59.50" width="540.40" height="364.80" fill="none" stroke="#222222" stroke-width="1.35"/>
<line x1="644.90" y1="526.30" x2="644.90" y2="1218.60" stroke="#fcfce6" stroke-width="1.6"/>
<line x1="106.10" y1="1218.10" x2="645.70" y2="1218.10" stroke="#fcfce6" stroke-width="1.2"/>
<line x1="1318.70" y1="526.20" x2="1318.70" y2="1219.80" stroke="#fdf2ea" stroke-width="1.6"/>
<line x1="784.40" y1="1219.30" x2="1319.50" y2="1219.30" stroke="#fdf2ea" stroke-width="1.2"/>
<line x1="1987.00" y1="525.80" x2="1987.00" y2="1218.60" stroke="#c4f7f3" stroke-width="1.6"/>
<line x1="1456.00" y1="1218.10" x2="1987.80" y2="1218.10" stroke="#c4f7f3" stroke-width="1.2"/>
<rect x="105.10" y="525.30" width="541.40" height="694.10" fill="none" stroke="#222222" stroke-width="1.50"/>
<rect x="783.40" y="525.20" width="536.90" height="695.40" fill="none" stroke="#222222" stroke-width="1.50"/>
<rect x="1455.00" y="524.80" width="533.60" height="694.60" fill="none" stroke="#222222" stroke-width="1.50"/>
<line x1="1320.30" y1="525.20" x2="1320.30" y2="1220.60" stroke="#4a2418" stroke-width="1.5"/>
<line x1="1988.60" y1="524.80" x2="1988.60" y2="1218.40" stroke="#2d6b67" stroke-width="1.6"/>
<line x1="99.00" y1="424.40" x2="102.40" y2="424.40" stroke="#222222" stroke-width="1.30"/>
<text class="tk" transform="translate(94.80 432.71) scale(0.970 1)" font-size="23.20" text-anchor="end">0.2</text>
<line x1="99.00" y1="333.18" x2="102.40" y2="333.18" stroke="#222222" stroke-width="1.30"/>
<text class="tk" transform="translate(94.80 341.48) scale(0.970 1)" font-size="23.20" text-anchor="end">0.3</text>
<line x1="99.00" y1="241.95" x2="102.40" y2="241.95" stroke="#222222" stroke-width="1.30"/>
<text class="tk" transform="translate(94.80 250.26) scale(0.970 1)" font-size="23.20" text-anchor="end">0.4</text>
<line x1="99.00" y1="150.73" x2="102.40" y2="150.73" stroke="#222222" stroke-width="1.30"/>
<text class="tk" transform="translate(94.80 159.03) scale(0.970 1)" font-size="23.20" text-anchor="end">0.5</text>
<line x1="99.00" y1="59.50" x2="102.40" y2="59.50" stroke="#222222" stroke-width="1.30"/>
<text class="tk" transform="translate(94.80 67.81) scale(0.970 1)" font-size="23.20" text-anchor="end">0.6</text>
<line x1="102.40" y1="424.40" x2="102.40" y2="427.80" stroke="#222222" stroke-width="1.30"/>
<text class="tk" transform="translate(103.50 449.00) scale(0.970 1)" font-size="23.20" text-anchor="middle">0</text>
<line x1="210.80" y1="424.40" x2="210.80" y2="427.80" stroke="#222222" stroke-width="1.30"/>
<text class="tk" transform="translate(210.66 449.00) scale(0.970 1)" font-size="23.20" text-anchor="middle">0.1</text>
<line x1="319.20" y1="424.40" x2="319.20" y2="427.80" stroke="#222222" stroke-width="1.30"/>
<text class="tk" transform="translate(317.83 449.00) scale(0.970 1)" font-size="23.20" text-anchor="middle">0.2</text>
<line x1="427.60" y1="424.40" x2="427.60" y2="427.80" stroke="#222222" stroke-width="1.30"/>
<text class="tk" transform="translate(424.99 449.00) scale(0.970 1)" font-size="23.20" text-anchor="middle">0.3</text>
<line x1="536.00" y1="424.40" x2="536.00" y2="427.80" stroke="#222222" stroke-width="1.30"/>
<text class="tk" transform="translate(532.16 449.00) scale(0.970 1)" font-size="23.20" text-anchor="middle">0.4</text>
<text class="tk" transform="translate(639.32 449.00) scale(0.970 1)" font-size="23.20" text-anchor="middle">0.5</text>
<line x1="774.90" y1="387.55" x2="778.30" y2="387.55" stroke="#222222" stroke-width="1.30"/>
<text class="tk" transform="translate(770.70 395.86) scale(0.970 1)" font-size="23.20" text-anchor="end">−0.04</text>
<line x1="774.90" y1="314.65" x2="778.30" y2="314.65" stroke="#222222" stroke-width="1.30"/>
<text class="tk" transform="translate(770.70 322.96) scale(0.970 1)" font-size="23.20" text-anchor="end">−0.02</text>
<line x1="774.90" y1="241.75" x2="778.30" y2="241.75" stroke="#222222" stroke-width="1.30"/>
<text class="tk" transform="translate(770.70 250.06) scale(0.970 1)" font-size="23.20" text-anchor="end">0.00</text>
<line x1="774.90" y1="168.85" x2="778.30" y2="168.85" stroke="#222222" stroke-width="1.30"/>
<text class="tk" transform="translate(770.70 177.16) scale(0.970 1)" font-size="23.20" text-anchor="end">0.02</text>
<line x1="774.90" y1="95.95" x2="778.30" y2="95.95" stroke="#222222" stroke-width="1.30"/>
<text class="tk" transform="translate(770.70 104.26) scale(0.970 1)" font-size="23.20" text-anchor="end">0.04</text>
<line x1="778.30" y1="424.00" x2="778.30" y2="427.40" stroke="#222222" stroke-width="1.30"/>
<text class="tk" transform="translate(776.00 448.60) scale(0.970 1)" font-size="23.20" text-anchor="middle">0</text>
<line x1="886.54" y1="424.00" x2="886.54" y2="427.40" stroke="#222222" stroke-width="1.30"/>
<text class="tk" transform="translate(883.14 448.60) scale(0.970 1)" font-size="23.20" text-anchor="middle">0.1</text>
<line x1="994.78" y1="424.00" x2="994.78" y2="427.40" stroke="#222222" stroke-width="1.30"/>
<text class="tk" transform="translate(990.27 448.60) scale(0.970 1)" font-size="23.20" text-anchor="middle">0.2</text>
<line x1="1103.02" y1="424.00" x2="1103.02" y2="427.40" stroke="#222222" stroke-width="1.30"/>
<text class="tk" transform="translate(1097.41 448.60) scale(0.970 1)" font-size="23.20" text-anchor="middle">0.3</text>
<line x1="1211.26" y1="424.00" x2="1211.26" y2="427.40" stroke="#222222" stroke-width="1.30"/>
<text class="tk" transform="translate(1204.54 448.60) scale(0.970 1)" font-size="23.20" text-anchor="middle">0.4</text>
<text class="tk" transform="translate(1311.68 448.60) scale(0.970 1)" font-size="23.20" text-anchor="middle">0.5</text>
<line x1="1442.60" y1="412.08" x2="1446.00" y2="412.08" stroke="#222222" stroke-width="1.30"/>
<text class="tk" transform="translate(1438.40 420.38) scale(0.970 1)" font-size="23.20" text-anchor="end">0.00</text>
<line x1="1442.60" y1="349.07" x2="1446.00" y2="349.07" stroke="#222222" stroke-width="1.30"/>
<text class="tk" transform="translate(1438.40 357.38) scale(0.970 1)" font-size="23.20" text-anchor="end">0.05</text>
<line x1="1442.60" y1="286.07" x2="1446.00" y2="286.07" stroke="#222222" stroke-width="1.30"/>
<text class="tk" transform="translate(1438.40 294.37) scale(0.970 1)" font-size="23.20" text-anchor="end">0.10</text>
<line x1="1442.60" y1="223.06" x2="1446.00" y2="223.06" stroke="#222222" stroke-width="1.30"/>
<text class="tk" transform="translate(1438.40 231.37) scale(0.970 1)" font-size="23.20" text-anchor="end">0.15</text>
<line x1="1442.60" y1="160.06" x2="1446.00" y2="160.06" stroke="#222222" stroke-width="1.30"/>
<text class="tk" transform="translate(1438.40 168.36) scale(0.970 1)" font-size="23.20" text-anchor="end">0.20</text>
<line x1="1442.60" y1="97.05" x2="1446.00" y2="97.05" stroke="#222222" stroke-width="1.30"/>
<text class="tk" transform="translate(1438.40 105.36) scale(0.970 1)" font-size="23.20" text-anchor="end">0.25</text>
<line x1="1446.00" y1="424.30" x2="1446.00" y2="427.70" stroke="#222222" stroke-width="1.30"/>
<text class="tk" transform="translate(1447.80 448.90) scale(0.970 1)" font-size="23.20" text-anchor="middle">0</text>
<line x1="1554.08" y1="424.30" x2="1554.08" y2="427.70" stroke="#222222" stroke-width="1.30"/>
<text class="tk" transform="translate(1554.32 448.90) scale(0.970 1)" font-size="23.20" text-anchor="middle">0.1</text>
<line x1="1662.16" y1="424.30" x2="1662.16" y2="427.70" stroke="#222222" stroke-width="1.30"/>
<text class="tk" transform="translate(1660.85 448.90) scale(0.970 1)" font-size="23.20" text-anchor="middle">0.2</text>
<line x1="1770.24" y1="424.30" x2="1770.24" y2="427.70" stroke="#222222" stroke-width="1.30"/>
<text class="tk" transform="translate(1767.37 448.90) scale(0.970 1)" font-size="23.20" text-anchor="middle">0.3</text>
<line x1="1878.32" y1="424.30" x2="1878.32" y2="427.70" stroke="#222222" stroke-width="1.30"/>
<text class="tk" transform="translate(1873.89 448.90) scale(0.970 1)" font-size="23.20" text-anchor="middle">0.4</text>
<text class="tk" transform="translate(1980.42 448.90) scale(0.970 1)" font-size="23.20" text-anchor="middle">0.5</text>
<line x1="100.50" y1="1219.40" x2="105.10" y2="1219.40" stroke="#222222" stroke-width="1.30"/>
<text class="tk" transform="translate(93.50 1225.83) scale(1.090 1)" font-size="20.20" text-anchor="end">0.25</text>
<line x1="100.50" y1="1080.58" x2="105.10" y2="1080.58" stroke="#222222" stroke-width="1.30"/>
<text class="tk" transform="translate(93.50 1087.01) scale(1.090 1)" font-size="20.20" text-anchor="end">0.30</text>
<line x1="100.50" y1="941.76" x2="105.10" y2="941.76" stroke="#222222" stroke-width="1.30"/>
<text class="tk" transform="translate(93.50 948.19) scale(1.090 1)" font-size="20.20" text-anchor="end">0.35</text>
<line x1="100.50" y1="802.94" x2="105.10" y2="802.94" stroke="#222222" stroke-width="1.30"/>
<text class="tk" transform="translate(93.50 809.37) scale(1.090 1)" font-size="20.20" text-anchor="end">0.40</text>
<line x1="100.50" y1="664.12" x2="105.10" y2="664.12" stroke="#222222" stroke-width="1.30"/>
<text class="tk" transform="translate(93.50 670.55) scale(1.090 1)" font-size="20.20" text-anchor="end">0.45</text>
<line x1="100.50" y1="525.30" x2="105.10" y2="525.30" stroke="#222222" stroke-width="1.30"/>
<text class="tk" transform="translate(93.50 531.73) scale(1.090 1)" font-size="20.20" text-anchor="end">0.50</text>
<line x1="105.10" y1="1219.40" x2="105.10" y2="1223.80" stroke="#222222" stroke-width="1.30"/>
<text class="tk" transform="translate(105.10 1242.70) scale(1.090 1)" font-size="20.20" text-anchor="middle">0</text>
<line x1="228.59" y1="1219.40" x2="228.59" y2="1223.80" stroke="#222222" stroke-width="1.30"/>
<text class="tk" transform="translate(228.59 1242.70) scale(1.090 1)" font-size="20.20" text-anchor="middle">50</text>
<line x1="352.09" y1="1219.40" x2="352.09" y2="1223.80" stroke="#222222" stroke-width="1.30"/>
<text class="tk" transform="translate(352.09 1242.70) scale(1.090 1)" font-size="20.20" text-anchor="middle">100</text>
<line x1="475.58" y1="1219.40" x2="475.58" y2="1223.80" stroke="#222222" stroke-width="1.30"/>
<text class="tk" transform="translate(475.58 1242.70) scale(1.090 1)" font-size="20.20" text-anchor="middle">150</text>
<line x1="599.08" y1="1219.40" x2="599.08" y2="1223.80" stroke="#222222" stroke-width="1.30"/>
<text class="tk" transform="translate(599.08 1242.70) scale(1.090 1)" font-size="20.20" text-anchor="middle">200</text>
<line x1="778.80" y1="1220.60" x2="783.40" y2="1220.60" stroke="#222222" stroke-width="1.30"/>
<text class="tk" transform="translate(771.80 1227.03) scale(1.090 1)" font-size="20.20" text-anchor="end">−0.008</text>
<line x1="778.80" y1="1133.67" x2="783.40" y2="1133.67" stroke="#222222" stroke-width="1.30"/>
<text class="tk" transform="translate(771.80 1140.11) scale(1.090 1)" font-size="20.20" text-anchor="end">−0.006</text>
<line x1="778.80" y1="1046.75" x2="783.40" y2="1046.75" stroke="#222222" stroke-width="1.30"/>
<text class="tk" transform="translate(771.80 1053.18) scale(1.090 1)" font-size="20.20" text-anchor="end">−0.004</text>
<line x1="778.80" y1="959.82" x2="783.40" y2="959.82" stroke="#222222" stroke-width="1.30"/>
<text class="tk" transform="translate(771.80 966.26) scale(1.090 1)" font-size="20.20" text-anchor="end">−0.002</text>
<line x1="778.80" y1="872.90" x2="783.40" y2="872.90" stroke="#222222" stroke-width="1.30"/>
<text class="tk" transform="translate(771.80 879.33) scale(1.090 1)" font-size="20.20" text-anchor="end">0.000</text>
<line x1="778.80" y1="785.98" x2="783.40" y2="785.98" stroke="#222222" stroke-width="1.30"/>
<text class="tk" transform="translate(771.80 792.41) scale(1.090 1)" font-size="20.20" text-anchor="end">0.002</text>
<line x1="778.80" y1="699.05" x2="783.40" y2="699.05" stroke="#222222" stroke-width="1.30"/>
<text class="tk" transform="translate(771.80 705.48) scale(1.090 1)" font-size="20.20" text-anchor="end">0.004</text>
<line x1="778.80" y1="612.12" x2="783.40" y2="612.12" stroke="#222222" stroke-width="1.30"/>
<text class="tk" transform="translate(771.80 618.56) scale(1.090 1)" font-size="20.20" text-anchor="end">0.006</text>
<line x1="778.80" y1="525.20" x2="783.40" y2="525.20" stroke="#222222" stroke-width="1.30"/>
<text class="tk" transform="translate(771.80 531.63) scale(1.090 1)" font-size="20.20" text-anchor="end">0.008</text>
<line x1="783.40" y1="1220.60" x2="783.40" y2="1225.00" stroke="#222222" stroke-width="1.30"/>
<text class="tk" transform="translate(783.40 1243.90) scale(1.090 1)" font-size="20.20" text-anchor="middle">0</text>
<line x1="905.87" y1="1220.60" x2="905.87" y2="1225.00" stroke="#222222" stroke-width="1.30"/>
<text class="tk" transform="translate(905.87 1243.90) scale(1.090 1)" font-size="20.20" text-anchor="middle">50</text>
<line x1="1028.34" y1="1220.60" x2="1028.34" y2="1225.00" stroke="#222222" stroke-width="1.30"/>
<text class="tk" transform="translate(1028.34 1243.90) scale(1.090 1)" font-size="20.20" text-anchor="middle">100</text>
<line x1="1150.80" y1="1220.60" x2="1150.80" y2="1225.00" stroke="#222222" stroke-width="1.30"/>
<text class="tk" transform="translate(1150.80 1243.90) scale(1.090 1)" font-size="20.20" text-anchor="middle">150</text>
<line x1="1273.27" y1="1220.60" x2="1273.27" y2="1225.00" stroke="#222222" stroke-width="1.30"/>
<text class="tk" transform="translate(1273.27 1243.90) scale(1.090 1)" font-size="20.20" text-anchor="middle">200</text>
<line x1="1450.40" y1="1192.40" x2="1455.00" y2="1192.40" stroke="#222222" stroke-width="1.30"/>
<text class="tk" transform="translate(1443.40 1198.83) scale(1.090 1)" font-size="20.20" text-anchor="end">0.000</text>
<line x1="1450.40" y1="1108.95" x2="1455.00" y2="1108.95" stroke="#222222" stroke-width="1.30"/>
<text class="tk" transform="translate(1443.40 1115.38) scale(1.090 1)" font-size="20.20" text-anchor="end">0.025</text>
<line x1="1450.40" y1="1025.50" x2="1455.00" y2="1025.50" stroke="#222222" stroke-width="1.30"/>
<text class="tk" transform="translate(1443.40 1031.93) scale(1.090 1)" font-size="20.20" text-anchor="end">0.050</text>
<line x1="1450.40" y1="942.05" x2="1455.00" y2="942.05" stroke="#222222" stroke-width="1.30"/>
<text class="tk" transform="translate(1443.40 948.48) scale(1.090 1)" font-size="20.20" text-anchor="end">0.075</text>
<line x1="1450.40" y1="858.60" x2="1455.00" y2="858.60" stroke="#222222" stroke-width="1.30"/>
<text class="tk" transform="translate(1443.40 865.03) scale(1.090 1)" font-size="20.20" text-anchor="end">0.100</text>
<line x1="1450.40" y1="775.15" x2="1455.00" y2="775.15" stroke="#222222" stroke-width="1.30"/>
<text class="tk" transform="translate(1443.40 781.58) scale(1.090 1)" font-size="20.20" text-anchor="end">0.125</text>
<line x1="1450.40" y1="691.70" x2="1455.00" y2="691.70" stroke="#222222" stroke-width="1.30"/>
<text class="tk" transform="translate(1443.40 698.13) scale(1.090 1)" font-size="20.20" text-anchor="end">0.150</text>
<line x1="1450.40" y1="608.25" x2="1455.00" y2="608.25" stroke="#222222" stroke-width="1.30"/>
<text class="tk" transform="translate(1443.40 614.68) scale(1.090 1)" font-size="20.20" text-anchor="end">0.175</text>
<line x1="1450.40" y1="524.80" x2="1455.00" y2="524.80" stroke="#222222" stroke-width="1.30"/>
<text class="tk" transform="translate(1443.40 531.23) scale(1.090 1)" font-size="20.20" text-anchor="end">0.200</text>
<line x1="1455.00" y1="1219.40" x2="1455.00" y2="1223.80" stroke="#222222" stroke-width="1.30"/>
<text class="tk" transform="translate(1455.00 1242.70) scale(1.090 1)" font-size="20.20" text-anchor="middle">0</text>
<line x1="1576.60" y1="1219.40" x2="1576.60" y2="1223.80" stroke="#222222" stroke-width="1.30"/>
<text class="tk" transform="translate(1576.60 1242.70) scale(1.090 1)" font-size="20.20" text-anchor="middle">50</text>
<line x1="1698.21" y1="1219.40" x2="1698.21" y2="1223.80" stroke="#222222" stroke-width="1.30"/>
<text class="tk" transform="translate(1698.21 1242.70) scale(1.090 1)" font-size="20.20" text-anchor="middle">100</text>
<line x1="1819.81" y1="1219.40" x2="1819.81" y2="1223.80" stroke="#222222" stroke-width="1.30"/>
<text class="tk" transform="translate(1819.81 1242.70) scale(1.090 1)" font-size="20.20" text-anchor="middle">150</text>
<line x1="1941.42" y1="1219.40" x2="1941.42" y2="1223.80" stroke="#222222" stroke-width="1.30"/>
<text class="tk" transform="translate(1941.42 1242.70) scale(1.090 1)" font-size="20.20" text-anchor="middle">200</text>
<text transform="translate(117.6 39.2) scale(0.93 1)" font-size="50" font-weight="bold">a</text>
<text transform="translate(797.3 39.0) scale(1.00 1)" font-size="50" font-weight="bold">b</text>
<text transform="translate(1460.3 39.5) scale(1.03 1)" font-size="50" font-weight="bold">c</text>
<text transform="translate(115.6 506.7) scale(1.00 1)" font-size="50" font-weight="bold">d</text>
<text transform="translate(797.9 507.0) scale(1.03 1)" font-size="50" font-weight="bold">e</text>
<text transform="translate(1465.5 506.5) scale(1.08 1)" font-size="50" font-weight="bold">f</text>
<text x="344.5" y="482.5" font-size="26" font-weight="bold" text-anchor="middle">Time (s)</text>
<text x="328.4" y="1278.8" font-size="25.5" font-weight="bold" text-anchor="middle" style="word-spacing:4px">Sampling Points</text>
<text transform="translate(26.6 255.7) rotate(-90)" font-size="25.2" font-weight="bold" text-anchor="middle" style="word-spacing:4px">Analog Voltage Signal (V)</text>
<text transform="translate(26.6 877.7) rotate(-90)" font-size="25.2" font-weight="bold" text-anchor="middle" style="word-spacing:4px">Analog Voltage Signal (V)</text>
<line x1="57" y1="267.3" x2="58.5" y2="267.3" stroke="#888" stroke-width="1"/>
<text x="365.4" y="559.9" font-size="25.7" text-anchor="end" style="fill:#6d7076">Non-triggered</text>
<text x="365.4" y="590.8" font-size="25.7" text-anchor="end" style="fill:#6d7076">Windows</text>
<text x="114.1" y="881.5" font-size="30.1" style="fill:#2a2d33">Best Thresholds</text>
<text transform="translate(458.1 529.0) rotate(-90)" font-size="25" text-anchor="end">Trigger</text>
<text transform="translate(489.5 529.0) rotate(-90)" font-size="25" text-anchor="end">Windows</text>
<text x="1320.9" y="617.7" font-size="25.8" text-anchor="end" style="fill:#2a3035">Strict Threshold</text>
<text x="1320.9" y="649.0" font-size="25.8" text-anchor="end" style="fill:#2a3035">Intervals</text>
<text x="973.2" y="1151.8" font-size="25.8" text-anchor="end" style="fill:#6d7076">Non-triggered</text>
<text x="973.2" y="1183.0" font-size="25.8" text-anchor="end" style="fill:#6d7076">Windows</text>
<text x="1739.0" y="566.3" font-size="26" text-anchor="end" style="fill:#76787a">Non-triggered</text>
<text x="1739.0" y="597.1" font-size="26" text-anchor="end" style="fill:#76787a">Windows</text>
<text x="1463.1" y="881.2" font-size="30.1" style="fill:#2a2d33">Best Thresholds</text>
<text x="1468.0" y="1136.8" font-size="30.4" style="fill:#231f20">Noise-<tspan font-weight="bold" style="fill:#3a3a3a">N</tspan></text>
<text transform="translate(1827.2 1214.0) rotate(-90)" font-size="26">Trigger</text>
<text transform="translate(1859.3 1214.0) rotate(-90)" font-size="26">Windows</text>
<polygon points="442.6,368.7 435.0,396.3 450.1,396.3" fill="#e0c840"/>
<line x1="452.8" y1="399.5" x2="482.6" y2="489.4" stroke="#e3d55c" stroke-width="4.8" stroke-linecap="round"/>
<polygon points="487.3,503.6 466.9,481.9 482.3,488.4 490.7,474.0" fill="#e3d55c"/>
<polygon points="1117.6,273.0 1110.1,300.6 1125.0,300.6" fill="#f07040"/>
<line x1="1117.9" y1="312.5" x2="1133.9" y2="483.5" stroke="#ee8a64" stroke-width="4.8" stroke-linecap="round"/>
<polygon points="1135.2,497.4 1119.8,472.7 1133.8,482.5 1145.7,470.3" fill="#ee8a64"/>
<polygon points="1777.2,152.9 1793.8,152.9 1785.2,180.1" fill="#5ec9c3"/>
<line x1="1797.2" y1="175.8" x2="1837.8" y2="489.9" stroke="#6fd8d2" stroke-width="4.8" stroke-linecap="round"/>
<polygon points="1839.6,503.8 1823.9,479.6 1837.7,488.9 1848.7,476.4" fill="#6fd8d2"/>
</svg></body></html>
